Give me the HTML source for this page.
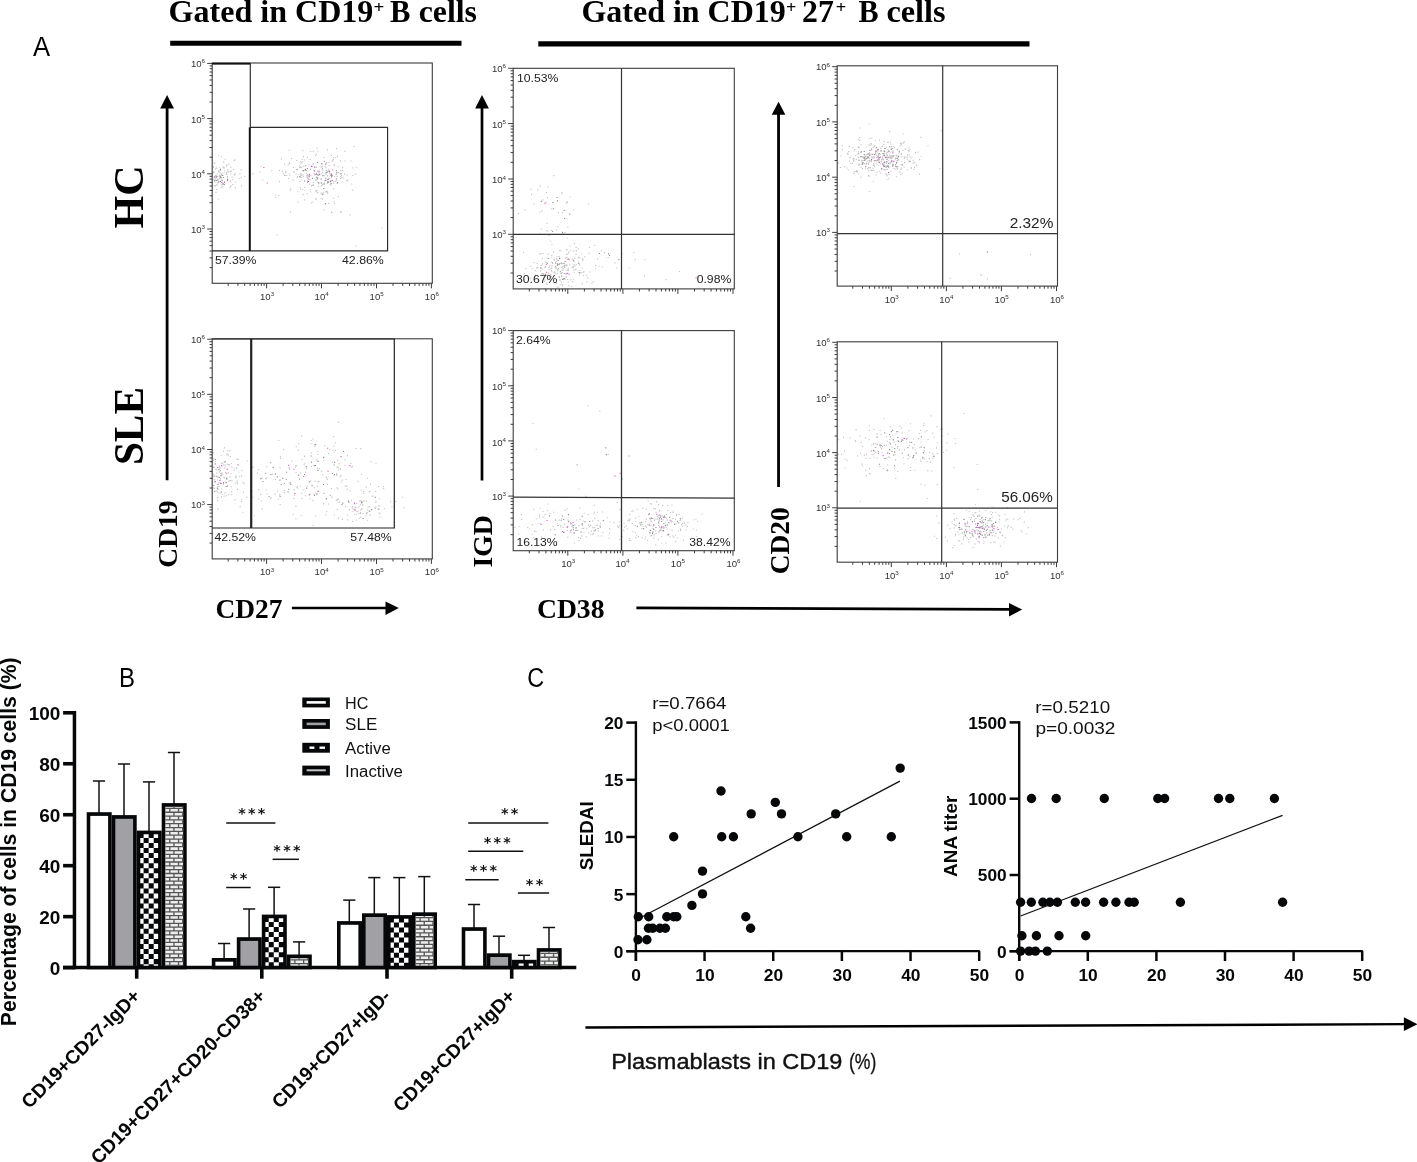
<!DOCTYPE html>
<html><head><meta charset="utf-8"><title>Figure</title><style>html,body{margin:0;padding:0;background:#fff}svg{display:block}</style></head><body>
<svg width="1417" height="1162" viewBox="0 0 1417 1162">
<rect width="1417" height="1162" fill="#fff"/>
<defs>
<pattern id="chk" width="10" height="10" patternUnits="userSpaceOnUse" x="3.6" y="8.1"><rect width="10" height="10" fill="#fff"/><rect width="5" height="5" fill="#000"/><rect x="5" y="5" width="5" height="5" fill="#000"/></pattern>
<pattern id="brk" width="8.6" height="7.6" patternUnits="userSpaceOnUse" x="0.2" y="0.4"><rect width="8.6" height="7.6" fill="#fff"/><rect x="0.6" y="0.8" width="7.2" height="2.3" fill="#cfcfcf"/><rect x="-3.7" y="4.6" width="7.2" height="2.3" fill="#cfcfcf"/><rect x="4.9" y="4.6" width="7.2" height="2.3" fill="#cfcfcf"/></pattern>
</defs>
<text transform="translate(168.60,22.4) scale(1.0244,1)" font-family='"Liberation Serif", serif' font-size="31.30" font-weight="bold" fill="#000" >Gated in CD19</text>
<text transform="translate(373.59,13.3) scale(1.1871,1)" font-family='"Liberation Serif", serif' font-size="16.00" font-weight="bold" fill="#000" >+</text>
<text transform="translate(389.89,22.4) scale(0.9790,1)" font-family='"Liberation Serif", serif' font-size="31.30" font-weight="bold" fill="#000" >B</text>
<text transform="translate(418.64,22.4) scale(1.0180,1)" font-family='"Liberation Serif", serif' font-size="31.30" font-weight="bold" fill="#000" >cells</text>
<text transform="translate(581.40,22.2) scale(1.0224,1)" font-family='"Liberation Serif", serif' font-size="31.30" font-weight="bold" fill="#000" >Gated in CD19</text>
<text transform="translate(786.03,13.1) scale(1.1331,1)" font-family='"Liberation Serif", serif' font-size="16.00" font-weight="bold" fill="#000" >+</text>
<text transform="translate(802.12,22.2) scale(1.0167,1)" font-family='"Liberation Serif", serif' font-size="31.30" font-weight="bold" fill="#000" >27</text>
<text transform="translate(835.81,13.1) scale(1.1601,1)" font-family='"Liberation Serif", serif' font-size="16.00" font-weight="bold" fill="#000" >+</text>
<text transform="translate(858.40,22.2) scale(0.9637,1)" font-family='"Liberation Serif", serif' font-size="31.30" font-weight="bold" fill="#000" >B</text>
<text transform="translate(886.42,22.2) scale(1.0324,1)" font-family='"Liberation Serif", serif' font-size="31.30" font-weight="bold" fill="#000" >cells</text>
<line x1="170.2" y1="43.25" x2="461.5" y2="43.25" stroke="#000" stroke-width="5.0" />
<line x1="538.3" y1="43.85" x2="1029.5" y2="43.85" stroke="#000" stroke-width="5.2" />
<text transform="translate(32.97,56.0) scale(0.9167,1)" font-family='"Liberation Sans", sans-serif' font-size="28.00" font-weight="normal" fill="#000" >A</text>
<text transform="translate(143.0,228.50) rotate(-90) scale(1.0155,1)" font-family='"Liberation Serif", serif' font-size="41.37" font-weight="bold" fill="#000">HC</text>
<text transform="translate(142.8,465.10) rotate(-90) scale(0.9838,1)" font-family='"Liberation Serif", serif' font-size="41.98" font-weight="bold" fill="#000">SLE</text>
<line x1="167.1" y1="107.6" x2="167.1" y2="480.3" stroke="#000" stroke-width="2.8" />
<polygon points="167.1,95.0 160.2,108.6 174.0,108.6" fill="#000"/>
<line x1="482.0" y1="107.6" x2="482.0" y2="480.5" stroke="#000" stroke-width="2.7" />
<polygon points="482.0,95.0 475.1,108.6 488.9,108.6" fill="#000"/>
<line x1="778.55" y1="113.8" x2="778.55" y2="486.9" stroke="#000" stroke-width="2.8" />
<polygon points="778.55,101.7 771.75,114.8 785.3499999999999,114.8" fill="#000"/>
<text transform="translate(177.1,567.67) rotate(-90) scale(0.9896,1)" font-family='"Liberation Serif", serif' font-size="27.79" font-weight="bold" fill="#000">CD19</text>
<text transform="translate(492.0,567.52) rotate(-90) scale(0.9980,1)" font-family='"Liberation Serif", serif' font-size="27.79" font-weight="bold" fill="#000">IGD</text>
<text transform="translate(788.9,574.17) rotate(-90) scale(0.9904,1)" font-family='"Liberation Serif", serif' font-size="27.63" font-weight="bold" fill="#000">CD20</text>
<text transform="translate(215.43,617.8) scale(0.9925,1)" font-family='"Liberation Serif", serif' font-size="27.63" font-weight="bold" fill="#000" >CD27</text>
<line x1="291.9" y1="608.0" x2="388" y2="608.0" stroke="#000" stroke-width="2.7" />
<polygon points="398.8,608.1 385.5,601.4 385.5,614.9" fill="#000"/>
<text transform="translate(536.92,618.2) scale(1.0013,1)" font-family='"Liberation Serif", serif' font-size="27.63" font-weight="bold" fill="#000" >CD38</text>
<line x1="636.4" y1="607.9" x2="1011" y2="609.4" stroke="#000" stroke-width="2.7" />
<polygon points="1022.2,609.6 1009.0,603.0 1009.0,616.4" fill="#000"/>
<path d="M214.7,179.6h1.1v1.1h-1.1zM221.6,179.5h1.1v1.1h-1.1zM219.7,174.6h1.1v1.1h-1.1zM222.0,185.8h1.1v1.1h-1.1zM214.9,168.6h1.1v1.1h-1.1zM216.0,167.6h1.1v1.1h-1.1zM223.9,181.3h1.1v1.1h-1.1zM226.6,171.5h1.1v1.1h-1.1zM230.0,180.2h1.1v1.1h-1.1zM233.7,174.3h1.1v1.1h-1.1zM219.3,177.1h1.1v1.1h-1.1zM219.5,172.3h1.1v1.1h-1.1zM224.6,158.7h1.1v1.1h-1.1zM233.9,159.9h1.1v1.1h-1.1zM216.9,175.8h1.1v1.1h-1.1zM230.2,171.0h1.1v1.1h-1.1zM235.2,181.4h1.1v1.1h-1.1zM228.3,163.6h1.1v1.1h-1.1zM213.6,177.5h1.1v1.1h-1.1zM215.7,176.5h1.1v1.1h-1.1zM229.5,187.2h1.1v1.1h-1.1zM215.4,191.8h1.1v1.1h-1.1zM238.9,178.2h1.1v1.1h-1.1zM226.1,164.5h1.1v1.1h-1.1zM213.4,179.0h1.1v1.1h-1.1zM213.9,180.6h1.1v1.1h-1.1zM234.5,173.3h1.1v1.1h-1.1zM223.1,161.6h1.1v1.1h-1.1zM216.2,188.8h1.1v1.1h-1.1zM239.4,173.3h1.1v1.1h-1.1zM220.6,187.1h1.1v1.1h-1.1zM222.5,166.3h1.1v1.1h-1.1zM218.2,171.4h1.1v1.1h-1.1zM230.3,166.6h1.1v1.1h-1.1zM219.0,167.2h1.1v1.1h-1.1zM225.9,173.4h1.1v1.1h-1.1zM230.7,170.3h1.1v1.1h-1.1zM220.6,178.7h1.1v1.1h-1.1zM218.8,170.3h1.1v1.1h-1.1zM230.1,173.4h1.1v1.1h-1.1zM240.8,177.1h1.1v1.1h-1.1zM215.2,181.4h1.1v1.1h-1.1zM224.1,170.5h1.1v1.1h-1.1zM215.3,174.7h1.1v1.1h-1.1zM217.3,175.7h1.1v1.1h-1.1zM221.8,184.0h1.1v1.1h-1.1zM217.9,170.8h1.1v1.1h-1.1zM217.1,182.2h1.1v1.1h-1.1zM218.2,155.2h1.1v1.1h-1.1zM223.5,172.5h1.1v1.1h-1.1zM233.1,169.0h1.1v1.1h-1.1zM217.2,178.5h1.1v1.1h-1.1zM221.1,156.2h1.1v1.1h-1.1zM214.2,162.1h1.1v1.1h-1.1zM234.5,159.2h1.1v1.1h-1.1zM225.7,172.3h1.1v1.1h-1.1zM234.0,173.9h1.1v1.1h-1.1zM216.7,173.2h1.1v1.1h-1.1zM241.0,185.3h1.1v1.1h-1.1zM232.2,178.8h1.1v1.1h-1.1zM223.5,181.9h1.1v1.1h-1.1zM227.2,169.3h1.1v1.1h-1.1zM219.6,176.7h1.1v1.1h-1.1zM213.9,176.6h1.1v1.1h-1.1zM232.3,183.9h1.1v1.1h-1.1zM216.5,179.7h1.1v1.1h-1.1zM231.6,176.4h1.1v1.1h-1.1zM220.8,184.5h1.1v1.1h-1.1zM230.1,185.3h1.1v1.1h-1.1zM213.6,162.7h1.1v1.1h-1.1zM230.4,181.4h1.1v1.1h-1.1zM219.0,178.2h1.1v1.1h-1.1zM226.2,165.3h1.1v1.1h-1.1zM217.4,182.5h1.1v1.1h-1.1zM240.5,169.3h1.1v1.1h-1.1zM217.8,198.4h1.1v1.1h-1.1zM301.1,167.1h1.1v1.1h-1.1zM304.1,159.4h1.1v1.1h-1.1zM307.1,180.3h1.1v1.1h-1.1zM333.2,188.2h1.1v1.1h-1.1zM347.2,179.7h1.1v1.1h-1.1zM299.9,161.2h1.1v1.1h-1.1zM330.5,184.3h1.1v1.1h-1.1zM332.7,156.9h1.1v1.1h-1.1zM288.8,162.3h1.1v1.1h-1.1zM328.5,161.9h1.1v1.1h-1.1zM301.0,162.2h1.1v1.1h-1.1zM346.6,174.4h1.1v1.1h-1.1zM298.2,173.7h1.1v1.1h-1.1zM341.9,181.2h1.1v1.1h-1.1zM329.2,177.9h1.1v1.1h-1.1zM325.3,191.3h1.1v1.1h-1.1zM302.3,174.4h1.1v1.1h-1.1zM306.9,156.8h1.1v1.1h-1.1zM317.3,192.1h1.1v1.1h-1.1zM315.2,190.3h1.1v1.1h-1.1zM312.0,165.9h1.1v1.1h-1.1zM326.4,169.5h1.1v1.1h-1.1zM320.8,173.2h1.1v1.1h-1.1zM335.9,147.9h1.1v1.1h-1.1zM316.7,181.5h1.1v1.1h-1.1zM278.9,169.9h1.1v1.1h-1.1zM326.1,162.1h1.1v1.1h-1.1zM314.6,166.4h1.1v1.1h-1.1zM318.5,173.5h1.1v1.1h-1.1zM322.3,169.3h1.1v1.1h-1.1zM310.1,150.9h1.1v1.1h-1.1zM306.9,181.9h1.1v1.1h-1.1zM305.2,168.5h1.1v1.1h-1.1zM324.7,166.2h1.1v1.1h-1.1zM318.1,182.6h1.1v1.1h-1.1zM323.7,183.9h1.1v1.1h-1.1zM339.9,160.6h1.1v1.1h-1.1zM350.5,160.5h1.1v1.1h-1.1zM317.0,170.6h1.1v1.1h-1.1zM292.5,179.6h1.1v1.1h-1.1zM316.9,177.4h1.1v1.1h-1.1zM310.2,191.2h1.1v1.1h-1.1zM316.5,190.0h1.1v1.1h-1.1zM323.8,180.4h1.1v1.1h-1.1zM306.7,174.1h1.1v1.1h-1.1zM287.7,164.3h1.1v1.1h-1.1zM303.9,179.9h1.1v1.1h-1.1zM310.8,202.4h1.1v1.1h-1.1zM295.5,173.7h1.1v1.1h-1.1zM304.0,181.0h1.1v1.1h-1.1zM342.6,177.5h1.1v1.1h-1.1zM289.6,189.8h1.1v1.1h-1.1zM344.4,150.8h1.1v1.1h-1.1zM325.2,178.0h1.1v1.1h-1.1zM302.2,150.1h1.1v1.1h-1.1zM301.6,159.0h1.1v1.1h-1.1zM313.7,173.0h1.1v1.1h-1.1zM321.9,198.6h1.1v1.1h-1.1zM301.8,161.1h1.1v1.1h-1.1zM335.6,179.7h1.1v1.1h-1.1zM309.3,179.1h1.1v1.1h-1.1zM331.5,174.6h1.1v1.1h-1.1zM340.3,170.0h1.1v1.1h-1.1zM342.2,169.8h1.1v1.1h-1.1zM336.6,175.8h1.1v1.1h-1.1zM307.2,178.1h1.1v1.1h-1.1zM309.2,183.8h1.1v1.1h-1.1zM327.2,192.6h1.1v1.1h-1.1zM307.2,173.8h1.1v1.1h-1.1zM306.8,192.9h1.1v1.1h-1.1zM322.8,192.3h1.1v1.1h-1.1zM320.8,185.3h1.1v1.1h-1.1zM328.0,202.9h1.1v1.1h-1.1zM344.6,160.4h1.1v1.1h-1.1zM355.1,173.6h1.1v1.1h-1.1zM332.8,197.7h1.1v1.1h-1.1zM341.2,177.2h1.1v1.1h-1.1zM325.9,172.4h1.1v1.1h-1.1zM322.0,184.0h1.1v1.1h-1.1zM302.8,175.8h1.1v1.1h-1.1zM323.3,183.8h1.1v1.1h-1.1zM334.2,176.1h1.1v1.1h-1.1zM351.2,183.5h1.1v1.1h-1.1zM317.4,150.5h1.1v1.1h-1.1zM312.4,201.4h1.1v1.1h-1.1zM316.1,191.4h1.1v1.1h-1.1zM317.8,174.9h1.1v1.1h-1.1zM337.6,166.2h1.1v1.1h-1.1zM329.5,175.2h1.1v1.1h-1.1zM356.2,166.7h1.1v1.1h-1.1zM317.9,185.7h1.1v1.1h-1.1zM327.2,170.9h1.1v1.1h-1.1zM315.8,153.6h1.1v1.1h-1.1zM299.9,188.7h1.1v1.1h-1.1zM326.7,191.4h1.1v1.1h-1.1zM321.9,175.1h1.1v1.1h-1.1zM297.5,201.4h1.1v1.1h-1.1zM333.5,181.4h1.1v1.1h-1.1zM307.0,176.6h1.1v1.1h-1.1zM300.6,162.7h1.1v1.1h-1.1zM331.5,160.7h1.1v1.1h-1.1zM325.2,166.3h1.1v1.1h-1.1zM299.7,186.9h1.1v1.1h-1.1zM278.3,194.9h1.1v1.1h-1.1zM321.4,193.9h1.1v1.1h-1.1zM325.4,173.7h1.1v1.1h-1.1zM330.9,154.9h1.1v1.1h-1.1zM333.9,201.5h1.1v1.1h-1.1zM332.0,169.5h1.1v1.1h-1.1zM306.2,176.7h1.1v1.1h-1.1zM325.1,172.3h1.1v1.1h-1.1zM299.2,164.7h1.1v1.1h-1.1zM332.2,174.7h1.1v1.1h-1.1zM330.9,180.6h1.1v1.1h-1.1zM304.0,199.5h1.1v1.1h-1.1zM304.3,169.8h1.1v1.1h-1.1zM353.5,146.0h1.1v1.1h-1.1zM326.4,190.8h1.1v1.1h-1.1zM352.4,174.9h1.1v1.1h-1.1zM325.0,163.8h1.1v1.1h-1.1zM296.3,169.0h1.1v1.1h-1.1zM281.9,170.7h1.1v1.1h-1.1zM289.1,175.2h1.1v1.1h-1.1zM320.7,179.4h1.1v1.1h-1.1zM332.2,169.1h1.1v1.1h-1.1zM296.3,159.9h1.1v1.1h-1.1zM320.5,166.4h1.1v1.1h-1.1zM335.1,157.0h1.1v1.1h-1.1zM321.2,184.9h1.1v1.1h-1.1zM322.2,169.3h1.1v1.1h-1.1zM299.5,181.0h1.1v1.1h-1.1zM308.6,163.9h1.1v1.1h-1.1zM340.0,176.2h1.1v1.1h-1.1zM320.5,192.6h1.1v1.1h-1.1zM308.3,175.8h1.1v1.1h-1.1zM324.6,177.6h1.1v1.1h-1.1zM332.5,180.5h1.1v1.1h-1.1zM340.0,178.0h1.1v1.1h-1.1zM315.1,155.0h1.1v1.1h-1.1zM326.2,172.2h1.1v1.1h-1.1zM344.0,173.6h1.1v1.1h-1.1zM333.7,203.2h1.1v1.1h-1.1zM352.3,167.4h1.1v1.1h-1.1zM326.8,149.3h1.1v1.1h-1.1zM302.1,188.9h1.1v1.1h-1.1zM328.2,168.7h1.1v1.1h-1.1zM329.7,184.2h1.1v1.1h-1.1zM321.2,182.3h1.1v1.1h-1.1zM337.9,195.9h1.1v1.1h-1.1zM325.7,169.9h1.1v1.1h-1.1zM332.8,183.0h1.1v1.1h-1.1zM297.3,191.2h1.1v1.1h-1.1zM289.0,163.0h1.1v1.1h-1.1zM321.7,165.8h1.1v1.1h-1.1zM304.6,169.1h1.1v1.1h-1.1zM308.7,176.4h1.1v1.1h-1.1zM346.3,180.1h1.1v1.1h-1.1zM288.5,149.7h1.1v1.1h-1.1zM326.9,175.3h1.1v1.1h-1.1zM300.5,179.4h1.1v1.1h-1.1zM325.8,179.8h1.1v1.1h-1.1zM336.8,182.9h1.1v1.1h-1.1zM341.0,175.1h1.1v1.1h-1.1zM304.4,186.8h1.1v1.1h-1.1zM342.0,167.1h1.1v1.1h-1.1zM321.9,172.1h1.1v1.1h-1.1zM318.5,172.3h1.1v1.1h-1.1zM303.2,165.8h1.1v1.1h-1.1zM316.4,177.3h1.1v1.1h-1.1zM332.8,158.9h1.1v1.1h-1.1zM304.4,189.7h1.1v1.1h-1.1zM332.2,159.7h1.1v1.1h-1.1zM301.8,170.1h1.1v1.1h-1.1zM305.6,172.7h1.1v1.1h-1.1zM328.9,172.3h1.1v1.1h-1.1zM316.5,147.6h1.1v1.1h-1.1zM302.7,194.1h1.1v1.1h-1.1zM320.4,198.0h1.1v1.1h-1.1zM309.7,158.8h1.1v1.1h-1.1zM287.9,178.0h1.1v1.1h-1.1zM328.7,164.8h1.1v1.1h-1.1zM271.3,170.2h1.1v1.1h-1.1zM288.6,173.5h1.1v1.1h-1.1zM249.1,161.5h1.1v1.1h-1.1zM302.9,156.1h1.1v1.1h-1.1zM335.2,181.1h1.1v1.1h-1.1zM286.1,174.7h1.1v1.1h-1.1zM296.2,159.9h1.1v1.1h-1.1zM321.2,182.7h1.1v1.1h-1.1zM279.0,181.1h1.1v1.1h-1.1zM262.2,179.5h1.1v1.1h-1.1zM221.4,172.5h1.1v1.1h-1.1zM310.4,175.0h1.1v1.1h-1.1zM284.0,163.9h1.1v1.1h-1.1zM259.6,171.4h1.1v1.1h-1.1zM326.7,183.0h1.1v1.1h-1.1zM300.2,173.1h1.1v1.1h-1.1zM282.8,172.9h1.1v1.1h-1.1zM226.5,174.0h1.1v1.1h-1.1zM252.3,173.3h1.1v1.1h-1.1zM275.2,196.9h1.1v1.1h-1.1zM290.2,188.1h1.1v1.1h-1.1zM312.9,182.1h1.1v1.1h-1.1zM290.9,158.0h1.1v1.1h-1.1zM260.5,166.2h1.1v1.1h-1.1zM230.3,185.9h1.1v1.1h-1.1zM274.7,194.4h1.1v1.1h-1.1zM234.8,187.3h1.1v1.1h-1.1zM244.2,176.0h1.1v1.1h-1.1zM280.8,158.6h1.1v1.1h-1.1zM323.3,209.3h1.1v1.1h-1.1zM308.4,174.8h1.1v1.1h-1.1zM290.1,211.6h1.1v1.1h-1.1zM349.6,214.3h1.1v1.1h-1.1zM316.0,166.8h1.1v1.1h-1.1zM355.3,245.4h1.1v1.1h-1.1zM381.4,227.5h1.1v1.1h-1.1zM276.4,234.4h1.1v1.1h-1.1zM339.8,173.2h1.1v1.1h-1.1zM309.8,188.9h1.1v1.1h-1.1zM352.2,189.6h1.1v1.1h-1.1zM321.1,163.5h1.1v1.1h-1.1zM314.9,166.5h1.1v1.1h-1.1zM322.1,194.1h1.1v1.1h-1.1zM338.0,172.1h1.1v1.1h-1.1z" fill="#c2c2c2"/>
<path d="M227.0,179.9h1.1v1.1h-1.1zM227.0,178.8h1.1v1.1h-1.1zM228.2,171.2h1.1v1.1h-1.1zM215.8,179.9h1.1v1.1h-1.1zM219.9,176.2h1.1v1.1h-1.1zM213.0,166.4h1.1v1.1h-1.1zM223.0,183.5h1.1v1.1h-1.1zM226.9,176.4h1.1v1.1h-1.1zM221.7,179.9h1.1v1.1h-1.1zM219.9,180.8h1.1v1.1h-1.1zM220.1,176.3h1.1v1.1h-1.1zM222.2,175.0h1.1v1.1h-1.1zM213.2,171.6h1.1v1.1h-1.1zM220.6,177.1h1.1v1.1h-1.1zM223.8,184.0h1.1v1.1h-1.1zM219.1,175.4h1.1v1.1h-1.1zM218.2,181.3h1.1v1.1h-1.1zM219.9,169.5h1.1v1.1h-1.1zM216.4,184.4h1.1v1.1h-1.1zM213.8,180.0h1.1v1.1h-1.1zM215.4,175.6h1.1v1.1h-1.1zM221.2,174.3h1.1v1.1h-1.1zM219.9,168.7h1.1v1.1h-1.1zM223.4,167.5h1.1v1.1h-1.1zM217.3,179.3h1.1v1.1h-1.1zM222.7,176.9h1.1v1.1h-1.1zM214.4,185.3h1.1v1.1h-1.1zM216.0,176.4h1.1v1.1h-1.1zM215.3,177.5h1.1v1.1h-1.1zM222.4,183.2h1.1v1.1h-1.1zM317.5,174.4h1.1v1.1h-1.1zM299.3,176.1h1.1v1.1h-1.1zM316.4,174.0h1.1v1.1h-1.1zM331.5,175.3h1.1v1.1h-1.1zM328.1,181.7h1.1v1.1h-1.1zM314.0,170.5h1.1v1.1h-1.1zM300.5,176.7h1.1v1.1h-1.1zM323.2,188.1h1.1v1.1h-1.1zM300.5,174.6h1.1v1.1h-1.1zM327.3,181.8h1.1v1.1h-1.1zM317.2,177.4h1.1v1.1h-1.1zM330.6,182.9h1.1v1.1h-1.1zM303.0,170.1h1.1v1.1h-1.1zM335.5,173.7h1.1v1.1h-1.1zM320.5,178.5h1.1v1.1h-1.1zM327.9,178.4h1.1v1.1h-1.1zM320.7,182.5h1.1v1.1h-1.1zM297.0,176.4h1.1v1.1h-1.1zM315.2,179.4h1.1v1.1h-1.1zM306.4,175.2h1.1v1.1h-1.1zM335.9,170.2h1.1v1.1h-1.1zM326.5,172.0h1.1v1.1h-1.1zM323.3,175.2h1.1v1.1h-1.1zM307.9,181.0h1.1v1.1h-1.1zM331.0,174.2h1.1v1.1h-1.1zM306.9,167.9h1.1v1.1h-1.1zM318.2,182.3h1.1v1.1h-1.1zM333.7,164.4h1.1v1.1h-1.1zM330.9,176.3h1.1v1.1h-1.1zM309.8,168.7h1.1v1.1h-1.1zM324.8,179.8h1.1v1.1h-1.1zM323.5,182.7h1.1v1.1h-1.1zM323.7,160.7h1.1v1.1h-1.1zM313.5,170.3h1.1v1.1h-1.1zM312.5,163.4h1.1v1.1h-1.1zM336.9,182.1h1.1v1.1h-1.1zM309.0,173.8h1.1v1.1h-1.1zM336.2,172.1h1.1v1.1h-1.1zM311.9,177.8h1.1v1.1h-1.1zM296.6,169.2h1.1v1.1h-1.1zM335.9,178.4h1.1v1.1h-1.1zM316.2,176.7h1.1v1.1h-1.1zM340.5,173.3h1.1v1.1h-1.1zM319.1,174.1h1.1v1.1h-1.1zM329.8,180.4h1.1v1.1h-1.1zM299.5,166.6h1.1v1.1h-1.1zM305.1,165.2h1.1v1.1h-1.1zM329.0,170.8h1.1v1.1h-1.1zM321.3,163.1h1.1v1.1h-1.1zM326.3,171.8h1.1v1.1h-1.1zM321.8,167.7h1.1v1.1h-1.1zM317.1,161.9h1.1v1.1h-1.1zM330.4,174.8h1.1v1.1h-1.1zM305.6,170.0h1.1v1.1h-1.1zM284.3,174.8h1.1v1.1h-1.1zM304.9,169.0h1.1v1.1h-1.1zM316.7,178.4h1.1v1.1h-1.1zM293.4,171.4h1.1v1.1h-1.1zM285.2,171.5h1.1v1.1h-1.1zM331.2,211.7h1.1v1.1h-1.1zM340.5,211.3h1.1v1.1h-1.1zM315.3,198.5h1.1v1.1h-1.1zM327.2,180.9h1.1v1.1h-1.1zM322.3,193.5h1.1v1.1h-1.1zM325.0,203.1h1.1v1.1h-1.1zM311.2,185.2h1.1v1.1h-1.1zM329.9,181.2h1.1v1.1h-1.1zM312.7,184.6h1.1v1.1h-1.1z" fill="#8e8e8e"/>
<path d="M213.9,176.4h1.1v1.1h-1.1zM221.3,182.0h1.1v1.1h-1.1zM224.0,181.7h1.1v1.1h-1.1zM331.7,179.9h1.1v1.1h-1.1zM314.0,166.5h1.1v1.1h-1.1zM315.7,173.3h1.1v1.1h-1.1zM314.4,174.2h1.1v1.1h-1.1zM307.6,181.0h1.1v1.1h-1.1zM328.2,170.4h1.1v1.1h-1.1zM325.4,163.5h1.1v1.1h-1.1zM318.5,170.8h1.1v1.1h-1.1zM330.5,173.3h1.1v1.1h-1.1zM308.8,175.6h1.1v1.1h-1.1zM310.9,165.8h1.1v1.1h-1.1zM308.2,178.5h1.1v1.1h-1.1zM327.2,178.9h1.1v1.1h-1.1zM263.3,166.9h1.1v1.1h-1.1zM266.7,182.5h1.1v1.1h-1.1z" fill="#d455c6"/>
<path d="M336.9,155.8h1.1v1.1h-1.1zM312.6,150.8h1.1v1.1h-1.1zM293.1,166.9h1.1v1.1h-1.1zM323.2,156.9h1.1v1.1h-1.1z" fill="#e3b4de"/>
<rect x="212.2" y="63" width="220.10000000000002" height="220.3" fill="none" stroke="#3c3c3c" stroke-width="1.1"/>
<path d="M228.2,283.3v2.6M212.2,267.6h-2.6M237.9,283.3v2.6M212.2,257.9h-2.6M244.7,283.3v2.6M212.2,251.0h-2.6M250.1,283.3v2.6M212.2,245.6h-2.6M254.4,283.3v2.6M212.2,241.2h-2.6M258.1,283.3v2.6M212.2,237.6h-2.6M261.3,283.3v2.6M212.2,234.3h-2.6M264.1,283.3v2.6M212.2,231.5h-2.6M266.6,283.3v5.0M212.2,229.0h-5.0M283.1,283.3v2.6M212.2,212.4h-2.6M292.8,283.3v2.6M212.2,202.7h-2.6M299.7,283.3v2.6M212.2,195.8h-2.6M305.0,283.3v2.6M212.2,190.4h-2.6M309.3,283.3v2.6M212.2,186.0h-2.6M313.0,283.3v2.6M212.2,182.4h-2.6M316.2,283.3v2.6M212.2,179.1h-2.6M319.0,283.3v2.6M212.2,176.3h-2.6M321.5,283.3v5.0M212.2,173.8h-5.0M338.1,283.3v2.6M212.2,157.2h-2.6M347.7,283.3v2.6M212.2,147.5h-2.6M354.6,283.3v2.6M212.2,140.6h-2.6M359.9,283.3v2.6M212.2,135.2h-2.6M364.3,283.3v2.6M212.2,130.8h-2.6M368.0,283.3v2.6M212.2,127.2h-2.6M371.1,283.3v2.6M212.2,123.9h-2.6M374.0,283.3v2.6M212.2,121.1h-2.6M376.5,283.3v5.0M212.2,118.6h-5.0M393.0,283.3v2.6M212.2,102.0h-2.6M402.7,283.3v2.6M212.2,92.3h-2.6M409.5,283.3v2.6M212.2,85.4h-2.6M414.9,283.3v2.6M212.2,80.0h-2.6M419.2,283.3v2.6M212.2,75.6h-2.6M422.9,283.3v2.6M212.2,72.0h-2.6M426.1,283.3v2.6M212.2,68.7h-2.6M428.9,283.3v2.6M212.2,65.9h-2.6M431.4,283.3v5.0M212.2,63.4h-5.0" stroke="#3c3c3c" stroke-width="1" fill="none"/>
<text x="260.0" y="299.7" font-family='"Liberation Sans", sans-serif' font-size="9.6" fill="#333">10<tspan dy="-3.7" font-size="6.2">3</tspan></text>
<text x="190.9" y="232.6" font-family='"Liberation Sans", sans-serif' font-size="9.6" fill="#333">10<tspan dy="-3.7" font-size="6.2">3</tspan></text>
<text x="314.6" y="299.7" font-family='"Liberation Sans", sans-serif' font-size="9.6" fill="#333">10<tspan dy="-3.7" font-size="6.2">4</tspan></text>
<text x="190.9" y="177.8" font-family='"Liberation Sans", sans-serif' font-size="9.6" fill="#333">10<tspan dy="-3.7" font-size="6.2">4</tspan></text>
<text x="369.6" y="299.7" font-family='"Liberation Sans", sans-serif' font-size="9.6" fill="#333">10<tspan dy="-3.7" font-size="6.2">5</tspan></text>
<text x="190.9" y="122.5" font-family='"Liberation Sans", sans-serif' font-size="9.6" fill="#333">10<tspan dy="-3.7" font-size="6.2">5</tspan></text>
<text x="424.8" y="299.7" font-family='"Liberation Sans", sans-serif' font-size="9.6" fill="#333">10<tspan dy="-3.7" font-size="6.2">6</tspan></text>
<text x="190.9" y="67.0" font-family='"Liberation Sans", sans-serif' font-size="9.6" fill="#333">10<tspan dy="-3.7" font-size="6.2">6</tspan></text>
<path d="M212.2,63.6H250.3V127.4H387.6V250.9H212.2" fill="none" stroke="#2a2a2a" stroke-width="1.15"/>
<line x1="249.8" y1="127.4" x2="249.8" y2="250.9" stroke="#111" stroke-width="2" />
<line x1="212.2" y1="63.6" x2="250.3" y2="63.6" stroke="#111" stroke-width="1.6" />
<text x="214.9" y="263.7" font-family='"Liberation Sans", sans-serif' font-size="11.3" font-weight="normal" text-anchor="start" fill="#222" textLength="41.5" lengthAdjust="spacingAndGlyphs" >57.39%</text>
<text x="342" y="263.7" font-family='"Liberation Sans", sans-serif' font-size="11.3" font-weight="normal" text-anchor="start" fill="#222" textLength="41.8" lengthAdjust="spacingAndGlyphs" >42.86%</text>
<path d="M218.0,488.6h1.1v1.1h-1.1zM224.5,492.3h1.1v1.1h-1.1zM221.0,474.4h1.1v1.1h-1.1zM228.2,494.2h1.1v1.1h-1.1zM213.0,474.3h1.1v1.1h-1.1zM224.4,461.1h1.1v1.1h-1.1zM225.2,472.1h1.1v1.1h-1.1zM240.8,501.1h1.1v1.1h-1.1zM229.4,476.1h1.1v1.1h-1.1zM220.9,496.1h1.1v1.1h-1.1zM231.1,491.3h1.1v1.1h-1.1zM228.0,472.3h1.1v1.1h-1.1zM226.5,453.3h1.1v1.1h-1.1zM223.2,464.5h1.1v1.1h-1.1zM235.6,475.4h1.1v1.1h-1.1zM218.3,486.0h1.1v1.1h-1.1zM229.2,450.1h1.1v1.1h-1.1zM231.2,493.9h1.1v1.1h-1.1zM219.7,475.2h1.1v1.1h-1.1zM223.0,482.4h1.1v1.1h-1.1zM214.4,481.2h1.1v1.1h-1.1zM219.7,467.4h1.1v1.1h-1.1zM223.0,450.9h1.1v1.1h-1.1zM213.2,460.0h1.1v1.1h-1.1zM218.6,482.1h1.1v1.1h-1.1zM239.1,476.0h1.1v1.1h-1.1zM223.7,464.4h1.1v1.1h-1.1zM222.2,473.7h1.1v1.1h-1.1zM216.3,472.6h1.1v1.1h-1.1zM220.3,473.0h1.1v1.1h-1.1zM224.8,465.5h1.1v1.1h-1.1zM220.9,488.5h1.1v1.1h-1.1zM216.2,490.3h1.1v1.1h-1.1zM218.7,471.4h1.1v1.1h-1.1zM231.3,466.6h1.1v1.1h-1.1zM223.9,447.3h1.1v1.1h-1.1zM213.1,458.5h1.1v1.1h-1.1zM221.8,493.7h1.1v1.1h-1.1zM236.5,480.2h1.1v1.1h-1.1zM226.5,454.5h1.1v1.1h-1.1zM217.5,486.0h1.1v1.1h-1.1zM213.1,487.5h1.1v1.1h-1.1zM221.4,473.2h1.1v1.1h-1.1zM223.4,476.6h1.1v1.1h-1.1zM230.4,473.2h1.1v1.1h-1.1zM230.7,486.2h1.1v1.1h-1.1zM215.7,468.9h1.1v1.1h-1.1zM236.9,488.8h1.1v1.1h-1.1zM235.4,477.3h1.1v1.1h-1.1zM220.6,454.7h1.1v1.1h-1.1zM217.4,469.6h1.1v1.1h-1.1zM214.9,461.0h1.1v1.1h-1.1zM217.3,508.6h1.1v1.1h-1.1zM219.9,475.2h1.1v1.1h-1.1zM217.1,467.2h1.1v1.1h-1.1zM215.3,468.5h1.1v1.1h-1.1zM236.1,467.3h1.1v1.1h-1.1zM217.0,479.4h1.1v1.1h-1.1zM238.5,471.5h1.1v1.1h-1.1zM213.8,487.8h1.1v1.1h-1.1zM217.1,488.6h1.1v1.1h-1.1zM228.0,454.4h1.1v1.1h-1.1zM229.8,456.0h1.1v1.1h-1.1zM223.6,495.6h1.1v1.1h-1.1zM219.5,492.7h1.1v1.1h-1.1zM217.5,496.7h1.1v1.1h-1.1zM213.4,476.4h1.1v1.1h-1.1zM219.1,465.6h1.1v1.1h-1.1zM236.2,458.7h1.1v1.1h-1.1zM214.8,463.2h1.1v1.1h-1.1zM220.0,478.2h1.1v1.1h-1.1zM214.3,479.4h1.1v1.1h-1.1zM219.5,467.6h1.1v1.1h-1.1zM220.9,475.4h1.1v1.1h-1.1zM226.5,463.8h1.1v1.1h-1.1zM216.6,497.5h1.1v1.1h-1.1zM235.7,467.7h1.1v1.1h-1.1zM231.3,480.2h1.1v1.1h-1.1zM221.4,472.5h1.1v1.1h-1.1zM213.6,478.9h1.1v1.1h-1.1zM217.4,491.7h1.1v1.1h-1.1zM233.8,469.8h1.1v1.1h-1.1zM251.3,466.4h1.1v1.1h-1.1zM237.5,458.8h1.1v1.1h-1.1zM236.5,481.7h1.1v1.1h-1.1zM223.8,477.5h1.1v1.1h-1.1zM233.3,467.7h1.1v1.1h-1.1zM218.4,482.2h1.1v1.1h-1.1zM235.4,476.6h1.1v1.1h-1.1zM242.6,481.7h1.1v1.1h-1.1zM238.2,464.5h1.1v1.1h-1.1zM237.1,464.2h1.1v1.1h-1.1zM223.6,461.7h1.1v1.1h-1.1zM224.0,467.6h1.1v1.1h-1.1zM222.9,483.6h1.1v1.1h-1.1zM214.6,481.8h1.1v1.1h-1.1zM230.9,463.2h1.1v1.1h-1.1zM256.9,472.4h1.1v1.1h-1.1zM225.4,481.2h1.1v1.1h-1.1zM234.6,482.4h1.1v1.1h-1.1zM220.0,474.7h1.1v1.1h-1.1zM226.0,495.2h1.1v1.1h-1.1zM216.9,483.7h1.1v1.1h-1.1zM212.7,452.1h1.1v1.1h-1.1zM219.2,479.6h1.1v1.1h-1.1zM236.9,483.1h1.1v1.1h-1.1zM334.9,449.8h1.1v1.1h-1.1zM369.9,483.8h1.1v1.1h-1.1zM265.5,477.6h1.1v1.1h-1.1zM336.8,499.6h1.1v1.1h-1.1zM318.7,468.2h1.1v1.1h-1.1zM260.8,500.4h1.1v1.1h-1.1zM355.4,448.0h1.1v1.1h-1.1zM260.8,478.2h1.1v1.1h-1.1zM383.0,486.1h1.1v1.1h-1.1zM266.0,466.2h1.1v1.1h-1.1zM295.6,472.0h1.1v1.1h-1.1zM246.7,460.5h1.1v1.1h-1.1zM252.4,466.8h1.1v1.1h-1.1zM334.6,442.3h1.1v1.1h-1.1zM246.3,496.5h1.1v1.1h-1.1zM239.6,506.1h1.1v1.1h-1.1zM217.1,500.0h1.1v1.1h-1.1zM350.2,462.8h1.1v1.1h-1.1zM336.5,487.2h1.1v1.1h-1.1zM322.2,474.5h1.1v1.1h-1.1zM279.5,467.3h1.1v1.1h-1.1zM330.9,488.1h1.1v1.1h-1.1zM317.4,481.3h1.1v1.1h-1.1zM312.5,438.3h1.1v1.1h-1.1zM324.2,445.2h1.1v1.1h-1.1zM344.8,485.5h1.1v1.1h-1.1zM288.9,467.0h1.1v1.1h-1.1zM266.2,477.6h1.1v1.1h-1.1zM293.6,494.9h1.1v1.1h-1.1zM331.3,496.6h1.1v1.1h-1.1zM274.8,478.8h1.1v1.1h-1.1zM318.1,491.0h1.1v1.1h-1.1zM241.3,470.1h1.1v1.1h-1.1zM258.0,468.9h1.1v1.1h-1.1zM291.2,460.6h1.1v1.1h-1.1zM301.1,492.7h1.1v1.1h-1.1zM261.7,508.6h1.1v1.1h-1.1zM326.7,478.8h1.1v1.1h-1.1zM306.5,485.6h1.1v1.1h-1.1zM251.5,490.8h1.1v1.1h-1.1zM312.6,525.0h1.1v1.1h-1.1zM280.0,457.8h1.1v1.1h-1.1zM316.7,460.4h1.1v1.1h-1.1zM297.7,449.6h1.1v1.1h-1.1zM310.9,452.4h1.1v1.1h-1.1zM304.2,456.2h1.1v1.1h-1.1zM340.5,474.6h1.1v1.1h-1.1zM313.7,444.3h1.1v1.1h-1.1zM274.5,493.6h1.1v1.1h-1.1zM314.4,445.9h1.1v1.1h-1.1zM325.7,498.6h1.1v1.1h-1.1zM361.2,501.2h1.1v1.1h-1.1zM333.8,451.4h1.1v1.1h-1.1zM309.6,498.2h1.1v1.1h-1.1zM310.0,480.4h1.1v1.1h-1.1zM228.0,480.7h1.1v1.1h-1.1zM261.6,477.6h1.1v1.1h-1.1zM276.9,490.8h1.1v1.1h-1.1zM253.8,515.2h1.1v1.1h-1.1zM266.6,493.5h1.1v1.1h-1.1zM360.2,448.1h1.1v1.1h-1.1zM258.3,489.3h1.1v1.1h-1.1zM278.2,498.4h1.1v1.1h-1.1zM313.4,493.8h1.1v1.1h-1.1zM338.6,463.1h1.1v1.1h-1.1zM366.9,477.7h1.1v1.1h-1.1zM314.7,492.4h1.1v1.1h-1.1zM252.2,496.7h1.1v1.1h-1.1zM323.3,460.0h1.1v1.1h-1.1zM312.4,500.0h1.1v1.1h-1.1zM295.4,505.8h1.1v1.1h-1.1zM341.8,479.6h1.1v1.1h-1.1zM313.5,487.3h1.1v1.1h-1.1zM241.0,475.3h1.1v1.1h-1.1zM303.6,464.2h1.1v1.1h-1.1zM356.2,502.8h1.1v1.1h-1.1zM363.4,492.8h1.1v1.1h-1.1zM333.3,475.1h1.1v1.1h-1.1zM300.0,485.4h1.1v1.1h-1.1zM317.0,467.6h1.1v1.1h-1.1zM311.0,466.0h1.1v1.1h-1.1zM336.3,474.8h1.1v1.1h-1.1zM301.4,497.9h1.1v1.1h-1.1zM304.9,495.2h1.1v1.1h-1.1zM243.5,483.1h1.1v1.1h-1.1zM326.1,477.3h1.1v1.1h-1.1zM346.1,485.8h1.1v1.1h-1.1zM327.9,503.4h1.1v1.1h-1.1zM292.5,513.9h1.1v1.1h-1.1zM242.9,491.9h1.1v1.1h-1.1zM316.1,494.1h1.1v1.1h-1.1zM242.3,511.7h1.1v1.1h-1.1zM283.8,482.8h1.1v1.1h-1.1zM295.4,518.5h1.1v1.1h-1.1zM283.8,490.0h1.1v1.1h-1.1zM315.1,515.5h1.1v1.1h-1.1zM304.3,462.4h1.1v1.1h-1.1zM317.1,485.8h1.1v1.1h-1.1zM279.6,503.9h1.1v1.1h-1.1zM272.0,473.5h1.1v1.1h-1.1zM302.5,489.2h1.1v1.1h-1.1zM293.4,497.9h1.1v1.1h-1.1zM310.4,443.2h1.1v1.1h-1.1zM279.8,456.0h1.1v1.1h-1.1zM260.0,493.8h1.1v1.1h-1.1zM300.6,514.9h1.1v1.1h-1.1zM344.4,464.7h1.1v1.1h-1.1zM326.8,483.8h1.1v1.1h-1.1zM326.2,511.1h1.1v1.1h-1.1zM294.9,466.5h1.1v1.1h-1.1zM328.0,453.1h1.1v1.1h-1.1zM360.5,489.4h1.1v1.1h-1.1zM305.7,468.1h1.1v1.1h-1.1zM300.0,472.4h1.1v1.1h-1.1zM258.3,498.5h1.1v1.1h-1.1zM297.3,487.7h1.1v1.1h-1.1zM234.4,499.1h1.1v1.1h-1.1zM295.7,446.2h1.1v1.1h-1.1zM289.8,481.8h1.1v1.1h-1.1zM265.5,489.4h1.1v1.1h-1.1zM283.1,448.8h1.1v1.1h-1.1zM219.1,466.3h1.1v1.1h-1.1zM293.6,489.1h1.1v1.1h-1.1zM265.4,478.1h1.1v1.1h-1.1zM283.9,492.2h1.1v1.1h-1.1zM316.1,459.2h1.1v1.1h-1.1zM323.1,503.3h1.1v1.1h-1.1zM336.8,509.1h1.1v1.1h-1.1zM367.1,519.7h1.1v1.1h-1.1zM369.4,510.8h1.1v1.1h-1.1zM403.5,507.1h1.1v1.1h-1.1zM379.2,513.0h1.1v1.1h-1.1zM353.8,503.1h1.1v1.1h-1.1zM351.7,507.6h1.1v1.1h-1.1zM391.4,506.2h1.1v1.1h-1.1zM337.2,488.2h1.1v1.1h-1.1zM383.8,508.0h1.1v1.1h-1.1zM357.4,511.1h1.1v1.1h-1.1zM378.1,486.2h1.1v1.1h-1.1zM365.7,486.6h1.1v1.1h-1.1zM355.9,510.7h1.1v1.1h-1.1zM354.3,513.7h1.1v1.1h-1.1zM342.0,518.8h1.1v1.1h-1.1zM377.5,508.3h1.1v1.1h-1.1zM369.3,490.8h1.1v1.1h-1.1zM375.4,501.0h1.1v1.1h-1.1zM366.5,512.1h1.1v1.1h-1.1zM378.7,512.4h1.1v1.1h-1.1zM325.3,514.2h1.1v1.1h-1.1zM359.8,504.3h1.1v1.1h-1.1zM375.1,491.1h1.1v1.1h-1.1zM355.7,519.4h1.1v1.1h-1.1zM348.8,509.3h1.1v1.1h-1.1zM346.8,488.8h1.1v1.1h-1.1zM366.0,512.2h1.1v1.1h-1.1zM370.7,509.5h1.1v1.1h-1.1zM390.1,501.1h1.1v1.1h-1.1zM395.3,500.9h1.1v1.1h-1.1zM361.8,501.7h1.1v1.1h-1.1zM350.9,499.7h1.1v1.1h-1.1zM375.3,501.7h1.1v1.1h-1.1zM356.1,513.7h1.1v1.1h-1.1zM368.9,506.1h1.1v1.1h-1.1zM354.4,506.4h1.1v1.1h-1.1zM347.2,514.5h1.1v1.1h-1.1zM366.7,509.2h1.1v1.1h-1.1zM353.5,503.5h1.1v1.1h-1.1zM359.9,509.5h1.1v1.1h-1.1zM359.8,516.6h1.1v1.1h-1.1zM355.4,507.1h1.1v1.1h-1.1zM371.6,495.4h1.1v1.1h-1.1zM360.3,500.1h1.1v1.1h-1.1zM358.8,500.4h1.1v1.1h-1.1zM353.3,508.8h1.1v1.1h-1.1zM337.7,498.3h1.1v1.1h-1.1zM358.3,506.3h1.1v1.1h-1.1zM362.7,513.2h1.1v1.1h-1.1zM333.8,514.4h1.1v1.1h-1.1zM372.5,495.7h1.1v1.1h-1.1zM365.8,500.6h1.1v1.1h-1.1zM347.1,519.3h1.1v1.1h-1.1zM357.3,480.8h1.1v1.1h-1.1zM335.9,499.6h1.1v1.1h-1.1zM378.7,498.2h1.1v1.1h-1.1zM365.3,515.2h1.1v1.1h-1.1zM379.3,516.5h1.1v1.1h-1.1zM349.1,502.2h1.1v1.1h-1.1zM354.3,508.8h1.1v1.1h-1.1zM339.2,501.3h1.1v1.1h-1.1zM369.6,514.6h1.1v1.1h-1.1zM368.8,491.3h1.1v1.1h-1.1zM351.9,505.9h1.1v1.1h-1.1zM337.7,517.6h1.1v1.1h-1.1zM366.4,513.3h1.1v1.1h-1.1zM375.4,506.4h1.1v1.1h-1.1zM367.5,506.6h1.1v1.1h-1.1zM358.4,512.9h1.1v1.1h-1.1zM358.6,517.9h1.1v1.1h-1.1zM337.7,498.6h1.1v1.1h-1.1zM363.0,491.0h1.1v1.1h-1.1zM352.6,511.2h1.1v1.1h-1.1zM383.1,488.1h1.1v1.1h-1.1zM352.1,521.0h1.1v1.1h-1.1zM301.6,458.9h1.1v1.1h-1.1zM320.8,470.6h1.1v1.1h-1.1zM370.4,461.3h1.1v1.1h-1.1zM318.4,481.0h1.1v1.1h-1.1zM346.9,455.1h1.1v1.1h-1.1zM278.2,439.9h1.1v1.1h-1.1zM333.2,445.4h1.1v1.1h-1.1zM351.0,466.7h1.1v1.1h-1.1zM338.1,469.5h1.1v1.1h-1.1zM298.1,443.2h1.1v1.1h-1.1zM340.7,481.5h1.1v1.1h-1.1zM323.5,456.6h1.1v1.1h-1.1zM339.4,476.1h1.1v1.1h-1.1zM301.1,435.6h1.1v1.1h-1.1zM314.6,480.6h1.1v1.1h-1.1zM305.0,471.8h1.1v1.1h-1.1zM317.3,451.0h1.1v1.1h-1.1zM317.4,453.8h1.1v1.1h-1.1zM375.4,462.7h1.1v1.1h-1.1zM336.8,459.6h1.1v1.1h-1.1zM336.2,466.5h1.1v1.1h-1.1zM361.0,473.7h1.1v1.1h-1.1zM304.1,455.5h1.1v1.1h-1.1zM329.1,449.2h1.1v1.1h-1.1zM332.9,435.9h1.1v1.1h-1.1zM337.8,421.8h1.1v1.1h-1.1zM325.7,476.8h1.1v1.1h-1.1zM331.8,461.4h1.1v1.1h-1.1zM310.7,440.0h1.1v1.1h-1.1zM344.4,459.3h1.1v1.1h-1.1zM351.9,466.1h1.1v1.1h-1.1zM349.7,490.2h1.1v1.1h-1.1zM337.4,467.1h1.1v1.1h-1.1zM332.6,449.7h1.1v1.1h-1.1z" fill="#c2c2c2"/>
<path d="M226.3,478.6h1.1v1.1h-1.1zM214.7,463.5h1.1v1.1h-1.1zM221.5,462.7h1.1v1.1h-1.1zM214.2,490.8h1.1v1.1h-1.1zM216.8,487.6h1.1v1.1h-1.1zM213.4,466.8h1.1v1.1h-1.1zM229.5,480.2h1.1v1.1h-1.1zM213.3,484.9h1.1v1.1h-1.1zM228.4,464.3h1.1v1.1h-1.1zM217.6,476.4h1.1v1.1h-1.1zM218.4,469.0h1.1v1.1h-1.1zM216.2,475.7h1.1v1.1h-1.1zM219.8,470.2h1.1v1.1h-1.1zM214.2,475.4h1.1v1.1h-1.1zM220.7,482.9h1.1v1.1h-1.1zM226.2,477.4h1.1v1.1h-1.1zM225.7,482.1h1.1v1.1h-1.1zM227.0,485.5h1.1v1.1h-1.1zM214.8,458.9h1.1v1.1h-1.1zM217.6,483.7h1.1v1.1h-1.1zM224.6,461.2h1.1v1.1h-1.1zM220.8,491.6h1.1v1.1h-1.1zM317.5,469.8h1.1v1.1h-1.1zM315.0,465.0h1.1v1.1h-1.1zM270.3,497.5h1.1v1.1h-1.1zM306.1,487.6h1.1v1.1h-1.1zM298.0,474.6h1.1v1.1h-1.1zM262.3,480.9h1.1v1.1h-1.1zM323.5,492.7h1.1v1.1h-1.1zM287.5,491.3h1.1v1.1h-1.1zM339.7,468.5h1.1v1.1h-1.1zM282.3,477.8h1.1v1.1h-1.1zM272.7,466.8h1.1v1.1h-1.1zM268.5,496.0h1.1v1.1h-1.1zM265.1,472.7h1.1v1.1h-1.1zM289.4,482.4h1.1v1.1h-1.1zM316.4,493.5h1.1v1.1h-1.1zM295.5,465.2h1.1v1.1h-1.1zM270.4,474.0h1.1v1.1h-1.1zM280.8,484.0h1.1v1.1h-1.1zM285.6,478.7h1.1v1.1h-1.1zM317.6,460.8h1.1v1.1h-1.1zM279.4,479.6h1.1v1.1h-1.1zM270.2,462.2h1.1v1.1h-1.1zM299.0,478.5h1.1v1.1h-1.1zM311.5,485.1h1.1v1.1h-1.1zM288.2,488.7h1.1v1.1h-1.1zM279.6,496.0h1.1v1.1h-1.1zM313.9,495.0h1.1v1.1h-1.1zM329.7,494.7h1.1v1.1h-1.1zM290.3,483.8h1.1v1.1h-1.1zM313.7,465.1h1.1v1.1h-1.1zM309.4,493.7h1.1v1.1h-1.1zM336.2,473.5h1.1v1.1h-1.1zM260.1,478.2h1.1v1.1h-1.1zM274.8,473.6h1.1v1.1h-1.1zM296.6,486.4h1.1v1.1h-1.1zM286.0,471.7h1.1v1.1h-1.1zM308.8,481.3h1.1v1.1h-1.1zM308.7,494.5h1.1v1.1h-1.1zM322.9,484.0h1.1v1.1h-1.1zM279.3,494.4h1.1v1.1h-1.1zM288.7,468.4h1.1v1.1h-1.1zM325.9,498.0h1.1v1.1h-1.1zM368.7,510.4h1.1v1.1h-1.1zM361.3,508.4h1.1v1.1h-1.1zM359.9,512.5h1.1v1.1h-1.1zM374.6,507.7h1.1v1.1h-1.1zM348.1,501.4h1.1v1.1h-1.1zM342.3,502.6h1.1v1.1h-1.1zM362.7,517.9h1.1v1.1h-1.1zM341.4,503.9h1.1v1.1h-1.1zM360.8,501.6h1.1v1.1h-1.1zM363.3,500.4h1.1v1.1h-1.1zM378.3,508.7h1.1v1.1h-1.1zM362.2,504.5h1.1v1.1h-1.1zM361.2,502.4h1.1v1.1h-1.1zM371.1,509.1h1.1v1.1h-1.1zM374.7,496.8h1.1v1.1h-1.1zM347.7,500.4h1.1v1.1h-1.1zM378.4,505.5h1.1v1.1h-1.1zM311.0,461.6h1.1v1.1h-1.1zM331.8,472.9h1.1v1.1h-1.1zM305.6,466.1h1.1v1.1h-1.1zM333.6,464.5h1.1v1.1h-1.1zM322.9,457.1h1.1v1.1h-1.1zM334.0,473.9h1.1v1.1h-1.1zM343.0,451.0h1.1v1.1h-1.1zM315.1,444.1h1.1v1.1h-1.1zM334.0,461.8h1.1v1.1h-1.1z" fill="#8e8e8e"/>
<path d="M219.1,476.9h1.1v1.1h-1.1zM217.3,466.7h1.1v1.1h-1.1zM221.2,465.1h1.1v1.1h-1.1zM226.7,468.8h1.1v1.1h-1.1zM226.2,472.7h1.1v1.1h-1.1zM220.1,482.8h1.1v1.1h-1.1zM225.6,485.9h1.1v1.1h-1.1zM222.9,482.2h1.1v1.1h-1.1zM214.7,481.0h1.1v1.1h-1.1zM219.5,480.0h1.1v1.1h-1.1zM303.2,475.9h1.1v1.1h-1.1zM293.4,468.7h1.1v1.1h-1.1zM294.3,493.1h1.1v1.1h-1.1zM304.0,474.0h1.1v1.1h-1.1zM317.4,490.7h1.1v1.1h-1.1zM288.1,464.7h1.1v1.1h-1.1zM276.7,476.3h1.1v1.1h-1.1zM354.5,509.6h1.1v1.1h-1.1zM354.0,502.6h1.1v1.1h-1.1zM310.6,455.5h1.1v1.1h-1.1zM327.5,470.7h1.1v1.1h-1.1zM349.4,465.1h1.1v1.1h-1.1zM327.1,447.7h1.1v1.1h-1.1zM340.5,456.1h1.1v1.1h-1.1z" fill="#d455c6"/>
<path d="M237.5,463.9h1.1v1.1h-1.1zM227.3,450.1h1.1v1.1h-1.1zM241.0,498.7h1.1v1.1h-1.1zM345.1,506.1h1.1v1.1h-1.1zM345.5,479.0h1.1v1.1h-1.1zM337.7,501.9h1.1v1.1h-1.1zM402.0,496.7h1.1v1.1h-1.1z" fill="#e3b4de"/>
<rect x="212.2" y="338.8" width="220.10000000000002" height="220.09999999999997" fill="none" stroke="#3c3c3c" stroke-width="1.1"/>
<path d="M228.2,558.9v2.6M212.2,543.1h-2.6M237.9,558.9v2.6M212.2,533.4h-2.6M244.7,558.9v2.6M212.2,526.5h-2.6M250.1,558.9v2.6M212.2,521.2h-2.6M254.4,558.9v2.6M212.2,516.8h-2.6M258.1,558.9v2.6M212.2,513.1h-2.6M261.3,558.9v2.6M212.2,509.9h-2.6M264.1,558.9v2.6M212.2,507.1h-2.6M266.6,558.9v5.0M212.2,504.6h-5.0M283.1,558.9v2.6M212.2,488.0h-2.6M292.8,558.9v2.6M212.2,478.3h-2.6M299.7,558.9v2.6M212.2,471.4h-2.6M305.0,558.9v2.6M212.2,466.1h-2.6M309.3,558.9v2.6M212.2,461.7h-2.6M313.0,558.9v2.6M212.2,458.0h-2.6M316.2,558.9v2.6M212.2,454.8h-2.6M319.0,558.9v2.6M212.2,452.0h-2.6M321.5,558.9v5.0M212.2,449.5h-5.0M338.1,558.9v2.6M212.2,432.9h-2.6M347.7,558.9v2.6M212.2,423.2h-2.6M354.6,558.9v2.6M212.2,416.3h-2.6M359.9,558.9v2.6M212.2,410.9h-2.6M364.3,558.9v2.6M212.2,406.6h-2.6M368.0,558.9v2.6M212.2,402.9h-2.6M371.1,558.9v2.6M212.2,399.7h-2.6M374.0,558.9v2.6M212.2,396.9h-2.6M376.5,558.9v5.0M212.2,394.3h-5.0M393.0,558.9v2.6M212.2,377.7h-2.6M402.7,558.9v2.6M212.2,368.0h-2.6M409.5,558.9v2.6M212.2,361.1h-2.6M414.9,558.9v2.6M212.2,355.8h-2.6M419.2,558.9v2.6M212.2,351.4h-2.6M422.9,558.9v2.6M212.2,347.7h-2.6M426.1,558.9v2.6M212.2,344.5h-2.6M428.9,558.9v2.6M212.2,341.7h-2.6M431.4,558.9v5.0M212.2,339.2h-5.0" stroke="#3c3c3c" stroke-width="1" fill="none"/>
<text x="260.0" y="575.3" font-family='"Liberation Sans", sans-serif' font-size="9.6" fill="#333">10<tspan dy="-3.7" font-size="6.2">3</tspan></text>
<text x="190.9" y="508.2" font-family='"Liberation Sans", sans-serif' font-size="9.6" fill="#333">10<tspan dy="-3.7" font-size="6.2">3</tspan></text>
<text x="314.6" y="575.3" font-family='"Liberation Sans", sans-serif' font-size="9.6" fill="#333">10<tspan dy="-3.7" font-size="6.2">4</tspan></text>
<text x="190.9" y="453.4" font-family='"Liberation Sans", sans-serif' font-size="9.6" fill="#333">10<tspan dy="-3.7" font-size="6.2">4</tspan></text>
<text x="369.6" y="575.3" font-family='"Liberation Sans", sans-serif' font-size="9.6" fill="#333">10<tspan dy="-3.7" font-size="6.2">5</tspan></text>
<text x="190.9" y="398.2" font-family='"Liberation Sans", sans-serif' font-size="9.6" fill="#333">10<tspan dy="-3.7" font-size="6.2">5</tspan></text>
<text x="424.8" y="575.3" font-family='"Liberation Sans", sans-serif' font-size="9.6" fill="#333">10<tspan dy="-3.7" font-size="6.2">6</tspan></text>
<text x="190.9" y="342.8" font-family='"Liberation Sans", sans-serif' font-size="9.6" fill="#333">10<tspan dy="-3.7" font-size="6.2">6</tspan></text>
<path d="M212.2,339H394.3V528H212.2" fill="none" stroke="#222" stroke-width="1.2"/>
<line x1="251.2" y1="338.8" x2="251.2" y2="528" stroke="#222" stroke-width="2.2" />
<text x="214.4" y="541.1" font-family='"Liberation Sans", sans-serif' font-size="11.3" font-weight="normal" text-anchor="start" fill="#222" textLength="41.5" lengthAdjust="spacingAndGlyphs" >42.52%</text>
<text x="350.2" y="541.1" font-family='"Liberation Sans", sans-serif' font-size="11.3" font-weight="normal" text-anchor="start" fill="#222" textLength="41.6" lengthAdjust="spacingAndGlyphs" >57.48%</text>
<path d="M537.2,267.1h1.1v1.1h-1.1zM566.3,264.6h1.1v1.1h-1.1zM581.1,272.2h1.1v1.1h-1.1zM563.7,264.6h1.1v1.1h-1.1zM529.7,277.8h1.1v1.1h-1.1zM567.8,281.5h1.1v1.1h-1.1zM581.0,253.2h1.1v1.1h-1.1zM560.3,250.3h1.1v1.1h-1.1zM551.0,276.0h1.1v1.1h-1.1zM572.8,278.6h1.1v1.1h-1.1zM539.9,270.4h1.1v1.1h-1.1zM568.3,285.1h1.1v1.1h-1.1zM565.9,249.4h1.1v1.1h-1.1zM594.1,245.0h1.1v1.1h-1.1zM567.7,267.7h1.1v1.1h-1.1zM595.2,268.2h1.1v1.1h-1.1zM582.1,260.0h1.1v1.1h-1.1zM548.4,266.8h1.1v1.1h-1.1zM562.5,268.1h1.1v1.1h-1.1zM546.7,283.9h1.1v1.1h-1.1zM551.4,267.4h1.1v1.1h-1.1zM570.5,279.3h1.1v1.1h-1.1zM548.6,275.4h1.1v1.1h-1.1zM553.5,272.1h1.1v1.1h-1.1zM579.3,257.2h1.1v1.1h-1.1zM578.4,269.9h1.1v1.1h-1.1zM551.2,254.9h1.1v1.1h-1.1zM536.6,262.8h1.1v1.1h-1.1zM577.9,256.8h1.1v1.1h-1.1zM553.1,275.5h1.1v1.1h-1.1zM548.0,272.8h1.1v1.1h-1.1zM581.9,267.4h1.1v1.1h-1.1zM575.5,253.9h1.1v1.1h-1.1zM583.4,271.2h1.1v1.1h-1.1zM560.7,266.9h1.1v1.1h-1.1zM571.6,258.4h1.1v1.1h-1.1zM571.7,266.8h1.1v1.1h-1.1zM559.3,258.2h1.1v1.1h-1.1zM544.7,273.8h1.1v1.1h-1.1zM553.8,259.9h1.1v1.1h-1.1zM549.0,265.3h1.1v1.1h-1.1zM556.7,286.6h1.1v1.1h-1.1zM556.5,256.2h1.1v1.1h-1.1zM561.6,271.9h1.1v1.1h-1.1zM540.8,265.0h1.1v1.1h-1.1zM567.8,258.0h1.1v1.1h-1.1zM575.9,250.1h1.1v1.1h-1.1zM575.1,269.4h1.1v1.1h-1.1zM566.4,256.7h1.1v1.1h-1.1zM573.7,271.7h1.1v1.1h-1.1zM554.1,257.7h1.1v1.1h-1.1zM568.1,252.5h1.1v1.1h-1.1zM553.5,259.2h1.1v1.1h-1.1zM561.6,284.0h1.1v1.1h-1.1zM539.2,253.6h1.1v1.1h-1.1zM534.9,274.4h1.1v1.1h-1.1zM556.7,268.9h1.1v1.1h-1.1zM543.0,277.5h1.1v1.1h-1.1zM540.6,274.1h1.1v1.1h-1.1zM550.5,274.1h1.1v1.1h-1.1zM569.3,264.3h1.1v1.1h-1.1zM556.3,258.6h1.1v1.1h-1.1zM557.1,270.0h1.1v1.1h-1.1zM545.8,274.6h1.1v1.1h-1.1zM545.1,261.5h1.1v1.1h-1.1zM568.8,259.1h1.1v1.1h-1.1zM573.3,260.8h1.1v1.1h-1.1zM530.2,265.8h1.1v1.1h-1.1zM551.3,256.7h1.1v1.1h-1.1zM586.1,274.7h1.1v1.1h-1.1zM582.8,274.9h1.1v1.1h-1.1zM582.8,271.6h1.1v1.1h-1.1zM554.7,267.3h1.1v1.1h-1.1zM541.6,272.9h1.1v1.1h-1.1zM573.2,250.3h1.1v1.1h-1.1zM555.3,273.4h1.1v1.1h-1.1zM542.0,263.3h1.1v1.1h-1.1zM572.9,269.4h1.1v1.1h-1.1zM570.1,250.2h1.1v1.1h-1.1zM561.6,269.8h1.1v1.1h-1.1zM547.5,274.2h1.1v1.1h-1.1zM546.8,262.7h1.1v1.1h-1.1zM571.0,286.2h1.1v1.1h-1.1zM573.2,269.5h1.1v1.1h-1.1zM555.8,282.9h1.1v1.1h-1.1zM552.9,251.3h1.1v1.1h-1.1zM524.1,272.9h1.1v1.1h-1.1zM564.0,264.8h1.1v1.1h-1.1zM556.8,264.8h1.1v1.1h-1.1zM578.1,261.6h1.1v1.1h-1.1zM536.1,267.2h1.1v1.1h-1.1zM556.9,273.0h1.1v1.1h-1.1zM581.8,283.0h1.1v1.1h-1.1zM565.8,269.4h1.1v1.1h-1.1zM575.8,264.2h1.1v1.1h-1.1zM558.3,286.5h1.1v1.1h-1.1zM563.1,269.5h1.1v1.1h-1.1zM589.4,271.4h1.1v1.1h-1.1zM551.4,265.1h1.1v1.1h-1.1zM546.2,282.4h1.1v1.1h-1.1zM573.7,243.0h1.1v1.1h-1.1zM575.3,268.8h1.1v1.1h-1.1zM534.8,270.2h1.1v1.1h-1.1zM556.6,263.0h1.1v1.1h-1.1zM586.1,281.2h1.1v1.1h-1.1zM544.6,279.2h1.1v1.1h-1.1zM566.4,265.3h1.1v1.1h-1.1zM574.2,257.8h1.1v1.1h-1.1zM584.2,256.2h1.1v1.1h-1.1zM563.7,265.9h1.1v1.1h-1.1zM574.4,265.3h1.1v1.1h-1.1zM548.5,269.1h1.1v1.1h-1.1zM572.2,281.3h1.1v1.1h-1.1zM533.3,262.0h1.1v1.1h-1.1zM555.9,267.6h1.1v1.1h-1.1zM578.9,274.4h1.1v1.1h-1.1zM573.4,264.1h1.1v1.1h-1.1zM587.3,277.3h1.1v1.1h-1.1zM550.6,268.1h1.1v1.1h-1.1zM562.1,285.2h1.1v1.1h-1.1zM562.2,266.0h1.1v1.1h-1.1zM531.8,268.2h1.1v1.1h-1.1zM555.7,261.0h1.1v1.1h-1.1zM565.2,264.6h1.1v1.1h-1.1zM562.2,279.0h1.1v1.1h-1.1zM541.9,257.7h1.1v1.1h-1.1zM544.0,280.7h1.1v1.1h-1.1zM562.1,266.4h1.1v1.1h-1.1zM560.8,281.6h1.1v1.1h-1.1zM614.4,262.3h1.1v1.1h-1.1zM541.4,268.3h1.1v1.1h-1.1zM582.4,258.8h1.1v1.1h-1.1zM567.1,279.0h1.1v1.1h-1.1zM561.6,263.1h1.1v1.1h-1.1zM554.4,271.3h1.1v1.1h-1.1zM547.6,253.8h1.1v1.1h-1.1zM577.8,248.3h1.1v1.1h-1.1zM559.0,250.0h1.1v1.1h-1.1zM545.6,261.8h1.1v1.1h-1.1zM566.9,249.2h1.1v1.1h-1.1zM579.1,264.3h1.1v1.1h-1.1zM591.4,282.7h1.1v1.1h-1.1zM559.6,284.2h1.1v1.1h-1.1zM525.1,267.9h1.1v1.1h-1.1zM556.1,258.3h1.1v1.1h-1.1zM566.6,253.9h1.1v1.1h-1.1zM542.5,253.0h1.1v1.1h-1.1zM531.0,193.8h1.1v1.1h-1.1zM572.7,234.1h1.1v1.1h-1.1zM556.0,229.4h1.1v1.1h-1.1zM550.1,240.7h1.1v1.1h-1.1zM539.5,185.3h1.1v1.1h-1.1zM551.3,208.2h1.1v1.1h-1.1zM557.5,226.1h1.1v1.1h-1.1zM546.5,222.8h1.1v1.1h-1.1zM530.2,188.7h1.1v1.1h-1.1zM518.0,213.1h1.1v1.1h-1.1zM562.1,212.2h1.1v1.1h-1.1zM568.2,251.7h1.1v1.1h-1.1zM567.3,226.5h1.1v1.1h-1.1zM539.4,211.5h1.1v1.1h-1.1zM569.3,196.5h1.1v1.1h-1.1zM542.2,199.3h1.1v1.1h-1.1zM539.7,233.2h1.1v1.1h-1.1zM540.9,228.4h1.1v1.1h-1.1zM557.7,212.1h1.1v1.1h-1.1zM545.8,192.0h1.1v1.1h-1.1zM553.2,175.1h1.1v1.1h-1.1zM575.6,246.8h1.1v1.1h-1.1zM564.5,231.9h1.1v1.1h-1.1zM566.4,218.2h1.1v1.1h-1.1zM545.8,201.7h1.1v1.1h-1.1zM548.5,234.8h1.1v1.1h-1.1zM573.1,209.4h1.1v1.1h-1.1zM546.9,197.2h1.1v1.1h-1.1zM547.6,186.3h1.1v1.1h-1.1zM562.6,233.0h1.1v1.1h-1.1zM524.5,209.3h1.1v1.1h-1.1zM588.1,203.5h1.1v1.1h-1.1zM540.8,253.2h1.1v1.1h-1.1zM565.9,202.3h1.1v1.1h-1.1zM537.2,189.3h1.1v1.1h-1.1zM566.6,237.7h1.1v1.1h-1.1zM533.5,203.3h1.1v1.1h-1.1zM550.9,229.9h1.1v1.1h-1.1zM541.6,210.3h1.1v1.1h-1.1zM628.5,267.4h1.1v1.1h-1.1zM588.7,252.7h1.1v1.1h-1.1zM616.4,267.5h1.1v1.1h-1.1zM634.7,259.1h1.1v1.1h-1.1zM603.9,252.1h1.1v1.1h-1.1zM621.3,253.1h1.1v1.1h-1.1zM573.9,243.2h1.1v1.1h-1.1zM595.1,265.1h1.1v1.1h-1.1zM551.1,261.7h1.1v1.1h-1.1zM577.6,257.2h1.1v1.1h-1.1zM592.8,281.1h1.1v1.1h-1.1zM607.5,257.1h1.1v1.1h-1.1zM600.8,250.2h1.1v1.1h-1.1zM633.2,252.2h1.1v1.1h-1.1zM569.5,245.5h1.1v1.1h-1.1zM588.9,247.0h1.1v1.1h-1.1zM598.5,265.7h1.1v1.1h-1.1zM601.8,266.4h1.1v1.1h-1.1zM644.4,259.2h1.1v1.1h-1.1zM597.0,258.3h1.1v1.1h-1.1zM678.9,270.9h1.1v1.1h-1.1zM644.0,275.1h1.1v1.1h-1.1zM696.4,275.5h1.1v1.1h-1.1zM665.6,279.1h1.1v1.1h-1.1z" fill="#c2c2c2"/>
<path d="M565.5,257.5h1.1v1.1h-1.1zM552.0,262.4h1.1v1.1h-1.1zM558.7,276.6h1.1v1.1h-1.1zM564.3,278.4h1.1v1.1h-1.1zM559.4,262.9h1.1v1.1h-1.1zM557.1,263.4h1.1v1.1h-1.1zM564.1,266.7h1.1v1.1h-1.1zM558.6,256.4h1.1v1.1h-1.1zM559.4,279.4h1.1v1.1h-1.1zM560.6,273.0h1.1v1.1h-1.1zM547.7,258.0h1.1v1.1h-1.1zM564.6,260.9h1.1v1.1h-1.1zM563.4,262.8h1.1v1.1h-1.1zM559.9,271.2h1.1v1.1h-1.1zM561.2,275.6h1.1v1.1h-1.1zM557.8,268.2h1.1v1.1h-1.1zM555.0,265.7h1.1v1.1h-1.1zM557.5,259.9h1.1v1.1h-1.1zM561.0,262.5h1.1v1.1h-1.1zM550.2,276.4h1.1v1.1h-1.1zM572.8,266.5h1.1v1.1h-1.1zM542.6,273.3h1.1v1.1h-1.1zM579.4,272.3h1.1v1.1h-1.1zM562.3,278.8h1.1v1.1h-1.1zM563.3,278.1h1.1v1.1h-1.1zM578.2,262.9h1.1v1.1h-1.1zM567.5,269.6h1.1v1.1h-1.1zM557.2,264.6h1.1v1.1h-1.1zM578.6,271.9h1.1v1.1h-1.1zM546.8,263.0h1.1v1.1h-1.1zM555.0,262.4h1.1v1.1h-1.1zM572.8,259.6h1.1v1.1h-1.1zM540.2,267.3h1.1v1.1h-1.1zM544.7,266.6h1.1v1.1h-1.1zM551.1,270.5h1.1v1.1h-1.1zM544.9,273.8h1.1v1.1h-1.1zM558.6,263.9h1.1v1.1h-1.1zM568.5,273.7h1.1v1.1h-1.1zM563.6,273.0h1.1v1.1h-1.1zM565.7,276.4h1.1v1.1h-1.1zM569.2,213.6h1.1v1.1h-1.1zM540.8,200.8h1.1v1.1h-1.1zM562.0,231.8h1.1v1.1h-1.1zM556.9,200.3h1.1v1.1h-1.1zM566.7,201.4h1.1v1.1h-1.1zM553.0,208.2h1.1v1.1h-1.1zM556.5,197.0h1.1v1.1h-1.1zM552.4,202.0h1.1v1.1h-1.1zM564.1,218.0h1.1v1.1h-1.1zM546.5,230.4h1.1v1.1h-1.1zM552.1,231.0h1.1v1.1h-1.1zM563.7,209.8h1.1v1.1h-1.1zM561.4,192.4h1.1v1.1h-1.1zM618.3,259.1h1.1v1.1h-1.1zM598.9,252.9h1.1v1.1h-1.1zM608.0,253.3h1.1v1.1h-1.1zM609.0,254.9h1.1v1.1h-1.1z" fill="#8e8e8e"/>
<path d="M565.5,273.3h1.1v1.1h-1.1zM545.8,264.0h1.1v1.1h-1.1zM559.0,257.9h1.1v1.1h-1.1zM567.1,272.8h1.1v1.1h-1.1zM546.1,271.8h1.1v1.1h-1.1zM567.5,258.8h1.1v1.1h-1.1zM544.5,202.8h1.1v1.1h-1.1zM695.5,277.4h1.1v1.1h-1.1z" fill="#d455c6"/>
<path d="M566.4,253.7h1.1v1.1h-1.1zM581.9,258.2h1.1v1.1h-1.1zM522.9,252.0h1.1v1.1h-1.1zM551.5,243.9h1.1v1.1h-1.1z" fill="#e3b4de"/>
<rect x="513.2" y="68.3" width="221.0999999999999" height="220.59999999999997" fill="none" stroke="#3c3c3c" stroke-width="1.1"/>
<path d="M529.3,288.9v2.6M513.2,273.0h-2.6M539.0,288.9v2.6M513.2,263.2h-2.6M545.9,288.9v2.6M513.2,256.3h-2.6M551.2,288.9v2.6M513.2,251.0h-2.6M555.6,288.9v2.6M513.2,246.6h-2.6M559.3,288.9v2.6M513.2,242.9h-2.6M562.5,288.9v2.6M513.2,239.7h-2.6M565.3,288.9v2.6M513.2,236.8h-2.6M567.8,288.9v5.0M513.2,234.3h-5.0M584.4,288.9v2.6M513.2,217.6h-2.6M594.1,288.9v2.6M513.2,207.9h-2.6M601.0,288.9v2.6M513.2,201.0h-2.6M606.3,288.9v2.6M513.2,195.6h-2.6M610.7,288.9v2.6M513.2,191.2h-2.6M614.3,288.9v2.6M513.2,187.5h-2.6M617.5,288.9v2.6M513.2,184.3h-2.6M620.3,288.9v2.6M513.2,181.5h-2.6M622.9,288.9v5.0M513.2,179.0h-5.0M639.4,288.9v2.6M513.2,162.3h-2.6M649.1,288.9v2.6M513.2,152.6h-2.6M656.0,288.9v2.6M513.2,145.7h-2.6M661.4,288.9v2.6M513.2,140.3h-2.6M665.7,288.9v2.6M513.2,135.9h-2.6M669.4,288.9v2.6M513.2,132.2h-2.6M672.6,288.9v2.6M513.2,129.0h-2.6M675.4,288.9v2.6M513.2,126.2h-2.6M677.9,288.9v5.0M513.2,123.6h-5.0M694.5,288.9v2.6M513.2,107.0h-2.6M704.2,288.9v2.6M513.2,97.2h-2.6M711.1,288.9v2.6M513.2,90.3h-2.6M716.4,288.9v2.6M513.2,85.0h-2.6M720.8,288.9v2.6M513.2,80.6h-2.6M724.5,288.9v2.6M513.2,76.9h-2.6M727.7,288.9v2.6M513.2,73.7h-2.6M730.5,288.9v2.6M513.2,70.8h-2.6M733.0,288.9v5.0M513.2,68.3h-5.0" stroke="#3c3c3c" stroke-width="1" fill="none"/>
<text x="491.9" y="237.9" font-family='"Liberation Sans", sans-serif' font-size="9.6" fill="#333">10<tspan dy="-3.7" font-size="6.2">3</tspan></text>
<text x="491.9" y="183.4" font-family='"Liberation Sans", sans-serif' font-size="9.6" fill="#333">10<tspan dy="-3.7" font-size="6.2">4</tspan></text>
<text x="491.9" y="127.9" font-family='"Liberation Sans", sans-serif' font-size="9.6" fill="#333">10<tspan dy="-3.7" font-size="6.2">5</tspan></text>
<text x="491.9" y="71.9" font-family='"Liberation Sans", sans-serif' font-size="9.6" fill="#333">10<tspan dy="-3.7" font-size="6.2">6</tspan></text>
<line x1="621.5" y1="68.3" x2="621.5" y2="288.9" stroke="#333" stroke-width="1.2" />
<line x1="513.2" y1="234.3" x2="734.3" y2="234.3" stroke="#333" stroke-width="1.2" />
<text x="517" y="81.9" font-family='"Liberation Sans", sans-serif' font-size="11.3" font-weight="normal" text-anchor="start" fill="#222" textLength="41.4" lengthAdjust="spacingAndGlyphs" >10.53%</text>
<text x="516" y="283.1" font-family='"Liberation Sans", sans-serif' font-size="11.3" font-weight="normal" text-anchor="start" fill="#222" textLength="41.4" lengthAdjust="spacingAndGlyphs" >30.67%</text>
<text x="696.7" y="283.1" font-family='"Liberation Sans", sans-serif' font-size="11.3" font-weight="normal" text-anchor="start" fill="#222" textLength="34.6" lengthAdjust="spacingAndGlyphs" >0.98%</text>
<path d="M580.0,537.9h1.1v1.1h-1.1zM597.1,511.7h1.1v1.1h-1.1zM539.2,514.6h1.1v1.1h-1.1zM542.8,529.6h1.1v1.1h-1.1zM578.4,539.9h1.1v1.1h-1.1zM593.8,504.8h1.1v1.1h-1.1zM580.7,523.7h1.1v1.1h-1.1zM590.6,530.6h1.1v1.1h-1.1zM585.7,536.3h1.1v1.1h-1.1zM552.8,526.0h1.1v1.1h-1.1zM577.2,529.9h1.1v1.1h-1.1zM547.3,503.5h1.1v1.1h-1.1zM629.6,518.3h1.1v1.1h-1.1zM625.7,525.3h1.1v1.1h-1.1zM590.4,533.7h1.1v1.1h-1.1zM533.2,537.5h1.1v1.1h-1.1zM597.6,535.4h1.1v1.1h-1.1zM631.6,523.0h1.1v1.1h-1.1zM518.6,526.2h1.1v1.1h-1.1zM597.9,530.5h1.1v1.1h-1.1zM607.0,517.2h1.1v1.1h-1.1zM599.8,523.0h1.1v1.1h-1.1zM531.8,533.7h1.1v1.1h-1.1zM593.8,511.7h1.1v1.1h-1.1zM626.6,528.5h1.1v1.1h-1.1zM592.3,527.1h1.1v1.1h-1.1zM594.2,517.9h1.1v1.1h-1.1zM575.7,529.7h1.1v1.1h-1.1zM560.3,526.5h1.1v1.1h-1.1zM583.1,527.8h1.1v1.1h-1.1zM535.8,518.2h1.1v1.1h-1.1zM560.3,525.1h1.1v1.1h-1.1zM599.8,527.0h1.1v1.1h-1.1zM549.4,512.8h1.1v1.1h-1.1zM544.6,514.1h1.1v1.1h-1.1zM608.6,537.6h1.1v1.1h-1.1zM589.1,526.3h1.1v1.1h-1.1zM573.7,531.9h1.1v1.1h-1.1zM587.8,513.9h1.1v1.1h-1.1zM582.1,524.8h1.1v1.1h-1.1zM573.9,542.5h1.1v1.1h-1.1zM539.5,507.7h1.1v1.1h-1.1zM616.8,525.5h1.1v1.1h-1.1zM613.4,521.9h1.1v1.1h-1.1zM575.9,519.5h1.1v1.1h-1.1zM608.8,532.7h1.1v1.1h-1.1zM571.6,523.7h1.1v1.1h-1.1zM521.2,518.9h1.1v1.1h-1.1zM542.5,516.6h1.1v1.1h-1.1zM578.3,525.3h1.1v1.1h-1.1zM569.8,522.2h1.1v1.1h-1.1zM558.8,519.6h1.1v1.1h-1.1zM629.0,538.0h1.1v1.1h-1.1zM562.5,526.8h1.1v1.1h-1.1zM601.9,511.4h1.1v1.1h-1.1zM554.0,529.0h1.1v1.1h-1.1zM592.9,532.7h1.1v1.1h-1.1zM602.5,532.0h1.1v1.1h-1.1zM539.4,522.9h1.1v1.1h-1.1zM539.0,516.6h1.1v1.1h-1.1zM564.6,509.8h1.1v1.1h-1.1zM547.0,509.9h1.1v1.1h-1.1zM582.7,520.5h1.1v1.1h-1.1zM529.1,528.5h1.1v1.1h-1.1zM595.1,528.9h1.1v1.1h-1.1zM533.2,508.7h1.1v1.1h-1.1zM616.7,502.0h1.1v1.1h-1.1zM566.8,530.0h1.1v1.1h-1.1zM590.1,524.8h1.1v1.1h-1.1zM592.0,520.6h1.1v1.1h-1.1zM579.2,507.4h1.1v1.1h-1.1zM557.1,523.2h1.1v1.1h-1.1zM588.3,532.3h1.1v1.1h-1.1zM518.2,533.7h1.1v1.1h-1.1zM567.2,536.7h1.1v1.1h-1.1zM583.4,531.7h1.1v1.1h-1.1zM553.1,511.7h1.1v1.1h-1.1zM609.2,521.4h1.1v1.1h-1.1zM549.0,515.0h1.1v1.1h-1.1zM594.8,530.1h1.1v1.1h-1.1zM561.4,518.1h1.1v1.1h-1.1zM534.0,530.6h1.1v1.1h-1.1zM568.3,520.5h1.1v1.1h-1.1zM579.5,519.0h1.1v1.1h-1.1zM583.6,512.7h1.1v1.1h-1.1zM588.1,524.3h1.1v1.1h-1.1zM592.4,533.8h1.1v1.1h-1.1zM635.4,537.1h1.1v1.1h-1.1zM574.4,524.5h1.1v1.1h-1.1zM619.2,539.0h1.1v1.1h-1.1zM567.4,519.7h1.1v1.1h-1.1zM569.7,531.6h1.1v1.1h-1.1zM586.2,527.9h1.1v1.1h-1.1zM564.0,531.6h1.1v1.1h-1.1zM550.1,529.1h1.1v1.1h-1.1zM542.5,511.0h1.1v1.1h-1.1zM527.2,527.1h1.1v1.1h-1.1zM594.1,527.1h1.1v1.1h-1.1zM578.0,537.0h1.1v1.1h-1.1zM619.2,509.1h1.1v1.1h-1.1zM621.7,536.2h1.1v1.1h-1.1zM571.1,528.9h1.1v1.1h-1.1zM597.7,519.9h1.1v1.1h-1.1zM581.4,535.3h1.1v1.1h-1.1zM628.9,539.7h1.1v1.1h-1.1zM571.8,525.1h1.1v1.1h-1.1zM563.8,523.8h1.1v1.1h-1.1zM531.8,524.1h1.1v1.1h-1.1zM601.0,535.4h1.1v1.1h-1.1zM566.7,508.2h1.1v1.1h-1.1zM520.8,514.1h1.1v1.1h-1.1zM571.6,526.1h1.1v1.1h-1.1zM581.6,528.0h1.1v1.1h-1.1zM671.7,520.9h1.1v1.1h-1.1zM618.7,521.4h1.1v1.1h-1.1zM665.7,517.8h1.1v1.1h-1.1zM648.3,524.7h1.1v1.1h-1.1zM649.8,518.7h1.1v1.1h-1.1zM635.2,517.6h1.1v1.1h-1.1zM660.5,527.6h1.1v1.1h-1.1zM665.5,526.9h1.1v1.1h-1.1zM661.0,528.4h1.1v1.1h-1.1zM643.3,525.7h1.1v1.1h-1.1zM642.2,507.8h1.1v1.1h-1.1zM655.2,544.3h1.1v1.1h-1.1zM695.8,529.4h1.1v1.1h-1.1zM693.6,519.2h1.1v1.1h-1.1zM627.5,519.8h1.1v1.1h-1.1zM661.0,536.2h1.1v1.1h-1.1zM671.5,504.7h1.1v1.1h-1.1zM662.4,526.3h1.1v1.1h-1.1zM650.3,520.6h1.1v1.1h-1.1zM634.7,521.0h1.1v1.1h-1.1zM658.7,510.4h1.1v1.1h-1.1zM634.7,525.1h1.1v1.1h-1.1zM653.6,518.5h1.1v1.1h-1.1zM662.8,516.6h1.1v1.1h-1.1zM671.2,521.4h1.1v1.1h-1.1zM695.4,518.4h1.1v1.1h-1.1zM658.5,514.5h1.1v1.1h-1.1zM671.4,529.9h1.1v1.1h-1.1zM679.8,528.6h1.1v1.1h-1.1zM645.9,519.1h1.1v1.1h-1.1zM650.3,525.1h1.1v1.1h-1.1zM685.4,524.5h1.1v1.1h-1.1zM630.2,539.8h1.1v1.1h-1.1zM672.5,511.9h1.1v1.1h-1.1zM647.6,500.5h1.1v1.1h-1.1zM670.0,512.0h1.1v1.1h-1.1zM680.9,524.0h1.1v1.1h-1.1zM661.7,530.0h1.1v1.1h-1.1zM701.3,513.5h1.1v1.1h-1.1zM680.0,529.8h1.1v1.1h-1.1zM657.6,538.9h1.1v1.1h-1.1zM674.8,534.4h1.1v1.1h-1.1zM657.5,516.6h1.1v1.1h-1.1zM662.4,519.2h1.1v1.1h-1.1zM669.6,536.2h1.1v1.1h-1.1zM641.4,528.1h1.1v1.1h-1.1zM686.8,525.8h1.1v1.1h-1.1zM653.8,535.4h1.1v1.1h-1.1zM632.5,510.2h1.1v1.1h-1.1zM650.6,535.3h1.1v1.1h-1.1zM666.7,528.4h1.1v1.1h-1.1zM672.6,510.4h1.1v1.1h-1.1zM659.0,520.0h1.1v1.1h-1.1zM664.6,524.5h1.1v1.1h-1.1zM682.9,540.0h1.1v1.1h-1.1zM655.6,512.2h1.1v1.1h-1.1zM647.1,523.7h1.1v1.1h-1.1zM662.6,530.8h1.1v1.1h-1.1zM653.2,508.0h1.1v1.1h-1.1zM623.2,529.8h1.1v1.1h-1.1zM654.1,520.1h1.1v1.1h-1.1zM697.0,520.7h1.1v1.1h-1.1zM685.7,529.3h1.1v1.1h-1.1zM653.1,537.9h1.1v1.1h-1.1zM628.5,519.6h1.1v1.1h-1.1zM673.3,536.6h1.1v1.1h-1.1zM657.9,504.1h1.1v1.1h-1.1zM618.1,526.8h1.1v1.1h-1.1zM655.4,532.8h1.1v1.1h-1.1zM667.8,521.9h1.1v1.1h-1.1zM609.0,528.3h1.1v1.1h-1.1zM632.5,531.2h1.1v1.1h-1.1zM657.8,522.4h1.1v1.1h-1.1zM631.4,511.0h1.1v1.1h-1.1zM644.6,538.5h1.1v1.1h-1.1zM665.3,542.5h1.1v1.1h-1.1zM636.6,508.8h1.1v1.1h-1.1zM661.3,543.2h1.1v1.1h-1.1zM687.4,522.1h1.1v1.1h-1.1zM665.0,516.7h1.1v1.1h-1.1zM636.2,534.7h1.1v1.1h-1.1zM645.1,521.0h1.1v1.1h-1.1zM641.5,537.3h1.1v1.1h-1.1zM666.7,519.6h1.1v1.1h-1.1zM659.1,509.5h1.1v1.1h-1.1zM692.8,528.4h1.1v1.1h-1.1zM645.1,525.3h1.1v1.1h-1.1zM666.9,505.2h1.1v1.1h-1.1zM658.2,524.8h1.1v1.1h-1.1zM659.4,517.0h1.1v1.1h-1.1zM635.0,532.4h1.1v1.1h-1.1zM651.2,534.8h1.1v1.1h-1.1zM624.2,526.6h1.1v1.1h-1.1zM647.0,540.0h1.1v1.1h-1.1zM677.8,530.4h1.1v1.1h-1.1zM640.6,521.8h1.1v1.1h-1.1zM678.4,513.9h1.1v1.1h-1.1zM649.5,529.5h1.1v1.1h-1.1zM657.1,518.6h1.1v1.1h-1.1zM682.2,525.6h1.1v1.1h-1.1zM628.8,520.5h1.1v1.1h-1.1zM652.5,528.0h1.1v1.1h-1.1zM663.8,517.0h1.1v1.1h-1.1zM650.2,502.9h1.1v1.1h-1.1zM655.1,530.6h1.1v1.1h-1.1zM668.3,533.4h1.1v1.1h-1.1zM655.4,518.6h1.1v1.1h-1.1zM681.8,523.0h1.1v1.1h-1.1zM675.2,541.1h1.1v1.1h-1.1zM662.0,504.9h1.1v1.1h-1.1zM623.6,522.7h1.1v1.1h-1.1zM679.5,520.0h1.1v1.1h-1.1zM651.2,521.2h1.1v1.1h-1.1zM665.9,514.1h1.1v1.1h-1.1zM659.2,530.2h1.1v1.1h-1.1zM675.5,523.3h1.1v1.1h-1.1zM649.5,522.4h1.1v1.1h-1.1zM669.4,519.6h1.1v1.1h-1.1zM654.8,508.3h1.1v1.1h-1.1zM656.7,516.0h1.1v1.1h-1.1zM665.0,521.7h1.1v1.1h-1.1zM667.4,510.0h1.1v1.1h-1.1zM636.5,526.2h1.1v1.1h-1.1zM645.1,536.2h1.1v1.1h-1.1zM663.2,528.1h1.1v1.1h-1.1zM641.8,524.2h1.1v1.1h-1.1zM619.2,524.9h1.1v1.1h-1.1zM663.2,526.1h1.1v1.1h-1.1zM645.9,526.8h1.1v1.1h-1.1zM652.4,526.2h1.1v1.1h-1.1zM658.3,522.6h1.1v1.1h-1.1zM657.9,514.7h1.1v1.1h-1.1zM675.1,518.6h1.1v1.1h-1.1zM653.6,533.9h1.1v1.1h-1.1zM656.1,501.1h1.1v1.1h-1.1zM637.9,536.1h1.1v1.1h-1.1zM638.4,515.7h1.1v1.1h-1.1zM680.2,519.1h1.1v1.1h-1.1zM663.5,527.1h1.1v1.1h-1.1zM672.5,517.9h1.1v1.1h-1.1zM681.9,517.5h1.1v1.1h-1.1zM585.3,495.8h1.1v1.1h-1.1zM578.3,488.5h1.1v1.1h-1.1zM607.7,454.0h1.1v1.1h-1.1zM622.0,478.3h1.1v1.1h-1.1zM587.7,405.3h1.1v1.1h-1.1zM535.7,448.7h1.1v1.1h-1.1zM599.3,410.7h1.1v1.1h-1.1zM650.8,503.7h1.1v1.1h-1.1z" fill="#c2c2c2"/>
<path d="M562.0,515.5h1.1v1.1h-1.1zM580.5,531.6h1.1v1.1h-1.1zM568.1,521.2h1.1v1.1h-1.1zM555.0,519.4h1.1v1.1h-1.1zM567.1,526.3h1.1v1.1h-1.1zM557.5,525.0h1.1v1.1h-1.1zM573.0,525.0h1.1v1.1h-1.1zM589.1,521.0h1.1v1.1h-1.1zM581.7,515.8h1.1v1.1h-1.1zM561.9,531.0h1.1v1.1h-1.1zM554.7,534.3h1.1v1.1h-1.1zM581.9,523.3h1.1v1.1h-1.1zM563.1,518.9h1.1v1.1h-1.1zM596.4,524.7h1.1v1.1h-1.1zM575.6,527.3h1.1v1.1h-1.1zM560.6,519.7h1.1v1.1h-1.1zM549.0,515.5h1.1v1.1h-1.1zM573.0,529.2h1.1v1.1h-1.1zM599.6,525.6h1.1v1.1h-1.1zM593.6,530.2h1.1v1.1h-1.1zM573.6,532.6h1.1v1.1h-1.1zM602.8,520.1h1.1v1.1h-1.1zM572.7,527.2h1.1v1.1h-1.1zM597.5,528.0h1.1v1.1h-1.1zM567.9,514.1h1.1v1.1h-1.1zM584.5,521.1h1.1v1.1h-1.1zM683.7,522.4h1.1v1.1h-1.1zM652.4,531.3h1.1v1.1h-1.1zM658.2,521.3h1.1v1.1h-1.1zM674.0,523.8h1.1v1.1h-1.1zM648.4,514.1h1.1v1.1h-1.1zM659.6,529.6h1.1v1.1h-1.1zM660.9,518.3h1.1v1.1h-1.1zM661.5,515.4h1.1v1.1h-1.1zM676.0,514.5h1.1v1.1h-1.1zM663.3,522.9h1.1v1.1h-1.1zM649.4,532.4h1.1v1.1h-1.1zM643.1,528.1h1.1v1.1h-1.1zM666.7,524.3h1.1v1.1h-1.1zM649.2,531.8h1.1v1.1h-1.1zM679.7,518.0h1.1v1.1h-1.1zM648.7,513.1h1.1v1.1h-1.1zM667.9,534.1h1.1v1.1h-1.1zM651.6,518.0h1.1v1.1h-1.1zM664.0,515.6h1.1v1.1h-1.1zM649.0,524.4h1.1v1.1h-1.1zM639.4,522.5h1.1v1.1h-1.1zM665.1,525.1h1.1v1.1h-1.1zM636.9,525.7h1.1v1.1h-1.1zM653.4,524.5h1.1v1.1h-1.1zM665.1,525.1h1.1v1.1h-1.1zM655.4,526.9h1.1v1.1h-1.1zM668.3,522.2h1.1v1.1h-1.1zM659.1,518.3h1.1v1.1h-1.1zM653.2,528.8h1.1v1.1h-1.1zM669.1,516.7h1.1v1.1h-1.1zM659.5,514.8h1.1v1.1h-1.1zM658.4,531.5h1.1v1.1h-1.1zM650.0,530.0h1.1v1.1h-1.1zM653.1,528.7h1.1v1.1h-1.1zM678.1,522.5h1.1v1.1h-1.1zM641.0,522.2h1.1v1.1h-1.1zM659.9,516.4h1.1v1.1h-1.1zM649.4,517.8h1.1v1.1h-1.1zM661.4,526.7h1.1v1.1h-1.1zM651.9,532.8h1.1v1.1h-1.1zM667.3,534.4h1.1v1.1h-1.1zM676.9,521.1h1.1v1.1h-1.1zM661.2,521.0h1.1v1.1h-1.1zM640.3,524.3h1.1v1.1h-1.1zM605.2,447.3h1.1v1.1h-1.1zM576.6,464.2h1.1v1.1h-1.1zM605.8,454.1h1.1v1.1h-1.1zM628.5,455.5h1.1v1.1h-1.1z" fill="#8e8e8e"/>
<path d="M540.6,523.8h1.1v1.1h-1.1zM575.4,529.9h1.1v1.1h-1.1zM546.5,520.0h1.1v1.1h-1.1zM572.5,521.9h1.1v1.1h-1.1zM562.8,531.8h1.1v1.1h-1.1zM570.4,523.1h1.1v1.1h-1.1zM570.2,530.2h1.1v1.1h-1.1zM566.6,526.7h1.1v1.1h-1.1zM662.9,529.9h1.1v1.1h-1.1zM659.1,526.4h1.1v1.1h-1.1zM663.2,516.7h1.1v1.1h-1.1zM651.0,517.5h1.1v1.1h-1.1zM660.9,526.4h1.1v1.1h-1.1zM656.3,513.7h1.1v1.1h-1.1zM670.3,520.2h1.1v1.1h-1.1zM653.2,524.3h1.1v1.1h-1.1zM619.5,472.7h1.1v1.1h-1.1zM614.5,475.3h1.1v1.1h-1.1z" fill="#d455c6"/>
<path d="M617.7,526.6h1.1v1.1h-1.1zM593.2,513.2h1.1v1.1h-1.1zM555.8,540.9h1.1v1.1h-1.1zM541.0,536.6h1.1v1.1h-1.1zM514.4,526.8h1.1v1.1h-1.1zM535.5,531.0h1.1v1.1h-1.1zM676.7,537.4h1.1v1.1h-1.1zM629.1,513.8h1.1v1.1h-1.1zM645.7,508.8h1.1v1.1h-1.1zM672.2,535.3h1.1v1.1h-1.1zM696.3,535.9h1.1v1.1h-1.1zM532.5,422.9h1.1v1.1h-1.1z" fill="#e3b4de"/>
<rect x="513.2" y="330.6" width="221.0999999999999" height="220.10000000000002" fill="none" stroke="#3c3c3c" stroke-width="1.1"/>
<path d="M529.3,550.7v2.6M513.2,534.7h-2.6M539.0,550.7v2.6M513.2,524.9h-2.6M545.9,550.7v2.6M513.2,518.1h-2.6M551.2,550.7v2.6M513.2,512.7h-2.6M555.6,550.7v2.6M513.2,508.3h-2.6M559.3,550.7v2.6M513.2,504.6h-2.6M562.5,550.7v2.6M513.2,501.4h-2.6M565.3,550.7v2.6M513.2,498.6h-2.6M567.8,550.7v5.0M513.2,496.1h-5.0M584.4,550.7v2.6M513.2,479.5h-2.6M594.1,550.7v2.6M513.2,469.8h-2.6M601.0,550.7v2.6M513.2,462.9h-2.6M606.3,550.7v2.6M513.2,457.5h-2.6M610.7,550.7v2.6M513.2,453.2h-2.6M614.3,550.7v2.6M513.2,449.5h-2.6M617.5,550.7v2.6M513.2,446.3h-2.6M620.3,550.7v2.6M513.2,443.5h-2.6M622.9,550.7v5.0M513.2,440.9h-5.0M639.4,550.7v2.6M513.2,424.3h-2.6M649.1,550.7v2.6M513.2,414.6h-2.6M656.0,550.7v2.6M513.2,407.7h-2.6M661.4,550.7v2.6M513.2,402.4h-2.6M665.7,550.7v2.6M513.2,398.0h-2.6M669.4,550.7v2.6M513.2,394.3h-2.6M672.6,550.7v2.6M513.2,391.1h-2.6M675.4,550.7v2.6M513.2,388.3h-2.6M677.9,550.7v5.0M513.2,385.8h-5.0M694.5,550.7v2.6M513.2,369.2h-2.6M704.2,550.7v2.6M513.2,359.4h-2.6M711.1,550.7v2.6M513.2,352.6h-2.6M716.4,550.7v2.6M513.2,347.2h-2.6M720.8,550.7v2.6M513.2,342.8h-2.6M724.5,550.7v2.6M513.2,339.1h-2.6M727.7,550.7v2.6M513.2,335.9h-2.6M730.5,550.7v2.6M513.2,333.1h-2.6M733.0,550.7v5.0M513.2,330.6h-5.0" stroke="#3c3c3c" stroke-width="1" fill="none"/>
<text x="561.2" y="567.1" font-family='"Liberation Sans", sans-serif' font-size="9.6" fill="#333">10<tspan dy="-3.7" font-size="6.2">3</tspan></text>
<text x="491.9" y="499.7" font-family='"Liberation Sans", sans-serif' font-size="9.6" fill="#333">10<tspan dy="-3.7" font-size="6.2">3</tspan></text>
<text x="615.4" y="567.1" font-family='"Liberation Sans", sans-serif' font-size="9.6" fill="#333">10<tspan dy="-3.7" font-size="6.2">4</tspan></text>
<text x="491.9" y="445.6" font-family='"Liberation Sans", sans-serif' font-size="9.6" fill="#333">10<tspan dy="-3.7" font-size="6.2">4</tspan></text>
<text x="670.8" y="567.1" font-family='"Liberation Sans", sans-serif' font-size="9.6" fill="#333">10<tspan dy="-3.7" font-size="6.2">5</tspan></text>
<text x="491.9" y="390.1" font-family='"Liberation Sans", sans-serif' font-size="9.6" fill="#333">10<tspan dy="-3.7" font-size="6.2">5</tspan></text>
<text x="726.4" y="567.1" font-family='"Liberation Sans", sans-serif' font-size="9.6" fill="#333">10<tspan dy="-3.7" font-size="6.2">6</tspan></text>
<text x="491.9" y="334.2" font-family='"Liberation Sans", sans-serif' font-size="9.6" fill="#333">10<tspan dy="-3.7" font-size="6.2">6</tspan></text>
<line x1="621.5" y1="330.6" x2="621.5" y2="550.7" stroke="#333" stroke-width="1.3" />
<line x1="513.2" y1="497.1" x2="734.3" y2="498.2" stroke="#333" stroke-width="1.2" />
<text x="516" y="343.7" font-family='"Liberation Sans", sans-serif' font-size="11.3" font-weight="normal" text-anchor="start" fill="#222" textLength="34.6" lengthAdjust="spacingAndGlyphs" >2.64%</text>
<text x="516.4" y="545.9" font-family='"Liberation Sans", sans-serif' font-size="11.3" font-weight="normal" text-anchor="start" fill="#222" textLength="41.2" lengthAdjust="spacingAndGlyphs" >16.13%</text>
<text x="689.3" y="545.9" font-family='"Liberation Sans", sans-serif' font-size="11.3" font-weight="normal" text-anchor="start" fill="#222" textLength="41.4" lengthAdjust="spacingAndGlyphs" >38.42%</text>
<path d="M885.6,161.6h1.1v1.1h-1.1zM859.0,137.1h1.1v1.1h-1.1zM879.7,163.2h1.1v1.1h-1.1zM906.6,156.6h1.1v1.1h-1.1zM879.5,154.0h1.1v1.1h-1.1zM878.1,155.0h1.1v1.1h-1.1zM885.7,146.2h1.1v1.1h-1.1zM847.7,169.4h1.1v1.1h-1.1zM887.6,164.4h1.1v1.1h-1.1zM910.6,157.4h1.1v1.1h-1.1zM878.2,156.9h1.1v1.1h-1.1zM858.3,163.5h1.1v1.1h-1.1zM877.6,148.4h1.1v1.1h-1.1zM917.6,151.6h1.1v1.1h-1.1zM904.8,148.4h1.1v1.1h-1.1zM902.5,133.5h1.1v1.1h-1.1zM868.1,170.0h1.1v1.1h-1.1zM872.3,153.8h1.1v1.1h-1.1zM866.4,157.5h1.1v1.1h-1.1zM914.0,166.8h1.1v1.1h-1.1zM897.0,168.6h1.1v1.1h-1.1zM898.9,150.8h1.1v1.1h-1.1zM886.6,155.5h1.1v1.1h-1.1zM892.7,150.4h1.1v1.1h-1.1zM878.9,170.7h1.1v1.1h-1.1zM896.2,162.7h1.1v1.1h-1.1zM885.5,169.1h1.1v1.1h-1.1zM853.8,170.9h1.1v1.1h-1.1zM897.9,156.9h1.1v1.1h-1.1zM890.3,143.6h1.1v1.1h-1.1zM891.3,150.5h1.1v1.1h-1.1zM871.6,157.7h1.1v1.1h-1.1zM901.2,156.2h1.1v1.1h-1.1zM896.4,165.9h1.1v1.1h-1.1zM872.8,157.5h1.1v1.1h-1.1zM883.5,155.6h1.1v1.1h-1.1zM853.4,159.6h1.1v1.1h-1.1zM858.2,173.5h1.1v1.1h-1.1zM900.4,168.8h1.1v1.1h-1.1zM900.2,173.8h1.1v1.1h-1.1zM882.9,150.7h1.1v1.1h-1.1zM886.7,175.2h1.1v1.1h-1.1zM908.7,154.4h1.1v1.1h-1.1zM847.3,153.6h1.1v1.1h-1.1zM910.7,167.9h1.1v1.1h-1.1zM868.4,144.2h1.1v1.1h-1.1zM849.2,160.6h1.1v1.1h-1.1zM888.9,154.7h1.1v1.1h-1.1zM892.5,164.3h1.1v1.1h-1.1zM878.2,165.1h1.1v1.1h-1.1zM892.3,151.7h1.1v1.1h-1.1zM889.3,156.5h1.1v1.1h-1.1zM896.4,155.3h1.1v1.1h-1.1zM889.9,161.9h1.1v1.1h-1.1zM841.8,149.0h1.1v1.1h-1.1zM853.1,172.8h1.1v1.1h-1.1zM847.4,152.5h1.1v1.1h-1.1zM892.5,155.8h1.1v1.1h-1.1zM882.2,157.5h1.1v1.1h-1.1zM893.1,146.2h1.1v1.1h-1.1zM927.4,145.2h1.1v1.1h-1.1zM839.9,167.0h1.1v1.1h-1.1zM877.9,156.5h1.1v1.1h-1.1zM898.6,150.5h1.1v1.1h-1.1zM883.9,153.6h1.1v1.1h-1.1zM876.2,174.4h1.1v1.1h-1.1zM860.3,176.8h1.1v1.1h-1.1zM877.9,154.0h1.1v1.1h-1.1zM888.2,156.5h1.1v1.1h-1.1zM857.8,139.1h1.1v1.1h-1.1zM903.7,156.5h1.1v1.1h-1.1zM894.5,168.6h1.1v1.1h-1.1zM856.9,171.1h1.1v1.1h-1.1zM854.1,148.9h1.1v1.1h-1.1zM857.8,156.8h1.1v1.1h-1.1zM880.5,150.7h1.1v1.1h-1.1zM880.4,160.7h1.1v1.1h-1.1zM868.3,162.0h1.1v1.1h-1.1zM884.4,169.5h1.1v1.1h-1.1zM860.8,159.9h1.1v1.1h-1.1zM840.2,155.5h1.1v1.1h-1.1zM902.5,149.9h1.1v1.1h-1.1zM894.1,146.9h1.1v1.1h-1.1zM875.8,154.9h1.1v1.1h-1.1zM876.0,160.4h1.1v1.1h-1.1zM871.2,149.1h1.1v1.1h-1.1zM902.1,163.8h1.1v1.1h-1.1zM873.2,162.8h1.1v1.1h-1.1zM882.9,165.5h1.1v1.1h-1.1zM886.8,155.1h1.1v1.1h-1.1zM868.9,157.4h1.1v1.1h-1.1zM849.1,157.4h1.1v1.1h-1.1zM908.6,150.7h1.1v1.1h-1.1zM869.7,144.9h1.1v1.1h-1.1zM885.1,156.6h1.1v1.1h-1.1zM901.2,160.7h1.1v1.1h-1.1zM864.9,167.7h1.1v1.1h-1.1zM876.8,150.3h1.1v1.1h-1.1zM874.9,140.2h1.1v1.1h-1.1zM899.3,171.3h1.1v1.1h-1.1zM892.5,162.5h1.1v1.1h-1.1zM920.2,136.8h1.1v1.1h-1.1zM905.1,148.9h1.1v1.1h-1.1zM841.8,145.2h1.1v1.1h-1.1zM865.7,164.2h1.1v1.1h-1.1zM882.4,163.8h1.1v1.1h-1.1zM862.3,156.8h1.1v1.1h-1.1zM883.3,143.8h1.1v1.1h-1.1zM867.2,156.3h1.1v1.1h-1.1zM858.2,164.7h1.1v1.1h-1.1zM852.6,158.5h1.1v1.1h-1.1zM861.9,168.0h1.1v1.1h-1.1zM883.3,163.0h1.1v1.1h-1.1zM865.6,146.5h1.1v1.1h-1.1zM877.2,158.7h1.1v1.1h-1.1zM855.0,155.0h1.1v1.1h-1.1zM903.5,166.6h1.1v1.1h-1.1zM853.3,158.1h1.1v1.1h-1.1zM899.9,143.1h1.1v1.1h-1.1zM867.0,160.5h1.1v1.1h-1.1zM909.4,149.2h1.1v1.1h-1.1zM901.3,142.6h1.1v1.1h-1.1zM890.4,170.7h1.1v1.1h-1.1zM906.9,169.5h1.1v1.1h-1.1zM896.4,157.6h1.1v1.1h-1.1zM867.2,168.1h1.1v1.1h-1.1zM881.3,158.6h1.1v1.1h-1.1zM902.9,142.3h1.1v1.1h-1.1zM894.7,158.7h1.1v1.1h-1.1zM883.4,164.1h1.1v1.1h-1.1zM856.1,170.9h1.1v1.1h-1.1zM892.6,156.5h1.1v1.1h-1.1zM909.5,160.6h1.1v1.1h-1.1zM876.5,171.6h1.1v1.1h-1.1zM883.3,168.8h1.1v1.1h-1.1zM880.3,147.8h1.1v1.1h-1.1zM867.7,163.6h1.1v1.1h-1.1zM873.5,169.8h1.1v1.1h-1.1zM890.3,156.4h1.1v1.1h-1.1zM863.6,157.3h1.1v1.1h-1.1zM888.8,173.9h1.1v1.1h-1.1zM868.0,167.1h1.1v1.1h-1.1zM878.5,160.5h1.1v1.1h-1.1zM874.3,160.1h1.1v1.1h-1.1zM888.7,150.6h1.1v1.1h-1.1zM895.5,154.8h1.1v1.1h-1.1zM893.2,167.7h1.1v1.1h-1.1zM884.7,147.9h1.1v1.1h-1.1zM888.2,178.2h1.1v1.1h-1.1zM871.0,148.1h1.1v1.1h-1.1zM883.4,162.0h1.1v1.1h-1.1zM875.5,150.8h1.1v1.1h-1.1zM865.3,156.6h1.1v1.1h-1.1zM893.0,164.3h1.1v1.1h-1.1zM889.7,162.5h1.1v1.1h-1.1zM857.4,153.6h1.1v1.1h-1.1zM869.1,154.4h1.1v1.1h-1.1zM890.6,147.4h1.1v1.1h-1.1zM867.8,164.0h1.1v1.1h-1.1zM890.8,145.9h1.1v1.1h-1.1zM876.6,155.6h1.1v1.1h-1.1zM907.0,154.6h1.1v1.1h-1.1zM886.0,152.6h1.1v1.1h-1.1zM877.0,156.8h1.1v1.1h-1.1zM850.2,162.9h1.1v1.1h-1.1zM846.9,153.5h1.1v1.1h-1.1zM876.4,163.6h1.1v1.1h-1.1zM908.5,147.4h1.1v1.1h-1.1zM851.8,162.6h1.1v1.1h-1.1zM907.8,150.1h1.1v1.1h-1.1zM881.0,160.7h1.1v1.1h-1.1zM857.8,153.2h1.1v1.1h-1.1zM896.3,167.3h1.1v1.1h-1.1zM893.3,155.1h1.1v1.1h-1.1zM886.3,151.4h1.1v1.1h-1.1zM895.6,154.7h1.1v1.1h-1.1zM876.1,157.0h1.1v1.1h-1.1zM878.9,139.6h1.1v1.1h-1.1zM883.9,164.6h1.1v1.1h-1.1zM870.5,149.7h1.1v1.1h-1.1zM901.6,172.7h1.1v1.1h-1.1zM850.1,156.4h1.1v1.1h-1.1zM877.3,149.2h1.1v1.1h-1.1zM891.3,160.8h1.1v1.1h-1.1zM863.6,157.9h1.1v1.1h-1.1zM883.9,150.8h1.1v1.1h-1.1zM858.2,153.3h1.1v1.1h-1.1zM900.8,167.4h1.1v1.1h-1.1zM899.4,145.7h1.1v1.1h-1.1zM887.3,148.6h1.1v1.1h-1.1zM886.1,173.8h1.1v1.1h-1.1zM886.4,161.3h1.1v1.1h-1.1zM887.1,166.0h1.1v1.1h-1.1zM861.3,160.7h1.1v1.1h-1.1zM919.0,159.1h1.1v1.1h-1.1zM908.2,160.5h1.1v1.1h-1.1zM868.4,155.6h1.1v1.1h-1.1zM870.5,169.8h1.1v1.1h-1.1zM858.0,151.6h1.1v1.1h-1.1zM873.8,157.4h1.1v1.1h-1.1zM876.5,152.4h1.1v1.1h-1.1zM879.2,153.1h1.1v1.1h-1.1zM864.1,159.0h1.1v1.1h-1.1zM870.4,143.0h1.1v1.1h-1.1zM881.2,159.2h1.1v1.1h-1.1zM846.6,167.4h1.1v1.1h-1.1zM877.5,160.1h1.1v1.1h-1.1zM861.7,156.3h1.1v1.1h-1.1zM883.7,141.1h1.1v1.1h-1.1zM887.6,164.8h1.1v1.1h-1.1zM859.1,163.8h1.1v1.1h-1.1zM848.2,151.0h1.1v1.1h-1.1zM856.2,169.9h1.1v1.1h-1.1zM903.8,158.0h1.1v1.1h-1.1zM871.7,169.8h1.1v1.1h-1.1zM886.9,168.7h1.1v1.1h-1.1zM878.0,155.5h1.1v1.1h-1.1zM897.5,166.1h1.1v1.1h-1.1zM883.7,150.0h1.1v1.1h-1.1zM883.0,153.1h1.1v1.1h-1.1zM864.2,163.1h1.1v1.1h-1.1zM896.4,155.3h1.1v1.1h-1.1zM886.2,179.2h1.1v1.1h-1.1zM860.5,144.2h1.1v1.1h-1.1zM897.9,159.4h1.1v1.1h-1.1zM885.3,165.8h1.1v1.1h-1.1zM878.4,161.8h1.1v1.1h-1.1zM844.2,166.1h1.1v1.1h-1.1zM881.6,167.9h1.1v1.1h-1.1zM898.0,158.9h1.1v1.1h-1.1zM872.6,167.7h1.1v1.1h-1.1zM915.6,164.5h1.1v1.1h-1.1zM873.7,160.1h1.1v1.1h-1.1zM870.8,156.5h1.1v1.1h-1.1zM882.8,154.8h1.1v1.1h-1.1zM913.4,168.8h1.1v1.1h-1.1zM852.3,147.2h1.1v1.1h-1.1zM904.1,162.1h1.1v1.1h-1.1zM877.5,150.3h1.1v1.1h-1.1zM875.5,154.2h1.1v1.1h-1.1zM859.9,156.4h1.1v1.1h-1.1zM867.7,163.2h1.1v1.1h-1.1zM872.9,180.7h1.1v1.1h-1.1zM920.6,155.7h1.1v1.1h-1.1zM904.6,156.8h1.1v1.1h-1.1zM873.5,155.8h1.1v1.1h-1.1zM885.9,162.9h1.1v1.1h-1.1zM886.5,165.9h1.1v1.1h-1.1zM900.6,164.1h1.1v1.1h-1.1zM855.7,158.9h1.1v1.1h-1.1zM890.7,158.5h1.1v1.1h-1.1zM870.7,143.8h1.1v1.1h-1.1zM862.0,163.4h1.1v1.1h-1.1zM895.8,176.2h1.1v1.1h-1.1zM889.1,130.8h1.1v1.1h-1.1zM886.7,151.7h1.1v1.1h-1.1zM871.2,137.4h1.1v1.1h-1.1zM889.7,152.4h1.1v1.1h-1.1zM889.9,141.4h1.1v1.1h-1.1zM887.9,160.0h1.1v1.1h-1.1zM885.4,173.3h1.1v1.1h-1.1zM877.9,157.8h1.1v1.1h-1.1zM878.0,157.9h1.1v1.1h-1.1zM879.6,157.2h1.1v1.1h-1.1zM901.7,164.8h1.1v1.1h-1.1zM896.1,155.5h1.1v1.1h-1.1zM886.6,154.1h1.1v1.1h-1.1zM906.6,158.8h1.1v1.1h-1.1zM872.8,146.9h1.1v1.1h-1.1zM871.1,160.3h1.1v1.1h-1.1zM853.5,150.4h1.1v1.1h-1.1zM848.8,145.8h1.1v1.1h-1.1zM866.2,153.9h1.1v1.1h-1.1zM869.4,138.1h1.1v1.1h-1.1zM859.1,139.9h1.1v1.1h-1.1zM862.2,160.2h1.1v1.1h-1.1zM874.0,166.2h1.1v1.1h-1.1zM888.2,150.1h1.1v1.1h-1.1zM853.0,160.6h1.1v1.1h-1.1zM912.6,159.7h1.1v1.1h-1.1zM867.5,153.6h1.1v1.1h-1.1zM885.4,165.0h1.1v1.1h-1.1zM914.1,161.8h1.1v1.1h-1.1zM909.7,155.9h1.1v1.1h-1.1zM888.4,162.6h1.1v1.1h-1.1zM904.0,141.5h1.1v1.1h-1.1zM900.7,144.1h1.1v1.1h-1.1zM872.0,156.5h1.1v1.1h-1.1zM855.2,171.5h1.1v1.1h-1.1zM919.0,173.6h1.1v1.1h-1.1zM867.9,156.0h1.1v1.1h-1.1zM940.7,130.2h1.1v1.1h-1.1zM939.1,168.2h1.1v1.1h-1.1zM868.8,191.0h1.1v1.1h-1.1zM897.9,153.5h1.1v1.1h-1.1zM861.8,168.1h1.1v1.1h-1.1zM860.0,151.6h1.1v1.1h-1.1zM914.9,152.1h1.1v1.1h-1.1zM912.7,162.8h1.1v1.1h-1.1zM868.5,123.5h1.1v1.1h-1.1zM837.9,162.7h1.1v1.1h-1.1zM881.9,156.6h1.1v1.1h-1.1zM986.9,278.5h1.1v1.1h-1.1zM959.0,253.4h1.1v1.1h-1.1zM1030.0,254.1h1.1v1.1h-1.1zM949.3,277.8h1.1v1.1h-1.1z" fill="#c2c2c2"/>
<path d="M873.8,145.4h1.1v1.1h-1.1zM898.0,155.8h1.1v1.1h-1.1zM884.2,161.4h1.1v1.1h-1.1zM896.9,149.2h1.1v1.1h-1.1zM898.8,151.4h1.1v1.1h-1.1zM873.3,164.6h1.1v1.1h-1.1zM890.9,161.1h1.1v1.1h-1.1zM887.8,166.2h1.1v1.1h-1.1zM863.7,154.1h1.1v1.1h-1.1zM881.7,145.7h1.1v1.1h-1.1zM878.4,158.9h1.1v1.1h-1.1zM865.2,165.9h1.1v1.1h-1.1zM885.6,166.7h1.1v1.1h-1.1zM891.4,157.5h1.1v1.1h-1.1zM878.8,161.8h1.1v1.1h-1.1zM886.3,160.9h1.1v1.1h-1.1zM861.8,162.6h1.1v1.1h-1.1zM896.6,160.2h1.1v1.1h-1.1zM869.4,149.8h1.1v1.1h-1.1zM888.2,163.0h1.1v1.1h-1.1zM882.6,159.2h1.1v1.1h-1.1zM875.8,147.1h1.1v1.1h-1.1zM882.9,165.4h1.1v1.1h-1.1zM892.3,164.6h1.1v1.1h-1.1zM882.6,153.1h1.1v1.1h-1.1zM885.0,157.1h1.1v1.1h-1.1zM900.8,153.5h1.1v1.1h-1.1zM860.6,155.9h1.1v1.1h-1.1zM888.3,166.6h1.1v1.1h-1.1zM863.6,156.4h1.1v1.1h-1.1zM864.7,159.4h1.1v1.1h-1.1zM884.1,151.2h1.1v1.1h-1.1zM863.7,157.6h1.1v1.1h-1.1zM884.1,161.6h1.1v1.1h-1.1zM861.7,163.9h1.1v1.1h-1.1zM896.8,158.1h1.1v1.1h-1.1zM869.1,152.4h1.1v1.1h-1.1zM860.9,151.3h1.1v1.1h-1.1zM863.7,150.9h1.1v1.1h-1.1zM880.9,168.3h1.1v1.1h-1.1zM885.7,156.8h1.1v1.1h-1.1zM891.7,148.0h1.1v1.1h-1.1zM882.5,153.2h1.1v1.1h-1.1zM895.9,162.1h1.1v1.1h-1.1zM865.2,155.5h1.1v1.1h-1.1zM863.6,159.9h1.1v1.1h-1.1zM895.4,165.8h1.1v1.1h-1.1zM873.9,154.0h1.1v1.1h-1.1zM884.2,147.9h1.1v1.1h-1.1zM870.4,160.7h1.1v1.1h-1.1zM890.5,155.4h1.1v1.1h-1.1zM862.7,162.3h1.1v1.1h-1.1zM883.8,155.0h1.1v1.1h-1.1zM867.1,157.4h1.1v1.1h-1.1zM878.6,152.9h1.1v1.1h-1.1zM895.2,157.4h1.1v1.1h-1.1zM858.4,159.7h1.1v1.1h-1.1zM890.6,149.0h1.1v1.1h-1.1zM869.6,167.2h1.1v1.1h-1.1zM877.4,149.0h1.1v1.1h-1.1zM894.9,164.2h1.1v1.1h-1.1zM880.5,150.1h1.1v1.1h-1.1zM889.7,157.5h1.1v1.1h-1.1zM886.5,158.8h1.1v1.1h-1.1zM868.8,160.2h1.1v1.1h-1.1zM887.1,165.4h1.1v1.1h-1.1zM867.7,153.3h1.1v1.1h-1.1zM867.7,157.2h1.1v1.1h-1.1zM889.2,146.2h1.1v1.1h-1.1zM866.1,162.7h1.1v1.1h-1.1zM865.5,158.1h1.1v1.1h-1.1zM875.0,152.5h1.1v1.1h-1.1zM869.3,154.6h1.1v1.1h-1.1zM888.4,151.1h1.1v1.1h-1.1zM867.2,156.8h1.1v1.1h-1.1zM892.0,165.7h1.1v1.1h-1.1zM874.6,159.9h1.1v1.1h-1.1zM892.2,155.4h1.1v1.1h-1.1zM887.4,141.7h1.1v1.1h-1.1zM868.2,175.3h1.1v1.1h-1.1zM858.3,146.8h1.1v1.1h-1.1zM909.4,161.1h1.1v1.1h-1.1zM986.9,251.6h1.1v1.1h-1.1zM980.6,274.5h1.1v1.1h-1.1z" fill="#8e8e8e"/>
<path d="M879.8,156.5h1.1v1.1h-1.1zM871.5,153.7h1.1v1.1h-1.1zM893.3,160.8h1.1v1.1h-1.1zM871.0,159.1h1.1v1.1h-1.1zM878.7,157.3h1.1v1.1h-1.1zM875.3,150.6h1.1v1.1h-1.1zM887.5,157.1h1.1v1.1h-1.1zM892.4,152.4h1.1v1.1h-1.1zM876.7,159.7h1.1v1.1h-1.1zM883.7,165.9h1.1v1.1h-1.1zM891.2,160.3h1.1v1.1h-1.1zM881.8,163.4h1.1v1.1h-1.1zM888.0,172.1h1.1v1.1h-1.1z" fill="#d455c6"/>
<path d="M895.7,167.1h1.1v1.1h-1.1zM880.2,172.6h1.1v1.1h-1.1zM910.8,167.0h1.1v1.1h-1.1zM860.5,166.8h1.1v1.1h-1.1zM916.3,165.3h1.1v1.1h-1.1zM871.4,169.8h1.1v1.1h-1.1zM859.7,127.4h1.1v1.1h-1.1zM853.7,185.9h1.1v1.1h-1.1z" fill="#e3b4de"/>
<rect x="837.2" y="65.8" width="220.29999999999995" height="220.3" fill="none" stroke="#3c3c3c" stroke-width="1.1"/>
<path d="M852.8,286.1v2.6M837.2,271.0h-2.6M862.5,286.1v2.6M837.2,261.3h-2.6M869.4,286.1v2.6M837.2,254.4h-2.6M874.7,286.1v2.6M837.2,249.0h-2.6M879.1,286.1v2.6M837.2,244.7h-2.6M882.8,286.1v2.6M837.2,241.0h-2.6M886.0,286.1v2.6M837.2,237.8h-2.6M888.8,286.1v2.6M837.2,234.9h-2.6M891.3,286.1v5.0M837.2,232.4h-5.0M907.9,286.1v2.6M837.2,215.8h-2.6M917.6,286.1v2.6M837.2,206.0h-2.6M924.5,286.1v2.6M837.2,199.1h-2.6M929.8,286.1v2.6M837.2,193.8h-2.6M934.2,286.1v2.6M837.2,189.4h-2.6M937.8,286.1v2.6M837.2,185.7h-2.6M941.0,286.1v2.6M837.2,182.5h-2.6M943.8,286.1v2.6M837.2,179.7h-2.6M946.4,286.1v5.0M837.2,177.2h-5.0M962.9,286.1v2.6M837.2,160.5h-2.6M972.6,286.1v2.6M837.2,150.8h-2.6M979.5,286.1v2.6M837.2,143.9h-2.6M984.9,286.1v2.6M837.2,138.6h-2.6M989.2,286.1v2.6M837.2,134.2h-2.6M992.9,286.1v2.6M837.2,130.5h-2.6M996.1,286.1v2.6M837.2,127.3h-2.6M998.9,286.1v2.6M837.2,124.5h-2.6M1001.4,286.1v5.0M837.2,121.9h-5.0M1018.0,286.1v2.6M837.2,105.3h-2.6M1027.7,286.1v2.6M837.2,95.6h-2.6M1034.6,286.1v2.6M837.2,88.7h-2.6M1039.9,286.1v2.6M837.2,83.3h-2.6M1044.3,286.1v2.6M837.2,79.0h-2.6M1048.0,286.1v2.6M837.2,75.3h-2.6M1051.2,286.1v2.6M837.2,72.1h-2.6M1054.0,286.1v2.6M837.2,69.2h-2.6M1056.5,286.1v5.0M837.2,66.7h-5.0" stroke="#3c3c3c" stroke-width="1" fill="none"/>
<text x="884.7" y="302.5" font-family='"Liberation Sans", sans-serif' font-size="9.6" fill="#333">10<tspan dy="-3.7" font-size="6.2">3</tspan></text>
<text x="815.9" y="236.0" font-family='"Liberation Sans", sans-serif' font-size="9.6" fill="#333">10<tspan dy="-3.7" font-size="6.2">3</tspan></text>
<text x="939.3" y="302.5" font-family='"Liberation Sans", sans-serif' font-size="9.6" fill="#333">10<tspan dy="-3.7" font-size="6.2">4</tspan></text>
<text x="815.9" y="181.0" font-family='"Liberation Sans", sans-serif' font-size="9.6" fill="#333">10<tspan dy="-3.7" font-size="6.2">4</tspan></text>
<text x="994.6" y="302.5" font-family='"Liberation Sans", sans-serif' font-size="9.6" fill="#333">10<tspan dy="-3.7" font-size="6.2">5</tspan></text>
<text x="815.9" y="125.6" font-family='"Liberation Sans", sans-serif' font-size="9.6" fill="#333">10<tspan dy="-3.7" font-size="6.2">5</tspan></text>
<text x="1049.9" y="302.5" font-family='"Liberation Sans", sans-serif' font-size="9.6" fill="#333">10<tspan dy="-3.7" font-size="6.2">6</tspan></text>
<text x="815.9" y="70.3" font-family='"Liberation Sans", sans-serif' font-size="9.6" fill="#333">10<tspan dy="-3.7" font-size="6.2">6</tspan></text>
<line x1="942.7" y1="65.8" x2="942.7" y2="286.1" stroke="#333" stroke-width="1.2" />
<line x1="837.2" y1="233.6" x2="1057.5" y2="233.6" stroke="#333" stroke-width="1.2" />
<text x="1009.8" y="227.9" font-family='"Liberation Sans", sans-serif' font-size="15.4" font-weight="normal" text-anchor="start" fill="#222" textLength="43.5" lengthAdjust="spacingAndGlyphs" >2.32%</text>
<path d="M854.8,439.9h1.1v1.1h-1.1zM914.7,449.2h1.1v1.1h-1.1zM908.7,445.0h1.1v1.1h-1.1zM869.8,457.9h1.1v1.1h-1.1zM909.2,456.2h1.1v1.1h-1.1zM883.9,444.8h1.1v1.1h-1.1zM881.1,447.7h1.1v1.1h-1.1zM902.5,439.8h1.1v1.1h-1.1zM926.4,430.0h1.1v1.1h-1.1zM899.4,425.7h1.1v1.1h-1.1zM930.8,415.3h1.1v1.1h-1.1zM923.3,422.7h1.1v1.1h-1.1zM879.6,430.0h1.1v1.1h-1.1zM882.0,446.1h1.1v1.1h-1.1zM909.3,441.8h1.1v1.1h-1.1zM889.1,442.1h1.1v1.1h-1.1zM886.5,469.9h1.1v1.1h-1.1zM865.0,469.7h1.1v1.1h-1.1zM932.4,457.7h1.1v1.1h-1.1zM868.7,425.4h1.1v1.1h-1.1zM897.2,470.9h1.1v1.1h-1.1zM901.6,432.4h1.1v1.1h-1.1zM886.8,468.9h1.1v1.1h-1.1zM885.7,457.4h1.1v1.1h-1.1zM947.2,433.4h1.1v1.1h-1.1zM849.5,437.4h1.1v1.1h-1.1zM894.4,454.1h1.1v1.1h-1.1zM896.7,440.5h1.1v1.1h-1.1zM923.1,424.8h1.1v1.1h-1.1zM920.4,461.0h1.1v1.1h-1.1zM927.5,439.1h1.1v1.1h-1.1zM874.5,447.0h1.1v1.1h-1.1zM841.0,453.7h1.1v1.1h-1.1zM920.5,441.4h1.1v1.1h-1.1zM931.2,470.4h1.1v1.1h-1.1zM913.0,438.4h1.1v1.1h-1.1zM942.9,451.9h1.1v1.1h-1.1zM862.0,465.4h1.1v1.1h-1.1zM895.4,433.4h1.1v1.1h-1.1zM909.8,470.0h1.1v1.1h-1.1zM953.6,467.1h1.1v1.1h-1.1zM876.7,457.5h1.1v1.1h-1.1zM941.5,428.1h1.1v1.1h-1.1zM862.2,446.0h1.1v1.1h-1.1zM881.6,451.9h1.1v1.1h-1.1zM868.7,439.2h1.1v1.1h-1.1zM895.0,459.3h1.1v1.1h-1.1zM907.4,458.1h1.1v1.1h-1.1zM909.1,441.9h1.1v1.1h-1.1zM866.0,453.8h1.1v1.1h-1.1zM903.9,449.3h1.1v1.1h-1.1zM885.9,436.2h1.1v1.1h-1.1zM860.6,441.8h1.1v1.1h-1.1zM914.2,469.7h1.1v1.1h-1.1zM890.0,436.3h1.1v1.1h-1.1zM865.0,437.3h1.1v1.1h-1.1zM880.0,444.8h1.1v1.1h-1.1zM880.5,433.8h1.1v1.1h-1.1zM897.2,446.3h1.1v1.1h-1.1zM924.6,431.3h1.1v1.1h-1.1zM889.2,457.0h1.1v1.1h-1.1zM882.9,467.9h1.1v1.1h-1.1zM897.2,431.1h1.1v1.1h-1.1zM919.3,446.9h1.1v1.1h-1.1zM871.2,444.4h1.1v1.1h-1.1zM888.2,456.2h1.1v1.1h-1.1zM855.1,441.2h1.1v1.1h-1.1zM936.8,453.1h1.1v1.1h-1.1zM873.5,428.9h1.1v1.1h-1.1zM856.9,455.4h1.1v1.1h-1.1zM903.4,463.5h1.1v1.1h-1.1zM893.6,441.6h1.1v1.1h-1.1zM875.3,447.0h1.1v1.1h-1.1zM913.9,444.0h1.1v1.1h-1.1zM903.1,456.9h1.1v1.1h-1.1zM874.9,451.7h1.1v1.1h-1.1zM901.1,427.4h1.1v1.1h-1.1zM933.5,436.7h1.1v1.1h-1.1zM889.4,438.9h1.1v1.1h-1.1zM906.7,437.6h1.1v1.1h-1.1zM886.7,440.7h1.1v1.1h-1.1zM879.8,446.6h1.1v1.1h-1.1zM923.7,458.3h1.1v1.1h-1.1zM907.3,454.5h1.1v1.1h-1.1zM838.0,453.6h1.1v1.1h-1.1zM844.6,467.5h1.1v1.1h-1.1zM946.5,442.3h1.1v1.1h-1.1zM837.9,439.2h1.1v1.1h-1.1zM920.1,429.8h1.1v1.1h-1.1zM885.8,444.5h1.1v1.1h-1.1zM930.0,461.6h1.1v1.1h-1.1zM879.4,466.0h1.1v1.1h-1.1zM895.0,444.1h1.1v1.1h-1.1zM861.3,463.6h1.1v1.1h-1.1zM903.1,437.8h1.1v1.1h-1.1zM918.8,432.9h1.1v1.1h-1.1zM954.8,442.9h1.1v1.1h-1.1zM928.9,458.0h1.1v1.1h-1.1zM891.5,446.6h1.1v1.1h-1.1zM863.9,454.6h1.1v1.1h-1.1zM894.0,451.1h1.1v1.1h-1.1zM936.0,447.3h1.1v1.1h-1.1zM927.3,470.1h1.1v1.1h-1.1zM883.5,444.6h1.1v1.1h-1.1zM896.9,447.7h1.1v1.1h-1.1zM976.7,463.9h1.1v1.1h-1.1zM940.9,440.8h1.1v1.1h-1.1zM932.2,453.3h1.1v1.1h-1.1zM881.0,448.4h1.1v1.1h-1.1zM899.3,441.5h1.1v1.1h-1.1zM860.0,452.7h1.1v1.1h-1.1zM918.1,438.1h1.1v1.1h-1.1zM889.2,449.7h1.1v1.1h-1.1zM843.9,450.6h1.1v1.1h-1.1zM889.7,426.3h1.1v1.1h-1.1zM892.8,439.2h1.1v1.1h-1.1zM859.3,435.3h1.1v1.1h-1.1zM869.0,468.1h1.1v1.1h-1.1zM926.4,460.9h1.1v1.1h-1.1zM869.0,429.9h1.1v1.1h-1.1zM842.9,436.8h1.1v1.1h-1.1zM876.4,433.6h1.1v1.1h-1.1zM871.6,454.1h1.1v1.1h-1.1zM873.4,453.6h1.1v1.1h-1.1zM898.9,449.3h1.1v1.1h-1.1zM873.4,456.7h1.1v1.1h-1.1zM936.5,426.1h1.1v1.1h-1.1zM932.2,432.6h1.1v1.1h-1.1zM893.8,468.1h1.1v1.1h-1.1zM909.9,423.2h1.1v1.1h-1.1zM920.3,459.5h1.1v1.1h-1.1zM932.7,455.8h1.1v1.1h-1.1zM908.4,430.1h1.1v1.1h-1.1zM940.1,429.0h1.1v1.1h-1.1zM922.0,458.2h1.1v1.1h-1.1zM895.2,477.9h1.1v1.1h-1.1zM875.1,442.9h1.1v1.1h-1.1zM901.1,440.4h1.1v1.1h-1.1zM865.8,475.3h1.1v1.1h-1.1zM865.5,457.7h1.1v1.1h-1.1zM855.5,429.1h1.1v1.1h-1.1zM844.4,458.7h1.1v1.1h-1.1zM971.6,534.0h1.1v1.1h-1.1zM985.6,509.9h1.1v1.1h-1.1zM991.4,524.1h1.1v1.1h-1.1zM954.6,525.1h1.1v1.1h-1.1zM978.8,531.3h1.1v1.1h-1.1zM963.3,536.6h1.1v1.1h-1.1zM966.7,537.4h1.1v1.1h-1.1zM1006.8,527.2h1.1v1.1h-1.1zM962.9,538.6h1.1v1.1h-1.1zM968.7,511.2h1.1v1.1h-1.1zM978.9,536.8h1.1v1.1h-1.1zM1008.3,525.5h1.1v1.1h-1.1zM1026.2,533.5h1.1v1.1h-1.1zM984.9,523.7h1.1v1.1h-1.1zM957.9,540.2h1.1v1.1h-1.1zM989.1,530.2h1.1v1.1h-1.1zM1004.2,525.5h1.1v1.1h-1.1zM985.0,526.8h1.1v1.1h-1.1zM973.6,531.2h1.1v1.1h-1.1zM962.9,518.5h1.1v1.1h-1.1zM994.8,541.7h1.1v1.1h-1.1zM985.8,532.3h1.1v1.1h-1.1zM958.6,528.5h1.1v1.1h-1.1zM994.4,535.5h1.1v1.1h-1.1zM989.8,531.8h1.1v1.1h-1.1zM977.0,523.4h1.1v1.1h-1.1zM963.8,533.7h1.1v1.1h-1.1zM954.9,535.2h1.1v1.1h-1.1zM961.0,543.3h1.1v1.1h-1.1zM1005.4,520.5h1.1v1.1h-1.1zM979.7,530.6h1.1v1.1h-1.1zM972.4,534.4h1.1v1.1h-1.1zM1001.4,534.4h1.1v1.1h-1.1zM990.0,511.2h1.1v1.1h-1.1zM997.6,537.7h1.1v1.1h-1.1zM989.3,519.3h1.1v1.1h-1.1zM972.0,533.0h1.1v1.1h-1.1zM979.0,510.4h1.1v1.1h-1.1zM974.0,519.4h1.1v1.1h-1.1zM974.7,543.5h1.1v1.1h-1.1zM984.7,526.5h1.1v1.1h-1.1zM958.8,525.2h1.1v1.1h-1.1zM968.6,516.9h1.1v1.1h-1.1zM992.5,527.4h1.1v1.1h-1.1zM992.0,535.1h1.1v1.1h-1.1zM991.6,535.1h1.1v1.1h-1.1zM979.7,518.9h1.1v1.1h-1.1zM972.5,547.0h1.1v1.1h-1.1zM973.9,520.8h1.1v1.1h-1.1zM949.7,528.2h1.1v1.1h-1.1zM999.0,518.8h1.1v1.1h-1.1zM951.6,521.4h1.1v1.1h-1.1zM982.0,526.8h1.1v1.1h-1.1zM975.6,518.0h1.1v1.1h-1.1zM989.2,532.8h1.1v1.1h-1.1zM987.3,520.1h1.1v1.1h-1.1zM1007.3,518.7h1.1v1.1h-1.1zM966.3,529.4h1.1v1.1h-1.1zM953.5,544.9h1.1v1.1h-1.1zM975.4,512.2h1.1v1.1h-1.1zM936.1,537.9h1.1v1.1h-1.1zM965.8,525.8h1.1v1.1h-1.1zM977.5,514.8h1.1v1.1h-1.1zM998.4,529.2h1.1v1.1h-1.1zM993.2,541.6h1.1v1.1h-1.1zM999.0,515.3h1.1v1.1h-1.1zM986.1,532.7h1.1v1.1h-1.1zM970.5,532.9h1.1v1.1h-1.1zM1004.9,537.0h1.1v1.1h-1.1zM999.8,545.6h1.1v1.1h-1.1zM982.8,524.4h1.1v1.1h-1.1zM974.8,504.2h1.1v1.1h-1.1zM993.1,531.7h1.1v1.1h-1.1zM938.4,522.6h1.1v1.1h-1.1zM1020.6,530.1h1.1v1.1h-1.1zM965.1,524.2h1.1v1.1h-1.1zM1017.7,519.2h1.1v1.1h-1.1zM944.7,536.6h1.1v1.1h-1.1zM973.6,515.8h1.1v1.1h-1.1zM985.7,525.5h1.1v1.1h-1.1zM1010.5,526.8h1.1v1.1h-1.1zM992.4,506.7h1.1v1.1h-1.1zM966.7,525.7h1.1v1.1h-1.1zM1007.3,525.5h1.1v1.1h-1.1zM989.6,520.2h1.1v1.1h-1.1zM986.6,522.7h1.1v1.1h-1.1zM1000.8,528.5h1.1v1.1h-1.1zM1003.3,541.4h1.1v1.1h-1.1zM986.9,534.6h1.1v1.1h-1.1zM992.0,512.1h1.1v1.1h-1.1zM980.8,527.7h1.1v1.1h-1.1zM968.6,529.5h1.1v1.1h-1.1zM933.9,535.7h1.1v1.1h-1.1zM958.4,534.2h1.1v1.1h-1.1zM967.0,520.7h1.1v1.1h-1.1zM1002.2,535.1h1.1v1.1h-1.1zM973.9,530.0h1.1v1.1h-1.1zM981.0,518.0h1.1v1.1h-1.1zM970.8,516.9h1.1v1.1h-1.1zM987.4,535.2h1.1v1.1h-1.1zM1023.9,511.3h1.1v1.1h-1.1zM974.3,532.0h1.1v1.1h-1.1zM979.1,521.0h1.1v1.1h-1.1zM996.9,527.0h1.1v1.1h-1.1zM957.2,531.5h1.1v1.1h-1.1zM984.5,534.1h1.1v1.1h-1.1zM993.3,529.7h1.1v1.1h-1.1zM979.2,515.7h1.1v1.1h-1.1zM956.3,525.2h1.1v1.1h-1.1zM990.9,520.5h1.1v1.1h-1.1zM965.2,535.7h1.1v1.1h-1.1zM980.0,534.0h1.1v1.1h-1.1zM956.1,517.8h1.1v1.1h-1.1zM983.1,519.2h1.1v1.1h-1.1zM963.9,531.1h1.1v1.1h-1.1zM1013.2,518.3h1.1v1.1h-1.1zM992.4,516.5h1.1v1.1h-1.1zM974.9,532.8h1.1v1.1h-1.1zM976.3,529.4h1.1v1.1h-1.1zM972.8,528.9h1.1v1.1h-1.1zM990.9,513.9h1.1v1.1h-1.1zM997.5,514.4h1.1v1.1h-1.1zM983.2,542.7h1.1v1.1h-1.1zM979.5,527.4h1.1v1.1h-1.1zM954.9,534.0h1.1v1.1h-1.1zM936.3,515.5h1.1v1.1h-1.1zM1019.2,517.9h1.1v1.1h-1.1zM952.4,547.1h1.1v1.1h-1.1zM971.8,528.7h1.1v1.1h-1.1zM953.6,527.3h1.1v1.1h-1.1zM981.7,519.8h1.1v1.1h-1.1zM979.1,514.5h1.1v1.1h-1.1zM968.0,541.5h1.1v1.1h-1.1zM964.4,523.4h1.1v1.1h-1.1zM983.8,528.8h1.1v1.1h-1.1zM974.4,512.3h1.1v1.1h-1.1zM978.9,531.5h1.1v1.1h-1.1zM953.4,513.3h1.1v1.1h-1.1zM973.2,536.4h1.1v1.1h-1.1zM998.8,521.4h1.1v1.1h-1.1zM954.3,519.8h1.1v1.1h-1.1zM1027.7,527.1h1.1v1.1h-1.1zM1012.2,528.8h1.1v1.1h-1.1zM995.2,511.7h1.1v1.1h-1.1zM970.0,537.1h1.1v1.1h-1.1zM982.8,527.6h1.1v1.1h-1.1zM1004.4,514.0h1.1v1.1h-1.1zM990.4,542.1h1.1v1.1h-1.1zM988.3,520.2h1.1v1.1h-1.1zM978.6,537.4h1.1v1.1h-1.1zM975.8,538.3h1.1v1.1h-1.1zM947.1,524.6h1.1v1.1h-1.1zM959.1,540.5h1.1v1.1h-1.1zM990.2,529.9h1.1v1.1h-1.1zM981.8,521.1h1.1v1.1h-1.1zM964.8,525.6h1.1v1.1h-1.1zM965.9,532.1h1.1v1.1h-1.1zM1006.9,507.0h1.1v1.1h-1.1zM953.8,523.9h1.1v1.1h-1.1zM1023.7,521.6h1.1v1.1h-1.1zM984.6,537.1h1.1v1.1h-1.1zM983.5,540.9h1.1v1.1h-1.1zM975.1,518.0h1.1v1.1h-1.1zM972.7,514.6h1.1v1.1h-1.1zM1010.5,526.9h1.1v1.1h-1.1zM970.3,518.8h1.1v1.1h-1.1zM982.2,528.1h1.1v1.1h-1.1zM968.2,538.9h1.1v1.1h-1.1zM946.8,540.7h1.1v1.1h-1.1zM941.1,517.6h1.1v1.1h-1.1zM953.6,518.6h1.1v1.1h-1.1zM1021.7,531.5h1.1v1.1h-1.1zM887.1,464.5h1.1v1.1h-1.1zM859.7,500.7h1.1v1.1h-1.1zM920.6,483.7h1.1v1.1h-1.1zM936.8,484.1h1.1v1.1h-1.1zM883.5,418.2h1.1v1.1h-1.1zM928.9,452.0h1.1v1.1h-1.1zM936.9,442.2h1.1v1.1h-1.1zM926.7,497.9h1.1v1.1h-1.1zM924.4,484.7h1.1v1.1h-1.1zM892.1,434.7h1.1v1.1h-1.1zM963.6,412.9h1.1v1.1h-1.1zM977.1,488.9h1.1v1.1h-1.1z" fill="#c2c2c2"/>
<path d="M915.6,452.6h1.1v1.1h-1.1zM876.7,443.7h1.1v1.1h-1.1zM900.9,441.0h1.1v1.1h-1.1zM889.8,443.3h1.1v1.1h-1.1zM889.0,449.0h1.1v1.1h-1.1zM912.2,457.2h1.1v1.1h-1.1zM876.6,436.6h1.1v1.1h-1.1zM923.6,447.1h1.1v1.1h-1.1zM920.7,446.5h1.1v1.1h-1.1zM922.8,452.1h1.1v1.1h-1.1zM892.1,429.8h1.1v1.1h-1.1zM877.8,451.2h1.1v1.1h-1.1zM913.2,454.9h1.1v1.1h-1.1zM894.2,448.1h1.1v1.1h-1.1zM892.8,439.4h1.1v1.1h-1.1zM888.8,452.9h1.1v1.1h-1.1zM890.8,431.1h1.1v1.1h-1.1zM901.7,452.7h1.1v1.1h-1.1zM884.2,432.3h1.1v1.1h-1.1zM884.4,458.0h1.1v1.1h-1.1zM911.1,441.9h1.1v1.1h-1.1zM912.8,456.3h1.1v1.1h-1.1zM872.9,449.8h1.1v1.1h-1.1zM920.8,436.3h1.1v1.1h-1.1zM893.1,454.4h1.1v1.1h-1.1zM923.6,450.4h1.1v1.1h-1.1zM894.1,451.7h1.1v1.1h-1.1zM877.8,452.9h1.1v1.1h-1.1zM884.7,457.9h1.1v1.1h-1.1zM907.4,447.1h1.1v1.1h-1.1zM896.4,431.1h1.1v1.1h-1.1zM873.0,443.4h1.1v1.1h-1.1zM870.7,450.4h1.1v1.1h-1.1zM889.0,433.9h1.1v1.1h-1.1zM908.0,454.5h1.1v1.1h-1.1zM879.0,463.7h1.1v1.1h-1.1zM891.4,450.9h1.1v1.1h-1.1zM880.8,445.0h1.1v1.1h-1.1zM894.0,465.3h1.1v1.1h-1.1zM897.9,440.6h1.1v1.1h-1.1zM983.2,531.0h1.1v1.1h-1.1zM964.1,532.2h1.1v1.1h-1.1zM968.6,526.1h1.1v1.1h-1.1zM992.0,529.6h1.1v1.1h-1.1zM989.5,517.9h1.1v1.1h-1.1zM980.1,533.6h1.1v1.1h-1.1zM983.9,528.6h1.1v1.1h-1.1zM964.5,522.7h1.1v1.1h-1.1zM991.6,524.5h1.1v1.1h-1.1zM995.0,521.4h1.1v1.1h-1.1zM981.6,525.7h1.1v1.1h-1.1zM984.8,519.1h1.1v1.1h-1.1zM971.9,521.1h1.1v1.1h-1.1zM988.8,534.0h1.1v1.1h-1.1zM985.2,516.9h1.1v1.1h-1.1zM969.2,532.3h1.1v1.1h-1.1zM981.4,516.8h1.1v1.1h-1.1zM977.6,530.2h1.1v1.1h-1.1zM961.7,532.5h1.1v1.1h-1.1zM986.9,525.2h1.1v1.1h-1.1zM976.9,525.0h1.1v1.1h-1.1zM999.6,531.8h1.1v1.1h-1.1zM991.2,532.2h1.1v1.1h-1.1zM991.6,525.5h1.1v1.1h-1.1zM958.7,523.0h1.1v1.1h-1.1zM961.3,528.6h1.1v1.1h-1.1zM992.8,523.1h1.1v1.1h-1.1zM964.9,534.8h1.1v1.1h-1.1zM977.9,522.9h1.1v1.1h-1.1zM977.2,523.4h1.1v1.1h-1.1zM972.2,535.3h1.1v1.1h-1.1zM983.1,522.1h1.1v1.1h-1.1zM975.4,527.0h1.1v1.1h-1.1zM976.7,526.7h1.1v1.1h-1.1zM980.0,521.3h1.1v1.1h-1.1zM986.8,528.7h1.1v1.1h-1.1zM977.3,516.0h1.1v1.1h-1.1zM983.1,537.2h1.1v1.1h-1.1zM978.2,536.5h1.1v1.1h-1.1zM985.8,529.8h1.1v1.1h-1.1zM978.1,527.0h1.1v1.1h-1.1zM979.2,533.0h1.1v1.1h-1.1zM966.2,530.9h1.1v1.1h-1.1zM978.7,527.0h1.1v1.1h-1.1zM995.2,521.8h1.1v1.1h-1.1zM958.2,526.9h1.1v1.1h-1.1zM963.6,519.0h1.1v1.1h-1.1zM981.3,522.1h1.1v1.1h-1.1zM981.7,534.8h1.1v1.1h-1.1zM983.1,522.1h1.1v1.1h-1.1zM985.3,536.6h1.1v1.1h-1.1zM958.9,522.6h1.1v1.1h-1.1zM959.4,528.8h1.1v1.1h-1.1zM995.4,532.7h1.1v1.1h-1.1zM988.7,534.6h1.1v1.1h-1.1zM959.1,527.0h1.1v1.1h-1.1zM993.6,525.8h1.1v1.1h-1.1zM980.5,526.2h1.1v1.1h-1.1zM984.4,534.4h1.1v1.1h-1.1zM933.4,455.8h1.1v1.1h-1.1zM922.3,456.8h1.1v1.1h-1.1zM869.4,473.2h1.1v1.1h-1.1zM887.2,470.2h1.1v1.1h-1.1z" fill="#8e8e8e"/>
<path d="M901.7,439.3h1.1v1.1h-1.1zM897.2,436.9h1.1v1.1h-1.1zM887.1,452.6h1.1v1.1h-1.1zM879.3,444.6h1.1v1.1h-1.1zM904.0,438.0h1.1v1.1h-1.1zM906.0,438.4h1.1v1.1h-1.1zM912.4,447.4h1.1v1.1h-1.1zM882.6,455.1h1.1v1.1h-1.1zM873.4,450.5h1.1v1.1h-1.1zM977.3,533.3h1.1v1.1h-1.1zM978.7,535.7h1.1v1.1h-1.1zM993.4,527.9h1.1v1.1h-1.1zM988.2,526.6h1.1v1.1h-1.1zM974.5,530.6h1.1v1.1h-1.1zM978.8,527.3h1.1v1.1h-1.1zM966.8,522.6h1.1v1.1h-1.1zM991.6,526.3h1.1v1.1h-1.1zM979.5,526.6h1.1v1.1h-1.1zM997.6,528.9h1.1v1.1h-1.1zM977.1,522.8h1.1v1.1h-1.1zM982.0,527.9h1.1v1.1h-1.1zM975.1,523.4h1.1v1.1h-1.1zM971.5,530.7h1.1v1.1h-1.1zM980.5,531.5h1.1v1.1h-1.1zM976.1,526.7h1.1v1.1h-1.1zM964.9,529.5h1.1v1.1h-1.1z" fill="#d455c6"/>
<path d="M946.1,449.7h1.1v1.1h-1.1zM954.5,437.9h1.1v1.1h-1.1zM846.6,459.8h1.1v1.1h-1.1zM941.6,435.8h1.1v1.1h-1.1zM910.0,466.9h1.1v1.1h-1.1zM966.1,509.7h1.1v1.1h-1.1zM978.7,541.8h1.1v1.1h-1.1zM977.6,540.9h1.1v1.1h-1.1zM1005.6,518.6h1.1v1.1h-1.1z" fill="#e3b4de"/>
<rect x="837.2" y="341.8" width="220.29999999999995" height="220.40000000000003" fill="none" stroke="#3c3c3c" stroke-width="1.1"/>
<path d="M852.8,562.2v2.6M837.2,546.4h-2.6M862.5,562.2v2.6M837.2,536.6h-2.6M869.4,562.2v2.6M837.2,529.8h-2.6M874.7,562.2v2.6M837.2,524.4h-2.6M879.1,562.2v2.6M837.2,520.0h-2.6M882.8,562.2v2.6M837.2,516.3h-2.6M886.0,562.2v2.6M837.2,513.1h-2.6M888.8,562.2v2.6M837.2,510.3h-2.6M891.3,562.2v5.0M837.2,507.8h-5.0M907.9,562.2v2.6M837.2,491.2h-2.6M917.6,562.2v2.6M837.2,481.5h-2.6M924.5,562.2v2.6M837.2,474.6h-2.6M929.8,562.2v2.6M837.2,469.2h-2.6M934.2,562.2v2.6M837.2,464.9h-2.6M937.8,562.2v2.6M837.2,461.2h-2.6M941.0,562.2v2.6M837.2,458.0h-2.6M943.8,562.2v2.6M837.2,455.2h-2.6M946.4,562.2v5.0M837.2,452.6h-5.0M962.9,562.2v2.6M837.2,436.0h-2.6M972.6,562.2v2.6M837.2,426.3h-2.6M979.5,562.2v2.6M837.2,419.4h-2.6M984.9,562.2v2.6M837.2,414.1h-2.6M989.2,562.2v2.6M837.2,409.7h-2.6M992.9,562.2v2.6M837.2,406.0h-2.6M996.1,562.2v2.6M837.2,402.8h-2.6M998.9,562.2v2.6M837.2,400.0h-2.6M1001.4,562.2v5.0M837.2,397.5h-5.0M1018.0,562.2v2.6M837.2,380.9h-2.6M1027.7,562.2v2.6M837.2,371.1h-2.6M1034.6,562.2v2.6M837.2,364.3h-2.6M1039.9,562.2v2.6M837.2,358.9h-2.6M1044.3,562.2v2.6M837.2,354.5h-2.6M1048.0,562.2v2.6M837.2,350.8h-2.6M1051.2,562.2v2.6M837.2,347.6h-2.6M1054.0,562.2v2.6M837.2,344.8h-2.6M1056.5,562.2v5.0M837.2,342.3h-5.0" stroke="#3c3c3c" stroke-width="1" fill="none"/>
<text x="884.7" y="578.6" font-family='"Liberation Sans", sans-serif' font-size="9.6" fill="#333">10<tspan dy="-3.7" font-size="6.2">3</tspan></text>
<text x="815.9" y="511.4" font-family='"Liberation Sans", sans-serif' font-size="9.6" fill="#333">10<tspan dy="-3.7" font-size="6.2">3</tspan></text>
<text x="939.3" y="578.6" font-family='"Liberation Sans", sans-serif' font-size="9.6" fill="#333">10<tspan dy="-3.7" font-size="6.2">4</tspan></text>
<text x="815.9" y="457.0" font-family='"Liberation Sans", sans-serif' font-size="9.6" fill="#333">10<tspan dy="-3.7" font-size="6.2">4</tspan></text>
<text x="994.6" y="578.6" font-family='"Liberation Sans", sans-serif' font-size="9.6" fill="#333">10<tspan dy="-3.7" font-size="6.2">5</tspan></text>
<text x="815.9" y="401.7" font-family='"Liberation Sans", sans-serif' font-size="9.6" fill="#333">10<tspan dy="-3.7" font-size="6.2">5</tspan></text>
<text x="1049.9" y="578.6" font-family='"Liberation Sans", sans-serif' font-size="9.6" fill="#333">10<tspan dy="-3.7" font-size="6.2">6</tspan></text>
<text x="815.9" y="345.9" font-family='"Liberation Sans", sans-serif' font-size="9.6" fill="#333">10<tspan dy="-3.7" font-size="6.2">6</tspan></text>
<line x1="941.7" y1="341.8" x2="941.7" y2="562.2" stroke="#333" stroke-width="1.2" />
<line x1="837.2" y1="508.2" x2="1057.5" y2="508.2" stroke="#333" stroke-width="1.2" />
<text x="1001.2" y="501.8" font-family='"Liberation Sans", sans-serif' font-size="15.4" font-weight="normal" text-anchor="start" fill="#222" textLength="51.6" lengthAdjust="spacingAndGlyphs" >56.06%</text>
<text transform="translate(119.05,687.45) scale(0.8504,1)" font-family='"Liberation Sans", sans-serif' font-size="28.20" font-weight="normal" fill="#000" >B</text>
<text transform="translate(527.18,687.25) scale(0.8357,1)" font-family='"Liberation Sans", sans-serif' font-size="28.00" font-weight="normal" fill="#000" >C</text>
<line x1="74.45" y1="711.1" x2="74.45" y2="969.3000000000001" stroke="#050708" stroke-width="3.5" />
<line x1="63.1" y1="967.6" x2="576.3" y2="967.6" stroke="#050708" stroke-width="3.5" />
<line x1="63.1" y1="967.6" x2="74.45" y2="967.6" stroke="#050708" stroke-width="3.6" />
<text x="60.4" y="974.5" font-family='"Liberation Sans", sans-serif' font-size="19" font-weight="bold" text-anchor="end" fill="#050708" >0</text>
<line x1="63.1" y1="916.64" x2="74.45" y2="916.64" stroke="#050708" stroke-width="3.6" />
<text x="60.4" y="923.54" font-family='"Liberation Sans", sans-serif' font-size="19" font-weight="bold" text-anchor="end" fill="#050708" >20</text>
<line x1="63.1" y1="865.6800000000001" x2="74.45" y2="865.6800000000001" stroke="#050708" stroke-width="3.6" />
<text x="60.4" y="872.58" font-family='"Liberation Sans", sans-serif' font-size="19" font-weight="bold" text-anchor="end" fill="#050708" >40</text>
<line x1="63.1" y1="814.72" x2="74.45" y2="814.72" stroke="#050708" stroke-width="3.6" />
<text x="60.4" y="821.62" font-family='"Liberation Sans", sans-serif' font-size="19" font-weight="bold" text-anchor="end" fill="#050708" >60</text>
<line x1="63.1" y1="763.76" x2="74.45" y2="763.76" stroke="#050708" stroke-width="3.6" />
<text x="60.4" y="770.66" font-family='"Liberation Sans", sans-serif' font-size="19" font-weight="bold" text-anchor="end" fill="#050708" >80</text>
<line x1="63.1" y1="712.8" x2="74.45" y2="712.8" stroke="#050708" stroke-width="3.6" />
<text x="60.4" y="719.6999999999999" font-family='"Liberation Sans", sans-serif' font-size="19" font-weight="bold" text-anchor="end" fill="#050708" >100</text>
<line x1="136.7" y1="967.6" x2="136.7" y2="978.7" stroke="#050708" stroke-width="3.6" />
<line x1="261.8" y1="967.6" x2="261.8" y2="978.7" stroke="#050708" stroke-width="3.6" />
<line x1="387.0" y1="967.6" x2="387.0" y2="978.7" stroke="#050708" stroke-width="3.6" />
<line x1="511.7" y1="967.6" x2="511.7" y2="978.7" stroke="#050708" stroke-width="3.6" />
<line x1="98.99999999999999" y1="781.0" x2="98.99999999999999" y2="813.2" stroke="#111" stroke-width="1.5" />
<line x1="92.89999999999999" y1="781.0" x2="105.09999999999998" y2="781.0" stroke="#111" stroke-width="1.5" />
<rect x="86.70" y="812.20" width="25.00" height="157.10" fill="#050708"/>
<rect x="90.30" y="815.90" width="17.80" height="149.80" fill="#fff"/>
<line x1="123.99999999999999" y1="764.0" x2="123.99999999999999" y2="816.1" stroke="#111" stroke-width="1.5" />
<line x1="117.89999999999999" y1="764.0" x2="130.1" y2="764.0" stroke="#111" stroke-width="1.5" />
<rect x="111.70" y="815.10" width="25.00" height="154.20" fill="#050708"/>
<rect x="115.30" y="818.80" width="17.80" height="146.90" fill="#a1a0a5"/>
<line x1="149.0" y1="781.9" x2="149.0" y2="831.6" stroke="#111" stroke-width="1.5" />
<line x1="142.9" y1="781.9" x2="155.1" y2="781.9" stroke="#111" stroke-width="1.5" />
<rect x="136.70" y="830.60" width="25.00" height="138.70" fill="#050708"/>
<path d="M140.30,837.90H143.60V842.95H140.30zM140.30,848.00H143.60V853.05H140.30zM140.30,858.10H143.60V863.15H140.30zM140.30,868.20H143.60V873.25H140.30zM140.30,878.30H143.60V883.35H140.30zM140.30,888.40H143.60V893.45H140.30zM140.30,898.50H143.60V903.55H140.30zM140.30,908.60H143.60V913.65H140.30zM140.30,918.70H143.60V923.75H140.30zM140.30,928.80H143.60V933.85H140.30zM140.30,938.90H143.60V943.95H140.30zM140.30,949.00H143.60V954.05H140.30zM140.30,959.10H143.60V964.15H140.30zM143.60,834.30H148.65V837.90H143.60zM143.60,842.95H148.65V848.00H143.60zM143.60,853.05H148.65V858.10H143.60zM143.60,863.15H148.65V868.20H143.60zM143.60,873.25H148.65V878.30H143.60zM143.60,883.35H148.65V888.40H143.60zM143.60,893.45H148.65V898.50H143.60zM143.60,903.55H148.65V908.60H143.60zM143.60,913.65H148.65V918.70H143.60zM143.60,923.75H148.65V928.80H143.60zM143.60,933.85H148.65V938.90H143.60zM143.60,943.95H148.65V949.00H143.60zM143.60,954.05H148.65V959.10H143.60zM143.60,964.15H148.65V965.70H143.60zM148.65,837.90H153.70V842.95H148.65zM148.65,848.00H153.70V853.05H148.65zM148.65,858.10H153.70V863.15H148.65zM148.65,868.20H153.70V873.25H148.65zM148.65,878.30H153.70V883.35H148.65zM148.65,888.40H153.70V893.45H148.65zM148.65,898.50H153.70V903.55H148.65zM148.65,908.60H153.70V913.65H148.65zM148.65,918.70H153.70V923.75H148.65zM148.65,928.80H153.70V933.85H148.65zM148.65,938.90H153.70V943.95H148.65zM148.65,949.00H153.70V954.05H148.65zM148.65,959.10H153.70V964.15H148.65zM153.70,834.30H158.10V837.90H153.70zM153.70,842.95H158.10V848.00H153.70zM153.70,853.05H158.10V858.10H153.70zM153.70,863.15H158.10V868.20H153.70zM153.70,873.25H158.10V878.30H153.70zM153.70,883.35H158.10V888.40H153.70zM153.70,893.45H158.10V898.50H153.70zM153.70,903.55H158.10V908.60H153.70zM153.70,913.65H158.10V918.70H153.70zM153.70,923.75H158.10V928.80H153.70zM153.70,933.85H158.10V938.90H153.70zM153.70,943.95H158.10V949.00H153.70zM153.70,954.05H158.10V959.10H153.70zM153.70,964.15H158.10V965.70H153.70z" fill="#fff"/>
<line x1="174.0" y1="752.5" x2="174.0" y2="804.1" stroke="#111" stroke-width="1.5" />
<line x1="167.9" y1="752.5" x2="180.1" y2="752.5" stroke="#111" stroke-width="1.5" />
<rect x="161.70" y="803.10" width="25.00" height="166.20" fill="#050708"/>
<rect x="165.30" y="806.80" width="17.80" height="158.90" fill="#ededed"/>
<path d="M173.95,806.80V808.40M182.70,806.80V808.40M165.30,808.40H183.10M169.80,808.40V812.23M178.55,808.40V812.23M165.30,812.23H183.10M173.95,812.23V816.06M182.70,812.23V816.06M165.30,816.06H183.10M169.80,816.06V819.89M178.55,816.06V819.89M165.30,819.89H183.10M173.95,819.89V823.72M182.70,819.89V823.72M165.30,823.72H183.10M169.80,823.72V827.55M178.55,823.72V827.55M165.30,827.55H183.10M173.95,827.55V831.38M182.70,827.55V831.38M165.30,831.38H183.10M169.80,831.38V835.21M178.55,831.38V835.21M165.30,835.21H183.10M173.95,835.21V839.04M182.70,835.21V839.04M165.30,839.04H183.10M169.80,839.04V842.87M178.55,839.04V842.87M165.30,842.87H183.10M173.95,842.87V846.70M182.70,842.87V846.70M165.30,846.70H183.10M169.80,846.70V850.53M178.55,846.70V850.53M165.30,850.53H183.10M173.95,850.53V854.36M182.70,850.53V854.36M165.30,854.36H183.10M169.80,854.36V858.19M178.55,854.36V858.19M165.30,858.19H183.10M173.95,858.19V862.02M182.70,858.19V862.02M165.30,862.02H183.10M169.80,862.02V865.85M178.55,862.02V865.85M165.30,865.85H183.10M173.95,865.85V869.68M182.70,865.85V869.68M165.30,869.68H183.10M169.80,869.68V873.51M178.55,869.68V873.51M165.30,873.51H183.10M173.95,873.51V877.34M182.70,873.51V877.34M165.30,877.34H183.10M169.80,877.34V881.17M178.55,877.34V881.17M165.30,881.17H183.10M173.95,881.17V885.00M182.70,881.17V885.00M165.30,885.00H183.10M169.80,885.00V888.83M178.55,885.00V888.83M165.30,888.83H183.10M173.95,888.83V892.66M182.70,888.83V892.66M165.30,892.66H183.10M169.80,892.66V896.49M178.55,892.66V896.49M165.30,896.49H183.10M173.95,896.49V900.32M182.70,896.49V900.32M165.30,900.32H183.10M169.80,900.32V904.15M178.55,900.32V904.15M165.30,904.15H183.10M173.95,904.15V907.98M182.70,904.15V907.98M165.30,907.98H183.10M169.80,907.98V911.81M178.55,907.98V911.81M165.30,911.81H183.10M173.95,911.81V915.64M182.70,911.81V915.64M165.30,915.64H183.10M169.80,915.64V919.47M178.55,915.64V919.47M165.30,919.47H183.10M173.95,919.47V923.30M182.70,919.47V923.30M165.30,923.30H183.10M169.80,923.30V927.13M178.55,923.30V927.13M165.30,927.13H183.10M173.95,927.13V930.96M182.70,927.13V930.96M165.30,930.96H183.10M169.80,930.96V934.79M178.55,930.96V934.79M165.30,934.79H183.10M173.95,934.79V938.62M182.70,934.79V938.62M165.30,938.62H183.10M169.80,938.62V942.45M178.55,938.62V942.45M165.30,942.45H183.10M173.95,942.45V946.28M182.70,942.45V946.28M165.30,946.28H183.10M169.80,946.28V950.11M178.55,946.28V950.11M165.30,950.11H183.10M173.95,950.11V953.94M182.70,950.11V953.94M165.30,953.94H183.10M169.80,953.94V957.77M178.55,953.94V957.77M165.30,957.77H183.10M173.95,957.77V961.60M182.70,957.77V961.60M165.30,961.60H183.10M169.80,961.60V965.43M178.55,961.60V965.43M165.30,965.43H183.10M173.95,965.43V965.70M182.70,965.43V965.70" stroke="#555" stroke-width="1.3" fill="none"/>
<line x1="224.10000000000002" y1="943.5" x2="224.10000000000002" y2="959.0" stroke="#111" stroke-width="1.5" />
<line x1="218.00000000000003" y1="943.5" x2="230.20000000000002" y2="943.5" stroke="#111" stroke-width="1.5" />
<rect x="211.80" y="958.00" width="25.00" height="11.30" fill="#050708"/>
<rect x="215.40" y="961.70" width="17.80" height="4.00" fill="#fff"/>
<line x1="249.10000000000002" y1="909.0" x2="249.10000000000002" y2="938.2" stroke="#111" stroke-width="1.5" />
<line x1="243.00000000000003" y1="909.0" x2="255.20000000000002" y2="909.0" stroke="#111" stroke-width="1.5" />
<rect x="236.80" y="937.20" width="25.00" height="32.10" fill="#050708"/>
<rect x="240.40" y="940.90" width="17.80" height="24.80" fill="#a1a0a5"/>
<line x1="274.1" y1="887.3" x2="274.1" y2="915.6" stroke="#111" stroke-width="1.5" />
<line x1="268.0" y1="887.3" x2="280.20000000000005" y2="887.3" stroke="#111" stroke-width="1.5" />
<rect x="261.80" y="914.60" width="25.00" height="54.70" fill="#050708"/>
<path d="M265.40,921.90H268.70V926.95H265.40zM265.40,932.00H268.70V937.05H265.40zM265.40,942.10H268.70V947.15H265.40zM265.40,952.20H268.70V957.25H265.40zM265.40,962.30H268.70V965.70H265.40zM268.70,918.30H273.75V921.90H268.70zM268.70,926.95H273.75V932.00H268.70zM268.70,937.05H273.75V942.10H268.70zM268.70,947.15H273.75V952.20H268.70zM268.70,957.25H273.75V962.30H268.70zM273.75,921.90H278.80V926.95H273.75zM273.75,932.00H278.80V937.05H273.75zM273.75,942.10H278.80V947.15H273.75zM273.75,952.20H278.80V957.25H273.75zM273.75,962.30H278.80V965.70H273.75zM278.80,918.30H283.20V921.90H278.80zM278.80,926.95H283.20V932.00H278.80zM278.80,937.05H283.20V942.10H278.80zM278.80,947.15H283.20V952.20H278.80zM278.80,957.25H283.20V962.30H278.80z" fill="#fff"/>
<line x1="299.1" y1="941.9" x2="299.1" y2="955.5" stroke="#111" stroke-width="1.5" />
<line x1="293.0" y1="941.9" x2="305.20000000000005" y2="941.9" stroke="#111" stroke-width="1.5" />
<rect x="286.80" y="954.50" width="25.00" height="14.80" fill="#050708"/>
<rect x="290.40" y="958.20" width="17.80" height="7.50" fill="#ededed"/>
<path d="M299.05,958.20V959.80M307.80,958.20V959.80M290.40,959.80H308.20M294.90,959.80V963.63M303.65,959.80V963.63M290.40,963.63H308.20M299.05,963.63V965.70M307.80,963.63V965.70" stroke="#555" stroke-width="1.3" fill="none"/>
<line x1="349.3" y1="900.1" x2="349.3" y2="922.1" stroke="#111" stroke-width="1.5" />
<line x1="343.2" y1="900.1" x2="355.40000000000003" y2="900.1" stroke="#111" stroke-width="1.5" />
<rect x="337.00" y="921.10" width="25.00" height="48.20" fill="#050708"/>
<rect x="340.60" y="924.80" width="17.80" height="40.90" fill="#fff"/>
<line x1="374.3" y1="877.6" x2="374.3" y2="914.3" stroke="#111" stroke-width="1.5" />
<line x1="368.2" y1="877.6" x2="380.40000000000003" y2="877.6" stroke="#111" stroke-width="1.5" />
<rect x="362.00" y="913.30" width="25.00" height="56.00" fill="#050708"/>
<rect x="365.60" y="917.00" width="17.80" height="48.70" fill="#a1a0a5"/>
<line x1="399.3" y1="877.6" x2="399.3" y2="916.1" stroke="#111" stroke-width="1.5" />
<line x1="393.2" y1="877.6" x2="405.40000000000003" y2="877.6" stroke="#111" stroke-width="1.5" />
<rect x="387.00" y="915.10" width="25.00" height="54.20" fill="#050708"/>
<path d="M390.60,922.40H393.90V927.45H390.60zM390.60,932.50H393.90V937.55H390.60zM390.60,942.60H393.90V947.65H390.60zM390.60,952.70H393.90V957.75H390.60zM390.60,962.80H393.90V965.70H390.60zM393.90,918.80H398.95V922.40H393.90zM393.90,927.45H398.95V932.50H393.90zM393.90,937.55H398.95V942.60H393.90zM393.90,947.65H398.95V952.70H393.90zM393.90,957.75H398.95V962.80H393.90zM398.95,922.40H404.00V927.45H398.95zM398.95,932.50H404.00V937.55H398.95zM398.95,942.60H404.00V947.65H398.95zM398.95,952.70H404.00V957.75H398.95zM398.95,962.80H404.00V965.70H398.95zM404.00,918.80H408.40V922.40H404.00zM404.00,927.45H408.40V932.50H404.00zM404.00,937.55H408.40V942.60H404.00zM404.00,947.65H408.40V952.70H404.00zM404.00,957.75H408.40V962.80H404.00z" fill="#fff"/>
<line x1="424.3" y1="876.6" x2="424.3" y2="913.3" stroke="#111" stroke-width="1.5" />
<line x1="418.2" y1="876.6" x2="430.40000000000003" y2="876.6" stroke="#111" stroke-width="1.5" />
<rect x="412.00" y="912.30" width="25.00" height="57.00" fill="#050708"/>
<rect x="415.60" y="916.00" width="17.80" height="49.70" fill="#ededed"/>
<path d="M424.25,916.00V917.60M433.00,916.00V917.60M415.60,917.60H433.40M420.10,917.60V921.43M428.85,917.60V921.43M415.60,921.43H433.40M424.25,921.43V925.26M433.00,921.43V925.26M415.60,925.26H433.40M420.10,925.26V929.09M428.85,925.26V929.09M415.60,929.09H433.40M424.25,929.09V932.92M433.00,929.09V932.92M415.60,932.92H433.40M420.10,932.92V936.75M428.85,932.92V936.75M415.60,936.75H433.40M424.25,936.75V940.58M433.00,936.75V940.58M415.60,940.58H433.40M420.10,940.58V944.41M428.85,940.58V944.41M415.60,944.41H433.40M424.25,944.41V948.24M433.00,944.41V948.24M415.60,948.24H433.40M420.10,948.24V952.07M428.85,948.24V952.07M415.60,952.07H433.40M424.25,952.07V955.90M433.00,952.07V955.90M415.60,955.90H433.40M420.10,955.90V959.73M428.85,955.90V959.73M415.60,959.73H433.40M424.25,959.73V963.56M433.00,959.73V963.56M415.60,963.56H433.40M420.10,963.56V965.70M428.85,963.56V965.70" stroke="#555" stroke-width="1.3" fill="none"/>
<line x1="474.0" y1="904.5" x2="474.0" y2="928.2" stroke="#111" stroke-width="1.5" />
<line x1="467.9" y1="904.5" x2="480.1" y2="904.5" stroke="#111" stroke-width="1.5" />
<rect x="461.70" y="927.20" width="25.00" height="42.10" fill="#050708"/>
<rect x="465.30" y="930.90" width="17.80" height="34.80" fill="#fff"/>
<line x1="499.0" y1="936.2" x2="499.0" y2="954.3" stroke="#111" stroke-width="1.5" />
<line x1="492.9" y1="936.2" x2="505.1" y2="936.2" stroke="#111" stroke-width="1.5" />
<rect x="486.70" y="953.30" width="25.00" height="16.00" fill="#050708"/>
<rect x="490.30" y="957.00" width="17.80" height="8.70" fill="#a1a0a5"/>
<line x1="524.0" y1="955.3" x2="524.0" y2="960.8" stroke="#111" stroke-width="1.5" />
<line x1="517.9" y1="955.3" x2="530.1" y2="955.3" stroke="#111" stroke-width="1.5" />
<rect x="511.70" y="959.80" width="25.00" height="9.50" fill="#050708"/>
<path d="M518.60,963.50H523.65V965.70H518.60zM528.70,963.50H533.10V965.70H528.70z" fill="#fff"/>
<line x1="549.0" y1="927.5" x2="549.0" y2="949.1" stroke="#111" stroke-width="1.5" />
<line x1="542.9" y1="927.5" x2="555.1" y2="927.5" stroke="#111" stroke-width="1.5" />
<rect x="536.70" y="948.10" width="25.00" height="21.20" fill="#050708"/>
<rect x="540.30" y="951.80" width="17.80" height="13.90" fill="#ededed"/>
<path d="M548.95,951.80V953.40M557.70,951.80V953.40M540.30,953.40H558.10M544.80,953.40V957.23M553.55,953.40V957.23M540.30,957.23H558.10M548.95,957.23V961.06M557.70,957.23V961.06M540.30,961.06H558.10M544.80,961.06V964.89M553.55,961.06V964.89M540.30,964.89H558.10M548.95,964.89V965.70M557.70,964.89V965.70" stroke="#555" stroke-width="1.3" fill="none"/>
<line x1="226.2" y1="822.9" x2="275.4" y2="822.9" stroke="#111" stroke-width="1.5" />
<text x="242.0" y="818.3" font-family='"DejaVu Sans", sans-serif' font-size="14.4" font-weight="bold" text-anchor="middle" fill="#111" >*</text>
<text x="251.8" y="818.3" font-family='"DejaVu Sans", sans-serif' font-size="14.4" font-weight="bold" text-anchor="middle" fill="#111" >*</text>
<text x="261.6" y="818.3" font-family='"DejaVu Sans", sans-serif' font-size="14.4" font-weight="bold" text-anchor="middle" fill="#111" >*</text>
<line x1="226.2" y1="887.5" x2="250.7" y2="887.5" stroke="#111" stroke-width="1.5" />
<text x="233.7" y="882.9" font-family='"DejaVu Sans", sans-serif' font-size="14.4" font-weight="bold" text-anchor="middle" fill="#111" >*</text>
<text x="243.5" y="882.9" font-family='"DejaVu Sans", sans-serif' font-size="14.4" font-weight="bold" text-anchor="middle" fill="#111" >*</text>
<line x1="272.6" y1="859.3" x2="298.9" y2="859.3" stroke="#111" stroke-width="1.5" />
<text x="277.1" y="854.7" font-family='"DejaVu Sans", sans-serif' font-size="14.4" font-weight="bold" text-anchor="middle" fill="#111" >*</text>
<text x="286.9" y="854.7" font-family='"DejaVu Sans", sans-serif' font-size="14.4" font-weight="bold" text-anchor="middle" fill="#111" >*</text>
<text x="296.7" y="854.7" font-family='"DejaVu Sans", sans-serif' font-size="14.4" font-weight="bold" text-anchor="middle" fill="#111" >*</text>
<line x1="468.2" y1="823" x2="548.4" y2="823" stroke="#111" stroke-width="1.5" />
<text x="504.7" y="818.4" font-family='"DejaVu Sans", sans-serif' font-size="14.4" font-weight="bold" text-anchor="middle" fill="#111" >*</text>
<text x="514.5" y="818.4" font-family='"DejaVu Sans", sans-serif' font-size="14.4" font-weight="bold" text-anchor="middle" fill="#111" >*</text>
<line x1="468.2" y1="851.3" x2="523.3" y2="851.3" stroke="#111" stroke-width="1.5" />
<text x="487.4" y="846.7" font-family='"DejaVu Sans", sans-serif' font-size="14.4" font-weight="bold" text-anchor="middle" fill="#111" >*</text>
<text x="497.2" y="846.7" font-family='"DejaVu Sans", sans-serif' font-size="14.4" font-weight="bold" text-anchor="middle" fill="#111" >*</text>
<text x="507.0" y="846.7" font-family='"DejaVu Sans", sans-serif' font-size="14.4" font-weight="bold" text-anchor="middle" fill="#111" >*</text>
<line x1="465.3" y1="879.8" x2="498.7" y2="879.8" stroke="#111" stroke-width="1.5" />
<text x="473.7" y="875.2" font-family='"DejaVu Sans", sans-serif' font-size="14.4" font-weight="bold" text-anchor="middle" fill="#111" >*</text>
<text x="483.5" y="875.2" font-family='"DejaVu Sans", sans-serif' font-size="14.4" font-weight="bold" text-anchor="middle" fill="#111" >*</text>
<text x="493.3" y="875.2" font-family='"DejaVu Sans", sans-serif' font-size="14.4" font-weight="bold" text-anchor="middle" fill="#111" >*</text>
<line x1="517.9" y1="893.1" x2="549.1" y2="893.1" stroke="#111" stroke-width="1.5" />
<text x="529.6" y="888.5" font-family='"DejaVu Sans", sans-serif' font-size="14.4" font-weight="bold" text-anchor="middle" fill="#111" >*</text>
<text x="539.4" y="888.5" font-family='"DejaVu Sans", sans-serif' font-size="14.4" font-weight="bold" text-anchor="middle" fill="#111" >*</text>
<rect x="302.3" y="697.5" width="27.6" height="9.9" fill="#050708"/>
<rect x="302.3" y="719.0" width="27.6" height="9.9" fill="#050708"/>
<rect x="302.3" y="742.8" width="27.6" height="9.9" fill="#050708"/>
<rect x="302.3" y="765.6" width="27.6" height="9.9" fill="#050708"/>
<rect x="306.6" y="701.1" width="19.2" height="2.6" fill="#fff"/>
<rect x="306.6" y="722.6" width="19.2" height="2.6" fill="#a1a0a5"/>
<rect x="309.5" y="746.5" width="4.9" height="2.4" fill="#fff"/><rect x="319.5" y="746.5" width="5.5" height="2.4" fill="#fff"/>
<rect x="306.6" y="769.3" width="19.2" height="2.0" fill="#c4c4c4"/>
<text x="345.1" y="708.8" font-family='"Liberation Sans", sans-serif' font-size="17.3" font-weight="normal" text-anchor="start" fill="#111" textLength="23.3" lengthAdjust="spacingAndGlyphs" >HC</text>
<text x="345.1" y="730.2" font-family='"Liberation Sans", sans-serif' font-size="17.3" font-weight="normal" text-anchor="start" fill="#111" textLength="32.2" lengthAdjust="spacingAndGlyphs" >SLE</text>
<text x="345.1" y="754.1" font-family='"Liberation Sans", sans-serif' font-size="17.3" font-weight="normal" text-anchor="start" fill="#111" textLength="45.6" lengthAdjust="spacingAndGlyphs" >Active</text>
<text x="345.1" y="776.7" font-family='"Liberation Sans", sans-serif' font-size="17.3" font-weight="normal" text-anchor="start" fill="#111" textLength="57.8" lengthAdjust="spacingAndGlyphs" >Inactive</text>
<text transform="translate(15.9,1026.21) rotate(-90) scale(0.9608,1)" font-family='"Liberation Sans", sans-serif' font-size="22.00" font-weight="bold" fill="#050708">Percentage of cells in CD19 cells (%)</text>
<text transform="translate(141.5,997.4) rotate(-45)" font-family='"Liberation Sans", sans-serif' font-size="19.3" font-weight="bold" text-anchor="end" fill="#050708">CD19+CD27-IgD+</text>
<text transform="translate(266.6,997.4) rotate(-45)" font-family='"Liberation Sans", sans-serif' font-size="19.3" font-weight="bold" text-anchor="end" fill="#050708">CD19+CD27+CD20-CD38+</text>
<text transform="translate(391.8,997.4) rotate(-45)" font-family='"Liberation Sans", sans-serif' font-size="19.3" font-weight="bold" text-anchor="end" fill="#050708">CD19+CD27+IgD-</text>
<text transform="translate(516.5,997.4) rotate(-45)" font-family='"Liberation Sans", sans-serif' font-size="19.3" font-weight="bold" text-anchor="end" fill="#050708">CD19+CD27+IgD+</text>
<line x1="635.9" y1="721.35" x2="635.9" y2="961.0" stroke="#050708" stroke-width="2.4" />
<line x1="626.3" y1="951.1" x2="979.8" y2="951.1" stroke="#050708" stroke-width="2.4" />
<line x1="626.3" y1="951.3000000000001" x2="635.9" y2="951.3000000000001" stroke="#050708" stroke-width="2.5" />
<text x="623.4" y="957.6" font-family='"Liberation Sans", sans-serif' font-size="17.3" font-weight="bold" text-anchor="end" fill="#050708" >0</text>
<line x1="626.3" y1="894.125" x2="635.9" y2="894.125" stroke="#050708" stroke-width="2.5" />
<text x="623.4" y="900.5" font-family='"Liberation Sans", sans-serif' font-size="17.3" font-weight="bold" text-anchor="end" fill="#050708" >5</text>
<line x1="626.3" y1="836.95" x2="635.9" y2="836.95" stroke="#050708" stroke-width="2.5" />
<text x="623.4" y="843.3" font-family='"Liberation Sans", sans-serif' font-size="17.3" font-weight="bold" text-anchor="end" fill="#050708" >10</text>
<line x1="626.3" y1="779.7750000000001" x2="635.9" y2="779.7750000000001" stroke="#050708" stroke-width="2.5" />
<text x="623.4" y="786.1" font-family='"Liberation Sans", sans-serif' font-size="17.3" font-weight="bold" text-anchor="end" fill="#050708" >15</text>
<line x1="626.3" y1="722.6" x2="635.9" y2="722.6" stroke="#050708" stroke-width="2.5" />
<text x="623.4" y="728.9" font-family='"Liberation Sans", sans-serif' font-size="17.3" font-weight="bold" text-anchor="end" fill="#050708" >20</text>
<line x1="635.9" y1="951.1" x2="635.9" y2="961.0" stroke="#050708" stroke-width="2.5" />
<text x="636.2" y="980.6" font-family='"Liberation Sans", sans-serif' font-size="17.4" font-weight="bold" text-anchor="middle" fill="#050708" >0</text>
<line x1="704.56" y1="951.1" x2="704.56" y2="961.0" stroke="#050708" stroke-width="2.5" />
<text x="704.9" y="980.6" font-family='"Liberation Sans", sans-serif' font-size="17.4" font-weight="bold" text-anchor="middle" fill="#050708" >10</text>
<line x1="773.22" y1="951.1" x2="773.22" y2="961.0" stroke="#050708" stroke-width="2.5" />
<text x="773.5" y="980.6" font-family='"Liberation Sans", sans-serif' font-size="17.4" font-weight="bold" text-anchor="middle" fill="#050708" >20</text>
<line x1="841.88" y1="951.1" x2="841.88" y2="961.0" stroke="#050708" stroke-width="2.5" />
<text x="842.2" y="980.6" font-family='"Liberation Sans", sans-serif' font-size="17.4" font-weight="bold" text-anchor="middle" fill="#050708" >30</text>
<line x1="910.54" y1="951.1" x2="910.54" y2="961.0" stroke="#050708" stroke-width="2.5" />
<text x="910.8" y="980.6" font-family='"Liberation Sans", sans-serif' font-size="17.4" font-weight="bold" text-anchor="middle" fill="#050708" >40</text>
<line x1="979.1999999999999" y1="951.1" x2="979.1999999999999" y2="961.0" stroke="#050708" stroke-width="2.5" />
<text x="979.5" y="980.6" font-family='"Liberation Sans", sans-serif' font-size="17.4" font-weight="bold" text-anchor="middle" fill="#050708" >50</text>
<line x1="638.0" y1="919.0" x2="899.9" y2="781.1" stroke="#111" stroke-width="1.3" />
<circle cx="900.2" cy="768.1" r="4.7" fill="#050708"/>
<circle cx="721.0" cy="791.0" r="4.7" fill="#050708"/>
<circle cx="775.3" cy="802.4" r="4.7" fill="#050708"/>
<circle cx="751.2" cy="813.9" r="4.7" fill="#050708"/>
<circle cx="781.5" cy="813.9" r="4.7" fill="#050708"/>
<circle cx="835.7" cy="813.9" r="4.7" fill="#050708"/>
<circle cx="673.7" cy="836.8" r="4.7" fill="#050708"/>
<circle cx="721.7" cy="836.8" r="4.7" fill="#050708"/>
<circle cx="733.4" cy="836.8" r="4.7" fill="#050708"/>
<circle cx="797.9" cy="836.8" r="4.7" fill="#050708"/>
<circle cx="846.7" cy="836.8" r="4.7" fill="#050708"/>
<circle cx="891.3" cy="836.8" r="4.7" fill="#050708"/>
<circle cx="702.5" cy="871.1" r="4.7" fill="#050708"/>
<circle cx="702.5" cy="893.9" r="4.7" fill="#050708"/>
<circle cx="691.9" cy="905.4" r="4.7" fill="#050708"/>
<circle cx="638.3" cy="916.8" r="4.7" fill="#050708"/>
<circle cx="648.7" cy="916.8" r="4.7" fill="#050708"/>
<circle cx="666.8" cy="916.8" r="4.7" fill="#050708"/>
<circle cx="673.7" cy="916.8" r="4.7" fill="#050708"/>
<circle cx="676.8" cy="916.8" r="4.7" fill="#050708"/>
<circle cx="745.8" cy="916.8" r="4.7" fill="#050708"/>
<circle cx="750.6" cy="928.2" r="4.7" fill="#050708"/>
<circle cx="648.5" cy="928.2" r="4.7" fill="#050708"/>
<circle cx="652.7" cy="928.2" r="4.7" fill="#050708"/>
<circle cx="659.9" cy="928.2" r="4.7" fill="#050708"/>
<circle cx="665.4" cy="928.2" r="4.7" fill="#050708"/>
<circle cx="638.0" cy="939.7" r="4.7" fill="#050708"/>
<circle cx="646.9" cy="939.7" r="4.7" fill="#050708"/>
<text transform="translate(592.7,870.27) rotate(-90) scale(0.9922,1)" font-family='"Liberation Sans", sans-serif' font-size="19.00" font-weight="bold" fill="#050708">SLEDAI</text>
<text transform="translate(652.15,709) scale(1.1072,1)" font-family='"Liberation Sans", sans-serif' font-size="16.90" font-weight="normal" fill="#111" >r=0.7664</text>
<text transform="translate(652.23,730.8) scale(1.0946,1)" font-family='"Liberation Sans", sans-serif' font-size="16.90" font-weight="normal" fill="#111" >p&lt;0.0001</text>
<line x1="1019.2" y1="721.1500000000001" x2="1019.2" y2="961.0" stroke="#050708" stroke-width="2.4" />
<line x1="1009.6" y1="951.1" x2="1362.8" y2="951.1" stroke="#050708" stroke-width="2.4" />
<line x1="1009.6" y1="951.3000000000001" x2="1019.2" y2="951.3000000000001" stroke="#050708" stroke-width="2.5" />
<text x="1006.7" y="957.6" font-family='"Liberation Sans", sans-serif' font-size="17.3" font-weight="bold" text-anchor="end" fill="#050708" >0</text>
<line x1="1009.6" y1="875.0000000000001" x2="1019.2" y2="875.0000000000001" stroke="#050708" stroke-width="2.5" />
<text x="1006.7" y="881.4" font-family='"Liberation Sans", sans-serif' font-size="17.3" font-weight="bold" text-anchor="end" fill="#050708" >500</text>
<line x1="1009.6" y1="798.7" x2="1019.2" y2="798.7" stroke="#050708" stroke-width="2.5" />
<text x="1006.7" y="805.0" font-family='"Liberation Sans", sans-serif' font-size="17.3" font-weight="bold" text-anchor="end" fill="#050708" >1000</text>
<line x1="1009.6" y1="722.4000000000001" x2="1019.2" y2="722.4000000000001" stroke="#050708" stroke-width="2.5" />
<text x="1006.7" y="728.8" font-family='"Liberation Sans", sans-serif' font-size="17.3" font-weight="bold" text-anchor="end" fill="#050708" >1500</text>
<line x1="1019.2" y1="951.1" x2="1019.2" y2="961.0" stroke="#050708" stroke-width="2.5" />
<text x="1019.5" y="980.6" font-family='"Liberation Sans", sans-serif' font-size="17.4" font-weight="bold" text-anchor="middle" fill="#050708" >0</text>
<line x1="1087.8" y1="951.1" x2="1087.8" y2="961.0" stroke="#050708" stroke-width="2.5" />
<text x="1088.1" y="980.6" font-family='"Liberation Sans", sans-serif' font-size="17.4" font-weight="bold" text-anchor="middle" fill="#050708" >10</text>
<line x1="1156.4" y1="951.1" x2="1156.4" y2="961.0" stroke="#050708" stroke-width="2.5" />
<text x="1156.7" y="980.6" font-family='"Liberation Sans", sans-serif' font-size="17.4" font-weight="bold" text-anchor="middle" fill="#050708" >20</text>
<line x1="1225.0" y1="951.1" x2="1225.0" y2="961.0" stroke="#050708" stroke-width="2.5" />
<text x="1225.3" y="980.6" font-family='"Liberation Sans", sans-serif' font-size="17.4" font-weight="bold" text-anchor="middle" fill="#050708" >30</text>
<line x1="1293.6000000000001" y1="951.1" x2="1293.6000000000001" y2="961.0" stroke="#050708" stroke-width="2.5" />
<text x="1293.9" y="980.6" font-family='"Liberation Sans", sans-serif' font-size="17.4" font-weight="bold" text-anchor="middle" fill="#050708" >40</text>
<line x1="1362.2" y1="951.1" x2="1362.2" y2="961.0" stroke="#050708" stroke-width="2.5" />
<text x="1362.5" y="980.6" font-family='"Liberation Sans", sans-serif' font-size="17.4" font-weight="bold" text-anchor="middle" fill="#050708" >50</text>
<line x1="1020.6" y1="916.0" x2="1282.6" y2="815.3" stroke="#111" stroke-width="1.3" />
<circle cx="1031.5" cy="798.5" r="4.7" fill="#050708"/>
<circle cx="1056.2" cy="798.5" r="4.7" fill="#050708"/>
<circle cx="1104.3" cy="798.5" r="4.7" fill="#050708"/>
<circle cx="1157.8" cy="798.5" r="4.7" fill="#050708"/>
<circle cx="1164.6" cy="798.5" r="4.7" fill="#050708"/>
<circle cx="1218.5" cy="798.5" r="4.7" fill="#050708"/>
<circle cx="1229.8" cy="798.5" r="4.7" fill="#050708"/>
<circle cx="1274.4" cy="798.5" r="4.7" fill="#050708"/>
<circle cx="1020.6" cy="902.3" r="4.7" fill="#050708"/>
<circle cx="1031.3" cy="902.3" r="4.7" fill="#050708"/>
<circle cx="1042.9" cy="902.3" r="4.7" fill="#050708"/>
<circle cx="1049.9" cy="902.3" r="4.7" fill="#050708"/>
<circle cx="1057.4" cy="902.3" r="4.7" fill="#050708"/>
<circle cx="1075.3" cy="902.3" r="4.7" fill="#050708"/>
<circle cx="1085.6" cy="902.3" r="4.7" fill="#050708"/>
<circle cx="1103.6" cy="902.3" r="4.7" fill="#050708"/>
<circle cx="1115.9" cy="902.3" r="4.7" fill="#050708"/>
<circle cx="1129.0" cy="902.3" r="4.7" fill="#050708"/>
<circle cx="1134.2" cy="902.3" r="4.7" fill="#050708"/>
<circle cx="1180.4" cy="902.3" r="4.7" fill="#050708"/>
<circle cx="1282.6" cy="902.3" r="4.7" fill="#050708"/>
<circle cx="1021.9" cy="935.8" r="4.7" fill="#050708"/>
<circle cx="1036.4" cy="935.8" r="4.7" fill="#050708"/>
<circle cx="1059.0" cy="935.8" r="4.7" fill="#050708"/>
<circle cx="1085.7" cy="935.8" r="4.7" fill="#050708"/>
<circle cx="1020.6" cy="951.1" r="4.7" fill="#050708"/>
<circle cx="1029.1" cy="951.1" r="4.7" fill="#050708"/>
<circle cx="1035.4" cy="951.1" r="4.7" fill="#050708"/>
<circle cx="1047.3" cy="951.1" r="4.7" fill="#050708"/>
<text transform="translate(956.85,876.90) rotate(-90) scale(0.9949,1)" font-family='"Liberation Sans", sans-serif' font-size="19.00" font-weight="bold" fill="#050708">ANA titer</text>
<text transform="translate(1035.35,712.8) scale(1.1131,1)" font-family='"Liberation Sans", sans-serif' font-size="16.90" font-weight="normal" fill="#111" >r=0.5210</text>
<text transform="translate(1035.39,734.4) scale(1.1294,1)" font-family='"Liberation Sans", sans-serif' font-size="16.90" font-weight="normal" fill="#111" >p=0.0032</text>
<line x1="585.4" y1="1027.5" x2="1406" y2="1024.15" stroke="#000" stroke-width="2.4" />
<polygon points="1417.6,1024.2 1403.9,1017.2 1403.9,1031.0" fill="#000"/>
<text transform="translate(611.14,1068.6) scale(1.0839,1)" font-family='"Liberation Sans", sans-serif' font-size="21.70" font-weight="normal" fill="#111" stroke="#111" stroke-width="0.4">Plasmablasts in CD19</text>
<text transform="translate(848.88,1068.6) scale(0.8121,1)" font-family='"Liberation Sans", sans-serif' font-size="21.70" font-weight="normal" fill="#111" stroke="#111" stroke-width="0.3">(%)</text>
</svg>
</body></html>
